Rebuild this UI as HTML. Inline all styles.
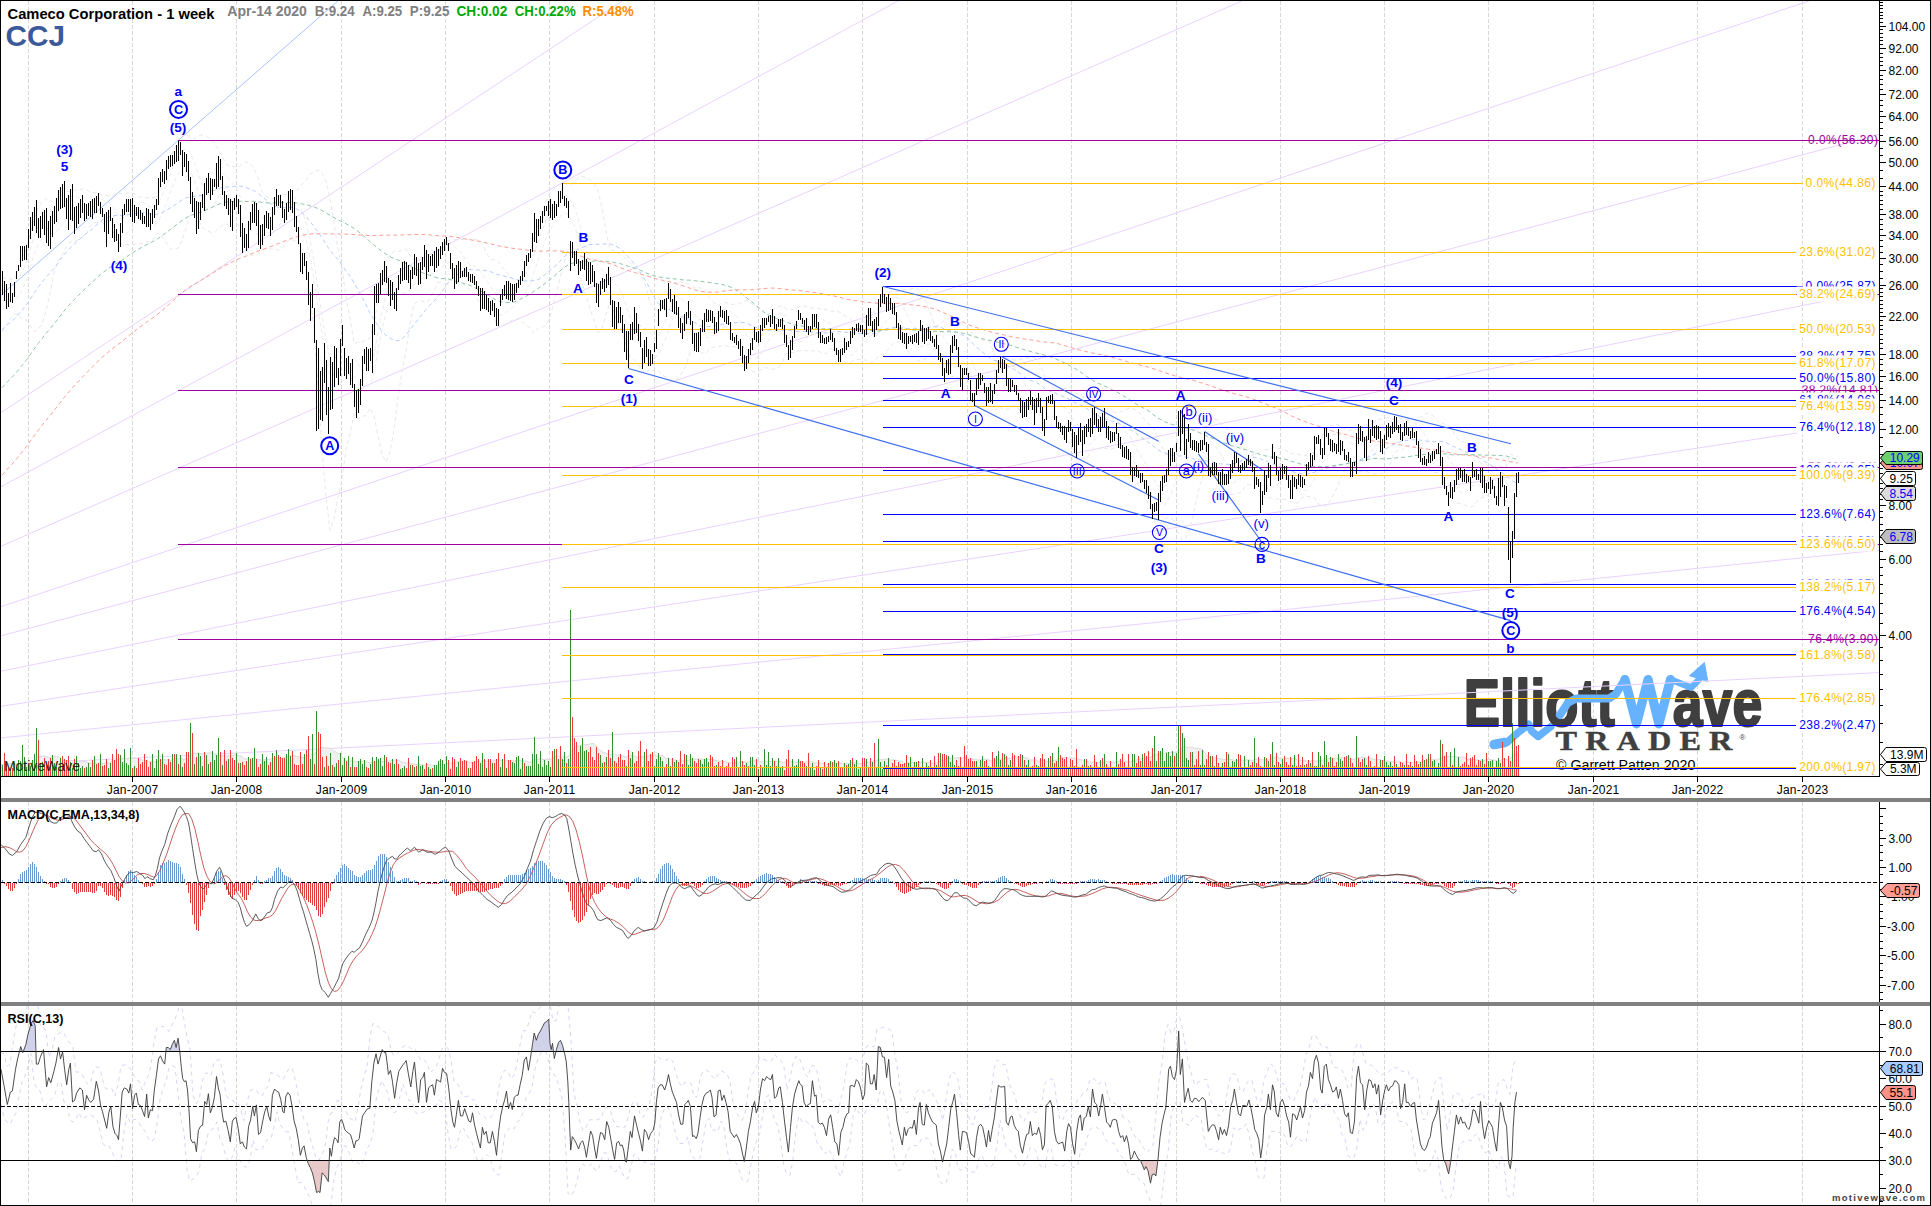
<!DOCTYPE html><html><head><meta charset="utf-8"><title>CCJ</title><style>html,body{margin:0;padding:0;background:#fff}svg{display:block}</style></head><body><svg width="1931" height="1206" viewBox="0 0 1931 1206" font-family="Liberation Sans, sans-serif" font-size="12px"><rect width="1931" height="1206" fill="#fff"/><path d="M28.5 1V776M28.5 802V1002M28.5 1006V1204M132.5 1V776M132.5 802V1002M132.5 1006V1204M236.5 1V776M236.5 802V1002M236.5 1006V1204M341.5 1V776M341.5 802V1002M341.5 1006V1204M445.5 1V776M445.5 802V1002M445.5 1006V1204M549.5 1V776M549.5 802V1002M549.5 1006V1204M654.5 1V776M654.5 802V1002M654.5 1006V1204M758.5 1V776M758.5 802V1002M758.5 1006V1204M862.5 1V776M862.5 802V1002M862.5 1006V1204M967.5 1V776M967.5 802V1002M967.5 1006V1204M1071.5 1V776M1071.5 802V1002M1071.5 1006V1204M1176.5 1V776M1176.5 802V1002M1176.5 1006V1204M1280.5 1V776M1280.5 802V1002M1280.5 1006V1204M1384.5 1V776M1384.5 802V1002M1384.5 1006V1204M1488.5 1V776M1488.5 802V1002M1488.5 1006V1204M1593.5 1V776M1593.5 802V1002M1593.5 1006V1204M1697.5 1V776M1697.5 802V1002M1697.5 1006V1204M1802.5 1V776M1802.5 802V1002M1802.5 1006V1204" stroke="#d8d8d8" stroke-width="1" stroke-dasharray="4 2" fill="none" shape-rendering="crispEdges"/><defs><clipPath id="cm"><rect x="1" y="1" width="1878" height="775"/></clipPath><clipPath id="cmacd"><rect x="1" y="802" width="1878" height="201"/></clipPath><clipPath id="crsi"><rect x="1" y="1006" width="1878" height="199"/></clipPath></defs><path d="M1496.8 744.5 L1507.2 742.3 L1518 732.6 L1528.8 724.3 L1531.6 731.2 L1538.2 736.5 L1550.8 726.6" stroke="#66b2ff" stroke-width="7.5" fill="none" stroke-linejoin="round" stroke-linecap="round"/><path d="M1494 744.5 L1504.7 742.5" stroke="#66b2ff" stroke-width="9.5" fill="none" stroke-linecap="round"/><g font-weight="bold" fill="#3f3f3f" stroke="#3f3f3f" stroke-width="2.2" stroke-linejoin="round"><text x="1463.8" y="726.3" font-size="67px" textLength="151" lengthAdjust="spacingAndGlyphs">Elliott</text><text x="1672.8" y="726.3" font-size="67px" textLength="89.4" lengthAdjust="spacingAndGlyphs">ave</text></g><path d="M1559.9 715 L1567.7 703.1 L1576 698.4 L1609.2 698.4 L1615.8 694.1 L1624.9 679.5" stroke="#66b2ff" stroke-width="8" fill="none" stroke-linejoin="round" stroke-linecap="round"/><path d="M1624.9 679.5 L1636.5 723.9 L1648.1 679.5 L1658.9 723.9 L1670.5 679.5" stroke="#66b2ff" stroke-width="9.2" fill="none" stroke-linejoin="round" stroke-linecap="round"/><path d="M1670.5 679.5 L1691.2 687.6 L1698.6 679.9" stroke="#66b2ff" stroke-width="6.5" fill="none" stroke-linejoin="round" stroke-linecap="round"/><path d="M1689.5 675.7 L1704.4 662.5 L1707.8 681.5 Z" fill="#66b2ff" stroke="#66b2ff" stroke-width="1" stroke-linejoin="round"/><text transform="translate(1555.6,750.4) scale(1.22,1)" font-family="Liberation Serif, serif" font-weight="bold" font-size="26.5px" letter-spacing="6.6" fill="#3f3f3f" stroke="#3f3f3f" stroke-width="0.4">TRADER</text><text x="1739.5" y="739.5" font-size="8px" fill="#3f3f3f">®</text><text x="1556" y="770.3" font-size="13.8px" fill="#000" textLength="139.3" lengthAdjust="spacingAndGlyphs">© Garrett Patten 2020</text><g clip-path="url(#cm)"><path d="M0 413.3L1879 -831.5M0 487.3L1879 -530.2M0 546.7L1879 -279.1M0 607L1879 -22.5M0 636.1L1879 134.4M0 671.4L1879 290M0 706.5L1879 420.5M0 738L1879 550.2M0 764.6L1879 672.6" stroke="#ead2ff" stroke-width="1" fill="none"/><path d="M0 296L339 0" stroke="#a9c2ff" stroke-width="1" fill="none"/><polygon points="0,776 2,764.8 4,763.9 6,763.7 8,763.9 10,764.2 12,764.5 14,764.4 16,764.6 18,764.2 20,763.9 22,762.4 24,761.8 26,762 28,762 30,763.1 32,762.9 34,761.8 36,758.7 38,756.5 40,756.6 42,756.2 44,756 46,756.3 48,757.5 50,757.6 52,756.7 54,756.5 56,756.5 58,757.2 60,757.5 62,759.6 64,761 66,760.7 68,760.2 70,760.5 72,760.7 74,760.5 76,760.4 78,761 80,761.4 82,761.4 84,761.4 86,762 88,762.6 90,763.2 92,763.2 94,763.2 96,763.4 98,763 100,762.6 102,763.3 104,763.5 106,762.8 108,763 110,762.6 112,761.6 114,761.4 116,759.9 118,759.5 120,759.4 122,759.2 124,758.1 126,758.8 128,758.8 130,757.5 132,758.2 134,758 136,758.4 138,758.8 140,759.1 142,760.1 144,760.1 146,760.6 148,760.9 150,762 152,761.3 154,761.5 156,762.4 158,761 160,760.5 162,759.4 164,759.8 166,759.9 168,759.6 170,760.3 172,759.8 174,758.8 176,758.1 178,758.9 180,757.9 182,758.5 184,759.5 186,758.9 188,758.7 190,755.6 192,753.1 194,753.5 196,753.1 198,753 200,753.3 202,754.2 204,753.3 206,753.3 208,753 210,752.9 212,752.8 214,753.5 216,755.9 218,756.3 220,755.3 222,755.9 224,755.7 226,756.1 228,755.6 230,755.4 232,755.7 234,755.3 236,754.6 238,755.5 240,755.7 242,756.3 244,758.4 246,759.1 248,758.5 250,759.2 252,758.9 254,758.1 256,758.8 258,759.5 260,759.8 262,759.9 264,759.8 266,759.3 268,759.5 270,759.3 272,758.7 274,758.7 276,757.9 278,757.7 280,758.4 282,758.4 284,757.7 286,756.9 288,756.6 290,756.2 292,755.7 294,755.7 296,755.9 298,756.9 300,756.5 302,757.6 304,757.5 306,757 308,755.2 310,755.4 312,753.9 314,755 316,751.9 318,750.5 320,748.1 322,747.5 324,747.6 326,748 328,748.1 330,748.1 332,749.2 334,751.6 336,751.9 338,753.9 340,753.1 342,756.8 344,758.8 346,760.9 348,760.8 350,760.8 352,760.9 354,761 356,762 358,761.6 360,761.1 362,761.2 364,761.1 366,762.2 368,762.4 370,762.8 372,762.5 374,762.8 376,762.1 378,762.2 380,761.6 382,761.5 384,761.1 386,760.9 388,760.7 390,761 392,760.5 394,760.2 396,759.9 398,760.4 400,761 402,761.9 404,762.4 406,763.2 408,762.5 410,763.3 412,763.9 414,764.3 416,764.5 418,764.3 420,764.4 422,764.8 424,765.2 426,764.8 428,764.7 430,764.9 432,764.9 434,765.5 436,765.5 438,765.2 440,764.6 442,764.1 444,764.7 446,763.9 448,763.5 450,763.5 452,763 454,762.5 456,762.3 458,761.9 460,761.4 462,761.1 464,761 466,761.2 468,761.8 470,762.1 472,762.5 474,762.6 476,761.6 478,761.7 480,762 482,760.8 484,760.6 486,761.3 488,761.2 490,761.1 492,761.2 494,760.9 496,760.2 498,759.5 500,760 502,760.3 504,759.9 506,760.4 508,761 510,761 512,760.6 514,760.9 516,760.7 518,760.2 520,760.7 522,760.6 524,761.3 526,761.2 528,761.7 530,762.6 532,761.5 534,759.7 536,759.2 538,759.3 540,758.4 542,759.2 544,759.5 546,759.1 548,759.4 550,759.7 552,758.6 554,757.3 556,756 558,756.4 560,757.1 562,757.5 564,756.5 566,757.5 568,756.9 570,753.5 572,749.8 574,748.1 576,746.1 578,746.2 580,746 582,745.2 584,744.5 586,744.9 588,744.4 590,744 592,743.5 594,743.6 596,745.9 598,748.7 600,750.1 602,751.7 604,752.5 606,753.3 608,754.2 610,754.8 612,753.4 614,754 616,755.2 618,755.2 620,754.7 622,755.7 624,756.2 626,757 628,756 630,755.7 632,755.3 634,756.4 636,756.5 638,758 640,756.5 642,756.8 644,756.5 646,756.1 648,756.2 650,755.7 652,754.6 654,755.8 656,755.9 658,755.9 660,755.5 662,755.5 664,756.8 666,758.6 668,757.9 670,759 672,759.7 674,759.8 676,760.2 678,761.1 680,759.9 682,760.2 684,760.3 686,760.2 688,760.5 690,759.5 692,759 694,759.3 696,759 698,759.1 700,759 702,759.3 704,759 706,759.6 708,759.4 710,759.5 712,759.7 714,759.7 716,760.6 718,760.9 720,761.2 722,761 724,761.6 726,762.1 728,762 730,762.7 732,762.7 734,762.5 736,762.6 738,763.3 740,762.2 742,761.9 744,762.1 746,761.8 748,762.3 750,761.5 752,760.8 754,760.9 756,760.2 758,761.1 760,761.5 762,762.3 764,761 766,762 768,761.4 770,761.5 772,761.2 774,760.7 776,761.4 778,761.5 780,761.6 782,762.2 784,762.2 786,761.8 788,760.5 790,761.8 792,761.4 794,762.4 796,762.3 798,762.4 800,762.4 802,762 804,762.4 806,762.4 808,761.4 810,761.2 812,761.5 814,763.1 816,763 818,763 820,763.1 822,763.4 824,763.6 826,764.1 828,764.3 830,764.1 832,763.8 834,764.3 836,763.9 838,763.8 840,763.6 842,763.7 844,764 846,763.8 848,763.4 850,763.3 852,762.6 854,762.7 856,762.6 858,763.1 860,763.8 862,763.4 864,763.2 866,762.6 868,762.5 870,762.1 872,761.9 874,760.3 876,760.9 878,759.4 880,759.3 882,760 884,759.3 886,759.1 888,759.1 890,759.9 892,760.2 894,759.7 896,760.3 898,760.3 900,761.9 902,761.6 904,763.4 906,762.9 908,762.4 910,762.1 912,762.4 914,762.6 916,762.2 918,762 920,762.7 922,762.1 924,762.4 926,762.3 928,762.5 930,762.3 932,763.2 934,762.6 936,763.2 938,762.1 940,761.4 942,760.8 944,760.2 946,759.2 948,759 950,758.6 952,758.1 954,758 956,758 958,757.9 960,758 962,758.2 964,757.6 966,757.8 968,758.1 970,758.4 972,758.9 974,759.3 976,759.3 978,760.2 980,759.9 982,759.6 984,759.1 986,759.4 988,759.3 990,760.9 992,760.6 994,760.6 996,760.4 998,759.7 1000,759.6 1002,758.9 1004,757.9 1006,757.6 1008,758.3 1010,758.2 1012,757.7 1014,756.8 1016,756.9 1018,757.2 1020,756.9 1022,756.8 1024,757.5 1026,757.8 1028,758.4 1030,759.5 1032,760.2 1034,759.6 1036,760 1038,761 1040,761.2 1042,760.2 1044,760.5 1046,761.5 1048,761.7 1050,761.4 1052,760.4 1054,760.6 1056,760.2 1058,758.7 1060,758.6 1062,758 1064,757.5 1066,757.4 1068,758.4 1070,758.4 1072,757.9 1074,758.5 1076,758 1078,759.2 1080,759.6 1082,759.8 1084,760.8 1086,761 1088,761.7 1090,762.1 1092,762.8 1094,761.9 1096,762.1 1098,762.7 1100,762.3 1102,763 1104,761.8 1106,761.6 1108,761.8 1110,762 1112,762.6 1114,762.8 1116,761.8 1118,761.6 1120,761.9 1122,761.3 1124,760.8 1126,761.3 1128,760.9 1130,762 1132,761.2 1134,760.1 1136,760.2 1138,759.4 1140,758.9 1142,759 1144,758.1 1146,757.9 1148,757.7 1150,757.7 1152,756.2 1154,754.8 1156,754.4 1158,754.2 1160,754 1162,752.8 1164,753.2 1166,752.6 1168,752.5 1170,752.7 1172,752.3 1174,752.7 1176,752 1178,750.3 1180,749.6 1182,747.4 1184,746.4 1186,747 1188,747.8 1190,747.1 1192,747.1 1194,748.1 1196,748.3 1198,748.3 1200,749 1202,748.8 1204,751.8 1206,754.4 1208,755.8 1210,757.2 1212,757.1 1214,757.6 1216,757.8 1218,758.6 1220,758.8 1222,759.1 1224,760 1226,759 1228,759.3 1230,759.5 1232,759.6 1234,760.4 1236,760.7 1238,760.5 1240,759.6 1242,760.6 1244,760.1 1246,760.1 1248,759.8 1250,760.1 1252,760.8 1254,759.6 1256,759.3 1258,758.9 1260,759.2 1262,759.8 1264,760 1266,760.3 1268,759.8 1270,759.6 1272,757.6 1274,758 1276,757.1 1278,757.1 1280,759.1 1282,758.8 1284,758.7 1286,758.4 1288,758.3 1290,758.3 1292,758.9 1294,758.4 1296,759.4 1298,760.3 1300,760.3 1302,760.5 1304,760.8 1306,760.8 1308,760.8 1310,761.4 1312,760.6 1314,760.7 1316,761.4 1318,760.4 1320,760.4 1322,760.4 1324,759.4 1326,758.6 1328,759 1330,758.4 1332,757.9 1334,758.4 1336,758.3 1338,758.4 1340,757.9 1342,757.5 1344,757.8 1346,757.8 1348,757 1350,758.3 1352,759 1354,759.4 1356,757.7 1358,757.8 1360,757.4 1362,757.2 1364,757.5 1366,758 1368,757.6 1370,757.9 1372,758.8 1374,759.6 1376,759.3 1378,759.6 1380,759 1382,760.9 1384,760.7 1386,760.7 1388,761.2 1390,761.6 1392,761.7 1394,761.7 1396,762 1398,762 1400,761.7 1402,762.4 1404,762.3 1406,761.8 1408,762.1 1410,762.6 1412,762.9 1414,762.2 1416,762 1418,761.9 1420,762.3 1422,761.6 1424,761 1426,760.7 1428,760 1430,759.2 1432,759.8 1434,759.4 1436,759.9 1438,759.6 1440,758.4 1442,757.2 1444,756.6 1446,755.8 1448,756.7 1450,756.1 1452,756.6 1454,756.1 1456,757.2 1458,756.8 1460,757.3 1462,757 1464,757 1466,758 1468,759.6 1470,759.7 1472,760.1 1474,759.3 1476,760.2 1478,759.8 1480,760.8 1482,760.2 1484,760.8 1486,759.7 1488,759.5 1490,759.4 1492,759.9 1494,760.1 1496,760.4 1498,760.4 1500,761 1502,759.2 1504,759 1506,759.5 1508,759.2 1510,759 1512,756.7 1514,755 1516,753.9 1518,752.7 1518,776" fill="#f0f0f0" stroke="#dcdcdc" stroke-width="1"/><path d="M2.5 776V764.8M10.5 776V768.6M14.5 776V763.3M16.5 776V767.4M18.5 776V760.4M20.5 776V761.1M22.5 776V745.2M24.5 776V757.1M26.5 776V767M28.5 776V764.7M30.5 776V766.4M32.5 776V760M34.5 776V753.8M36.5 776V728M40.5 776V764.4M42.5 776V762.4M52.5 776V754.6M54.5 776V762.7M56.5 776V766.5M60.5 776V757.6M70.5 776V761.6M72.5 776V767.7M76.5 776V756.3M78.5 776V762.8M80.5 776V768.2M82.5 776V766M86.5 776V766.5M88.5 776V762.6M90.5 776V767.2M94.5 776V756M100.5 776V753.7M108.5 776V768.2M110.5 776V762.5M120.5 776V754.5M122.5 776V762M124.5 776V749M126.5 776V762.7M128.5 776V764.8M130.5 776V748M134.5 776V766.4M152.5 776V754.4M154.5 776V767.5M156.5 776V759.2M158.5 776V750.4M162.5 776V753.6M172.5 776V754.2M176.5 776V754M180.5 776V754.5M182.5 776V767.1M190.5 776V723M194.5 776V764.2M198.5 776V753.1M200.5 776V756.3M202.5 776V766M206.5 776V754.5M208.5 776V764.3M212.5 776V750.5M214.5 776V760.4M216.5 776V754.7M218.5 776V738M222.5 776V764.7M228.5 776V759.3M236.5 776V752.5M240.5 776V762.8M248.5 776V756.5M252.5 776V757.9M254.5 776V748.3M262.5 776V753.7M264.5 776V760.9M266.5 776V756.7M272.5 776V752.6M276.5 776V749.9M286.5 776V753.6M288.5 776V749.1M290.5 776V756.2M304.5 776V754.3M310.5 776V759.4M312.5 776V734M316.5 776V711M324.5 776V766.8M330.5 776V753.4M334.5 776V766.6M336.5 776V762.7M340.5 776V753.4M342.5 776V765M344.5 776V757.9M348.5 776V756.3M352.5 776V757.4M358.5 776V760.7M360.5 776V759.3M362.5 776V763.9M364.5 776V759.9M370.5 776V763.6M372.5 776V756.9M376.5 776V757M378.5 776V759.3M380.5 776V757.9M382.5 776V765.9M384.5 776V755.3M392.5 776V759.4M394.5 776V764.3M400.5 776V768.5M402.5 776V768.3M404.5 776V765.8M410.5 776V765.4M414.5 776V767.1M418.5 776V756.1M420.5 776V765.9M422.5 776V765.1M428.5 776V766.5M430.5 776V769.2M434.5 776V765M436.5 776V765.1M438.5 776V761.3M440.5 776V759.1M442.5 776V759.6M444.5 776V764M446.5 776V756M456.5 776V767.4M458.5 776V762.4M468.5 776V767.5M480.5 776V762.5M482.5 776V752.5M486.5 776V768.2M492.5 776V762.6M500.5 776V767.3M502.5 776V759.2M506.5 776V768.4M512.5 776V762.3M514.5 776V763M516.5 776V757.2M518.5 776V756M520.5 776V769M522.5 776V757.8M526.5 776V765.7M528.5 776V765.5M530.5 776V766.3M532.5 776V753.6M534.5 776V737M536.5 776V753.7M538.5 776V764M540.5 776V751.2M542.5 776V767.4M544.5 776V759.5M546.5 776V764.7M548.5 776V761.3M550.5 776V766.8M554.5 776V748.9M558.5 776V758.9M562.5 776V758.5M564.5 776V752M568.5 776V759.3M570.5 776V610M580.5 776V745.9M582.5 776V738.1M584.5 776V750.6M586.5 776V750.4M600.5 776V755.4M602.5 776V763.1M606.5 776V757M612.5 776V732M626.5 776V766M630.5 776V758.4M632.5 776V752.2M642.5 776V766.9M644.5 776V752.4M654.5 776V766M656.5 776V759.3M658.5 776V752.5M660.5 776V757.4M662.5 776V760.6M668.5 776V757.9M670.5 776V766.1M674.5 776V761.7M676.5 776V760.1M686.5 776V755.2M688.5 776V765M690.5 776V754.3M692.5 776V758.1M700.5 776V760.3M702.5 776V764M704.5 776V759.1M706.5 776V757.5M708.5 776V761.7M716.5 776V764.9M736.5 776V756.8M740.5 776V751.1M746.5 776V762.8M750.5 776V757M752.5 776V757M754.5 776V764.9M758.5 776V769M762.5 776V767.2M764.5 776V749.4M766.5 776V764.5M768.5 776V752.1M770.5 776V766M772.5 776V758.3M776.5 776V765.6M778.5 776V758.1M780.5 776V766.7M782.5 776V766.1M792.5 776V758.6M794.5 776V765.5M796.5 776V765M798.5 776V759.2M806.5 776V766.4M810.5 776V767.8M812.5 776V762.7M814.5 776V769.7M820.5 776V766.9M826.5 776V767.2M830.5 776V761M834.5 776V759.8M836.5 776V763.1M844.5 776V762.9M848.5 776V763.7M850.5 776V760M854.5 776V764M856.5 776V759.5M858.5 776V769.3M860.5 776V768.3M866.5 776V759M872.5 776V762.3M876.5 776V767.9M878.5 776V739M880.5 776V761.5M882.5 776V769.4M884.5 776V760.5M888.5 776V758.3M908.5 776V762.7M910.5 776V757.1M914.5 776V761.8M916.5 776V762M920.5 776V768M922.5 776V758.3M926.5 776V762.5M928.5 776V766M936.5 776V765.1M940.5 776V752.9M948.5 776V755.8M950.5 776V761.8M952.5 776V755M954.5 776V764.7M976.5 776V760.9M978.5 776V767.6M980.5 776V760.1M982.5 776V755.7M988.5 776V765.9M990.5 776V766.5M996.5 776V756.1M998.5 776V751.4M1000.5 776V759.7M1004.5 776V754.1M1008.5 776V764.8M1010.5 776V760M1022.5 776V754.9M1026.5 776V764.7M1028.5 776V760M1030.5 776V767.4M1036.5 776V765.4M1038.5 776V766.2M1046.5 776V766.5M1048.5 776V758.2M1052.5 776V752.6M1058.5 776V746.8M1068.5 776V767.7M1084.5 776V759.2M1088.5 776V766.2M1092.5 776V766.8M1100.5 776V759.7M1104.5 776V753.6M1112.5 776V766.9M1114.5 776V767.6M1116.5 776V752.1M1132.5 776V753.8M1134.5 776V753.7M1142.5 776V753.8M1154.5 776V735.5M1156.5 776V761M1160.5 776V751M1162.5 776V748.1M1164.5 776V761M1166.5 776V752.8M1168.5 776V751.9M1170.5 776V755.8M1172.5 776V750.9M1176.5 776V753.2M1178.5 776V725M1182.5 776V733M1184.5 776V738M1186.5 776V758.4M1188.5 776V759.7M1192.5 776V752.1M1200.5 776V765.3M1202.5 776V749.6M1204.5 776V764.9M1210.5 776V756.1M1214.5 776V765.8M1220.5 776V767.6M1222.5 776V763.3M1228.5 776V754.1M1230.5 776V767.4M1232.5 776V760.8M1234.5 776V762.3M1236.5 776V759.2M1242.5 776V767.9M1244.5 776V755.6M1248.5 776V759.9M1254.5 776V738M1264.5 776V756.6M1268.5 776V761.4M1272.5 776V742.3M1274.5 776V764.6M1280.5 776V764.1M1282.5 776V759.3M1292.5 776V765.2M1294.5 776V755.4M1304.5 776V765.4M1310.5 776V762.7M1314.5 776V766.3M1316.5 776V766.3M1318.5 776V752.2M1320.5 776V756.2M1324.5 776V741M1326.5 776V754.7M1330.5 776V757M1338.5 776V753.7M1340.5 776V759M1342.5 776V761.4M1348.5 776V754.7M1354.5 776V766.6M1356.5 776V736M1364.5 776V757.6M1366.5 776V765.3M1372.5 776V767.6M1378.5 776V766.7M1380.5 776V759.9M1384.5 776V755.5M1386.5 776V762M1388.5 776V765.1M1390.5 776V762.3M1392.5 776V766.4M1396.5 776V764.1M1404.5 776V764.8M1412.5 776V766M1420.5 776V762.2M1424.5 776V760.1M1428.5 776V753.9M1432.5 776V761.3M1434.5 776V760.4M1436.5 776V767.5M1438.5 776V762.7M1440.5 776V740M1450.5 776V752.4M1454.5 776V747.6M1456.5 776V767.5M1458.5 776V756.9M1482.5 776V759.3M1488.5 776V760.9M1490.5 776V760.5M1492.5 776V759.8M1496.5 776V761.1M1498.5 776V758.1M1500.5 776V762.6M1512.5 776V723" stroke="#2f922f" stroke-width="1" fill="none" shape-rendering="crispEdges"/><path d="M4.5 776V752.6M6.5 776V761.9M8.5 776V768.4M12.5 776V768.2M38.5 776V740M44.5 776V757.5M46.5 776V765.3M48.5 776V761.3M50.5 776V758.3M58.5 776V768.2M62.5 776V755.9M64.5 776V758.5M66.5 776V760.1M68.5 776V756.3M74.5 776V759M84.5 776V767.6M92.5 776V760.1M96.5 776V764.1M98.5 776V762.9M102.5 776V765.6M104.5 776V764.7M106.5 776V759.2M112.5 776V753.5M114.5 776V760.2M116.5 776V748.5M118.5 776V754.1M132.5 776V768.1M136.5 776V767.6M138.5 776V758.2M140.5 776V763.9M142.5 776V762.1M144.5 776V754.3M146.5 776V760.4M148.5 776V766.5M150.5 776V762.3M160.5 776V759.2M164.5 776V763.5M166.5 776V765M168.5 776V758.9M170.5 776V762.3M174.5 776V753.5M178.5 776V763.9M184.5 776V763.2M186.5 776V751.5M188.5 776V751.7M192.5 776V733M196.5 776V756.9M204.5 776V751.8M210.5 776V761.6M220.5 776V751.5M224.5 776V750M226.5 776V761.1M230.5 776V750.1M232.5 776V757.9M234.5 776V759.5M238.5 776V762.6M242.5 776V762.4M244.5 776V764.7M246.5 776V760.7M250.5 776V759.4M256.5 776V759M258.5 776V766.9M260.5 776V763.8M268.5 776V764.9M270.5 776V762.3M274.5 776V756.4M278.5 776V755.4M280.5 776V757.2M282.5 776V758.3M284.5 776V757.8M292.5 776V750.9M294.5 776V764.3M296.5 776V765.2M298.5 776V765.2M300.5 776V751.7M302.5 776V763.7M306.5 776V750.2M308.5 776V736M314.5 776V763.9M318.5 776V732M320.5 776V734M322.5 776V757.1M326.5 776V756.1M328.5 776V766M332.5 776V765.4M338.5 776V760.1M346.5 776V761.2M350.5 776V766.6M354.5 776V766.5M356.5 776V766.9M366.5 776V766.5M368.5 776V767.5M374.5 776V760.9M386.5 776V757.1M388.5 776V761.9M390.5 776V763.4M396.5 776V759.4M398.5 776V763.7M406.5 776V768.1M408.5 776V757.5M412.5 776V765.3M416.5 776V765.7M424.5 776V769.2M426.5 776V762.8M432.5 776V768M448.5 776V759.5M450.5 776V768.7M452.5 776V757.2M454.5 776V759.3M460.5 776V758.4M462.5 776V761.4M464.5 776V760M466.5 776V761.2M470.5 776V767.8M472.5 776V761.7M474.5 776V760.8M476.5 776V756M478.5 776V758.5M484.5 776V759.3M488.5 776V759.4M490.5 776V759.3M494.5 776V762.8M496.5 776V758.9M498.5 776V752.9M504.5 776V754.4M508.5 776V760.2M510.5 776V760.1M524.5 776V762.6M552.5 776V751M556.5 776V748.9M560.5 776V746.1M566.5 776V763.4M572.5 776V717M574.5 776V738M576.5 776V742M578.5 776V752.2M588.5 776V752.1M590.5 776V747.2M592.5 776V756.5M594.5 776V760.1M596.5 776V746.9M598.5 776V753.4M604.5 776V762.4M608.5 776V749.5M610.5 776V758.2M614.5 776V760.5M616.5 776V762.5M618.5 776V756.6M620.5 776V753.5M622.5 776V759.6M624.5 776V760.4M628.5 776V750.1M634.5 776V762.6M636.5 776V760.5M638.5 776V751M640.5 776V740.8M646.5 776V748.6M648.5 776V761.1M650.5 776V753.9M652.5 776V751.6M664.5 776V767.4M666.5 776V764.3M672.5 776V758.2M678.5 776V762.3M680.5 776V750.7M682.5 776V763.8M684.5 776V753.9M694.5 776V761.4M696.5 776V762.6M698.5 776V759.1M710.5 776V755.2M712.5 776V757.4M714.5 776V765.9M718.5 776V762.1M720.5 776V766M722.5 776V759.9M724.5 776V767.1M726.5 776V766.2M728.5 776V762.9M730.5 776V768.4M732.5 776V757.1M734.5 776V759.4M738.5 776V766.8M742.5 776V760.6M744.5 776V764.5M748.5 776V765.8M756.5 776V759M760.5 776V764.8M774.5 776V760.5M784.5 776V769.9M786.5 776V758.9M788.5 776V750M790.5 776V767.2M800.5 776V760.8M802.5 776V760.5M804.5 776V763M808.5 776V753.3M816.5 776V766.2M818.5 776V759.5M822.5 776V768.9M824.5 776V761.5M828.5 776V762.5M832.5 776V762M838.5 776V761M840.5 776V766.9M842.5 776V768M846.5 776V765.1M852.5 776V757.7M862.5 776V757.7M864.5 776V758.2M868.5 776V766.5M870.5 776V757.9M874.5 776V743M886.5 776V765.1M890.5 776V768.1M892.5 776V763.3M894.5 776V759.5M896.5 776V766.2M898.5 776V762.3M900.5 776V763.6M902.5 776V763.6M904.5 776V762.9M906.5 776V755.1M912.5 776V768.2M918.5 776V761.1M924.5 776V766.9M930.5 776V760.1M932.5 776V766.5M934.5 776V755.6M938.5 776V753.4M942.5 776V753.6M944.5 776V754M946.5 776V755.2M956.5 776V759.9M958.5 776V766.1M960.5 776V756.6M962.5 776V767.4M964.5 776V746.1M966.5 776V754.7M968.5 776V758.5M970.5 776V758M972.5 776V761.3M974.5 776V761.2M984.5 776V760.6M986.5 776V760.4M992.5 776V751.6M994.5 776V757.7M1002.5 776V752.5M1006.5 776V756.1M1012.5 776V753.2M1014.5 776V755.3M1016.5 776V766.9M1018.5 776V755.9M1020.5 776V753.6M1024.5 776V760M1032.5 776V765.5M1034.5 776V757.3M1040.5 776V758M1042.5 776V754.3M1044.5 776V758.9M1050.5 776V755.6M1054.5 776V762.5M1056.5 776V761.2M1060.5 776V755.3M1062.5 776V758.2M1064.5 776V759M1066.5 776V757M1070.5 776V758.6M1072.5 776V760.3M1074.5 776V766.2M1076.5 776V749.2M1078.5 776V768.2M1080.5 776V766.6M1082.5 776V764.8M1086.5 776V758.7M1090.5 776V764.6M1094.5 776V754.9M1096.5 776V762.2M1098.5 776V768.2M1102.5 776V758.3M1106.5 776V764.2M1108.5 776V767.3M1110.5 776V761.4M1118.5 776V764.3M1120.5 776V759M1122.5 776V753.6M1124.5 776V762.1M1126.5 776V766.5M1128.5 776V753.5M1130.5 776V767.1M1136.5 776V762.8M1138.5 776V755.9M1140.5 776V760.6M1144.5 776V753.3M1146.5 776V756.1M1148.5 776V751.4M1150.5 776V761.3M1152.5 776V747.6M1158.5 776V751.3M1174.5 776V756.2M1180.5 776V726M1190.5 776V751.8M1194.5 776V764.8M1196.5 776V759.2M1198.5 776V750.7M1206.5 776V759.4M1208.5 776V752M1212.5 776V756.4M1216.5 776V755M1218.5 776V762.5M1224.5 776V761.9M1226.5 776V752.3M1238.5 776V753.9M1240.5 776V754.6M1246.5 776V767.8M1250.5 776V764.9M1252.5 776V762.3M1256.5 776V763.3M1258.5 776V756.6M1260.5 776V766.1M1262.5 776V766.6M1266.5 776V757.7M1270.5 776V753.5M1276.5 776V753.3M1278.5 776V761.8M1284.5 776V755.7M1286.5 776V762.3M1288.5 776V765.4M1290.5 776V757.2M1296.5 776V765.9M1298.5 776V753.6M1300.5 776V764.8M1302.5 776V756.5M1306.5 776V763.9M1308.5 776V759.5M1312.5 776V752.3M1322.5 776V764.9M1328.5 776V761.7M1332.5 776V758M1334.5 776V765.8M1336.5 776V761.6M1344.5 776V756.7M1346.5 776V755.9M1350.5 776V758M1352.5 776V763.2M1358.5 776V758.3M1360.5 776V761.5M1362.5 776V758.5M1368.5 776V756.1M1370.5 776V760.6M1374.5 776V765.7M1376.5 776V753.6M1382.5 776V760.3M1394.5 776V756.3M1398.5 776V768.1M1400.5 776V761.9M1402.5 776V762.9M1406.5 776V753.6M1408.5 776V764.7M1410.5 776V762M1414.5 776V755.1M1416.5 776V760.5M1418.5 776V764.3M1422.5 776V754.5M1426.5 776V758.7M1430.5 776V753.5M1442.5 776V744M1444.5 776V756.3M1446.5 776V751.8M1448.5 776V766.6M1452.5 776V765.3M1460.5 776V766.1M1462.5 776V763.9M1464.5 776V762.1M1466.5 776V753.1M1468.5 776V765.1M1470.5 776V758M1472.5 776V757.1M1474.5 776V755.3M1476.5 776V764.8M1478.5 776V759.5M1480.5 776V761.1M1484.5 776V764.4M1486.5 776V752.6M1494.5 776V768.2M1502.5 776V741.5M1504.5 776V757.6M1506.5 776V767.2M1508.5 776V755.8M1510.5 776V761.4M1514.5 776V738M1516.5 776V746M1518.5 776V745" stroke="#ee3a3a" stroke-width="1" fill="none" shape-rendering="crispEdges"/><polyline points="2,278.1 6,278.1 10,278.9 14,279.7 18,272.1 22,258.8 26,249.5 30,234.2 34,217.9 38,208.3 42,201.9 46,198.5 50,200.1 54,202.5 58,199.6 62,193.4 66,191.8 70,191.1 74,190 78,190 82,189.1 86,189.2 90,191.9 94,192.6 98,192.2 102,195.1 106,195.5 110,195.9 114,195.2 118,192.5 122,194.1 126,193.2 130,192.6 134,193.6 138,196.5 142,197.8 146,197.6 150,197.9 154,197.5 158,195 162,182.3 166,171.9 170,159.4 174,149.7 178,140.5 182,135.3 186,134.2 190,137.2 194,138.9 198,136 202,134.9 206,135.6 210,138.6 214,142.9 218,149.1 222,155.9 226,164 230,166.6 234,166.2 238,167.3 242,164.1 246,161.8 250,164.1 254,168.1 258,178.2 262,191.6 266,196.2 270,198.6 274,199.2 278,197 282,193.9 286,194.6 290,191.5 294,190.4 298,189.9 302,184.5 306,180.5 310,174 314,171.9 318,170.1 322,173.4 326,181.1 330,198.3 334,223.3 338,249.1 342,268.3 346,296.8 350,317.5 354,343.4 358,342.3 362,342.1 366,339.7 370,338.4 374,324.4 378,299.6 382,279.4 386,262 390,254.6 394,251.4 398,251.7 402,250.2 406,249 410,255 414,260 418,258.4 422,256.2 426,252.5 430,250.4 434,250.8 438,252.1 442,247.6 446,241 450,240.4 454,239.7 458,239.5 462,239.3 466,239.6 470,239.4 474,239.5 478,240 482,242.6 486,251.8 490,259.1 494,260 498,261.4 502,266.2 506,271.5 510,275.8 514,280.3 518,279.7 522,274 526,263.8 530,253.3 534,236.7 538,225.5 542,213.3 546,201.1 550,192.9 554,189.2 558,186.1 562,182.6 566,183.5 570,185.1 574,182 578,178.3 582,176.3 586,177.4 590,179.9 594,183.6 598,190.6 602,208 606,231.1 610,249.2 614,250.9 618,253 622,256 626,258.4 630,262.2 634,268.9 638,271.6 642,277 646,287 650,303.4 654,307.8 658,311.2 662,304.9 666,297.5 670,287.1 674,283.5 678,281.7 682,282.2 686,282.6 690,284.9 694,288 698,286.9 702,288.8 706,290.8 710,298.7 714,302.9 718,305.6 722,303.1 726,302.4 730,304.4 734,304.3 738,304.3 742,301.8 746,300.1 750,302.9 754,305.4 758,307.5 762,312.7 766,315 770,313.1 774,308.8 778,306.8 782,305.4 786,309 790,309.5 794,309.5 798,307.5 802,306 806,306.4 810,307.9 814,308.4 818,308.3 822,309.3 826,309.2 830,311.3 834,311.1 838,311.3 842,314 846,316.6 850,318.3 854,322.6 858,323.8 862,321.5 866,319.2 870,313.3 874,311.7 878,309.1 882,299.6 886,295.1 890,292.4 894,291.4 898,291.4 902,290.7 906,289.5 910,288.9 914,288.4 918,288.9 922,295.6 926,302.6 930,312.1 934,323.2 938,326.1 942,322.4 946,318.9 950,318.9 954,319.4 958,320.7 962,323.5 966,327.1 970,331.6 974,333.9 978,338.4 982,340 986,340.1 990,341.9 994,353.9 998,364.2 1002,359.8 1006,358.9 1010,359.4 1014,360.1 1018,359.9 1022,359.1 1026,357.9 1030,357.7 1034,357.2 1038,361.3 1042,370 1046,379.2 1050,383.2 1054,388.6 1058,390.7 1062,389.4 1066,388.1 1070,390.9 1074,391.2 1078,394.1 1082,396.2 1086,398.2 1090,407.2 1094,414.6 1098,414.2 1102,412.8 1106,411.2 1110,411.8 1114,412.2 1118,412.8 1122,411.3 1126,409.3 1130,408.1 1134,408.9 1138,411.3 1142,415.8 1146,421.9 1150,424.9 1154,428.8 1158,438.4 1162,446.9 1166,454.3 1170,454.8 1174,449.3 1178,434.9 1182,421.2 1186,415.8 1190,411.1 1194,411.9 1198,415.6 1202,418.6 1206,421.7 1210,420.5 1214,418.8 1218,420 1222,425.3 1226,427.3 1230,432.8 1234,436.2 1238,439.4 1242,445.1 1246,455.1 1250,454.4 1254,454.2 1258,453.6 1262,449.9 1266,449.7 1270,449.6 1274,447 1278,448.5 1282,449.1 1286,450.3 1290,453 1294,454 1298,454 1302,455.8 1306,455.4 1310,453.1 1314,452.7 1318,441.5 1322,437.3 1326,429.4 1330,425.8 1334,424.8 1338,424.6 1342,426.8 1346,430.6 1350,430.6 1354,429.2 1358,429.1 1362,426.1 1366,428.4 1370,425.6 1374,421.6 1378,419.4 1382,419.1 1386,418 1390,417.6 1394,419.5 1398,418.7 1402,418.7 1406,419.5 1410,419.7 1414,420.2 1418,419.3 1422,415.7 1426,413.3 1430,413.6 1434,416.8 1438,421.3 1442,422.9 1446,424.8 1450,426.9 1454,433.2 1458,439.2 1462,441.3 1466,443 1470,446 1474,450.2 1478,459.4 1482,464.3 1486,464.5 1490,466.3 1494,466.5 1498,465.2 1502,466.7 1506,467.2 1510,454.1 1514,455.4 1518,456.6" stroke="#e8e8e8" stroke-dasharray="4 3" fill="none"/><polyline points="2,331.9 6,325.4 10,319.4 14,314 18,314.2 22,319.1 26,319.8 30,325.7 34,331.5 38,329.5 42,323.9 46,311.1 50,293.1 54,272.6 58,261.4 62,256.1 66,246.5 70,241.9 74,241.7 78,240 82,237.3 86,234.5 90,226.2 94,222.8 98,222.5 102,222.1 106,226.9 110,228.4 114,233.2 118,241.5 122,244.4 126,244.6 130,244.7 134,244.6 138,243.3 142,243.3 146,241.9 150,241.9 154,238.8 158,232.8 162,236.8 166,242.2 170,248.6 174,249.6 178,248.3 182,240.7 186,228.1 190,214.7 194,210.5 198,218.6 202,226.9 206,230.3 210,232.1 214,232.5 218,229 222,225 226,223.6 230,226.9 234,228.4 238,224.3 242,233.6 246,248 250,254.9 254,256 258,253.4 262,249.6 266,248.7 270,249 274,248.8 278,250.4 282,248.8 286,242.1 290,239.8 294,240 298,242.4 302,254.6 306,270 310,297.8 314,328.1 318,387.6 322,448.4 326,497.2 330,530.1 334,518.5 338,496.8 342,478.8 346,449.8 350,433.8 354,414.2 358,419.1 362,416.4 366,415.4 370,407.8 374,416 378,435.5 382,454.4 386,462.2 390,451.8 394,430.2 398,397.4 402,371.1 406,350.9 410,323.8 414,304.3 418,301.2 422,301 426,302.5 430,298.9 434,290.8 438,282.3 442,282.4 446,284 450,279.8 454,282 458,282.9 462,283.9 466,286.3 470,289.9 474,293.8 478,300.1 482,307.8 486,309.4 490,312.1 494,318.3 498,326.5 502,326.1 506,323.6 510,321.4 514,319 518,319.3 522,321.4 526,325.7 530,327.7 534,333.5 538,328.2 542,327.2 546,325.6 550,317.1 554,301.7 558,285.9 562,270.6 566,254.7 570,247.5 574,255.7 578,268.6 582,282.6 586,295.4 590,308.4 594,320.1 598,332.9 602,328.3 606,314 610,302 614,313.3 618,322.7 622,331.3 626,345.8 630,356.9 634,359.3 638,363.6 642,371.3 646,373.1 650,368.4 654,371.6 658,370.4 662,375.2 666,376.7 670,379.8 674,379.8 678,378.7 682,372.9 686,365.4 690,352.2 694,344.9 698,349.4 702,352.9 706,353.2 710,348.6 714,347.1 718,346.5 722,346.1 726,346 730,346.4 734,346.8 738,346.9 742,354.1 746,366 750,370.9 754,371.8 758,372 762,369.2 766,367.6 770,368.6 774,369.4 778,368.1 782,363.6 786,353.7 790,352.7 794,352.3 798,351 802,350.5 806,350.6 810,351 814,350.8 818,350.9 822,353 826,353.8 830,348.5 834,349.4 838,356.4 842,360.8 846,362.3 850,362.8 854,360.3 858,359.3 862,359.9 866,360.1 870,362.7 874,361.6 878,356.9 882,356.1 886,351.9 890,346.7 894,342.7 898,342.2 902,344.4 906,348.2 910,354 914,357.5 918,361.3 922,360 926,358.8 930,354.3 934,348.6 938,350 942,360.1 946,370.8 950,376.1 954,376.2 958,377.5 962,384.7 966,388.4 970,393.9 974,404 978,406.6 982,408.4 986,413.3 990,418 994,414 998,406.2 1002,408.5 1006,409.1 1010,408.9 1014,405.4 1018,407.7 1022,415.1 1026,420.2 1030,422.1 1034,426.1 1038,428 1042,428 1046,427.3 1050,425.7 1054,423.6 1058,427.6 1062,433.8 1066,440.8 1070,443.1 1074,450 1078,455 1082,458 1086,458.8 1090,453.9 1094,448.3 1098,448.5 1102,448.6 1106,448.2 1110,449.5 1114,448.2 1118,446.2 1122,449.8 1126,456.4 1130,465 1134,476.4 1138,484.6 1142,491.6 1146,497.8 1150,508.4 1154,520.3 1158,524.2 1162,522.2 1166,518.2 1170,517.8 1174,520.9 1178,532.1 1182,540 1186,537.2 1190,528.8 1194,511.5 1198,492.3 1202,478.8 1206,467.3 1210,470 1214,475 1218,482 1222,487 1226,493 1230,494.6 1234,494.3 1238,493.6 1242,491.7 1246,485 1250,484.8 1254,485.8 1258,488.1 1262,496.8 1266,497.8 1270,497.6 1274,498.9 1278,499.1 1282,499.4 1286,499.5 1290,501.5 1294,503 1298,503 1302,497.4 1306,496.3 1310,496.7 1314,497.2 1318,504 1322,504.3 1326,506.6 1330,501.2 1334,493.7 1338,485.6 1342,475.1 1346,466.5 1350,466.3 1354,470.6 1358,471.6 1362,471.8 1366,471.4 1370,472.7 1374,473.8 1378,473.9 1382,473.6 1386,470.7 1390,464.4 1394,453.4 1398,450.4 1402,450.4 1406,445.5 1410,445.4 1414,445.7 1418,449.1 1422,456.1 1426,464.3 1430,469.9 1434,472.6 1438,472.5 1442,476.9 1446,487.6 1450,498.8 1454,503.4 1458,503 1462,504.1 1466,505.5 1470,507 1474,505.5 1478,500.2 1482,497.3 1486,497 1490,493.1 1494,492.6 1498,498.3 1502,498.5 1506,501.4 1510,532 1514,544 1518,543.6" stroke="#e8e8e8" stroke-dasharray="4 3" fill="none"/><polyline points="2,283.7 6,282.1 10,281.9 14,282.1 18,278.4 22,272.1 26,263.8 30,251 34,236.3 38,226.9 42,220.9 46,215.4 50,215.4 54,215.5 58,212 62,206.3 66,201.8 70,197.2 74,195.6 78,197.6 82,199.5 86,201.6 90,201.8 94,200.9 98,198.2 102,199 106,201.7 110,203.5 114,208 118,215.5 122,219.2 126,215.3 130,212.9 134,209.3 138,204.1 142,202 146,204.2 150,206.8 154,207.2 158,204.1 162,195.8 166,186.5 170,175 174,164.4 178,155.6 182,151.3 186,148.9 190,152.5 194,161 198,173.3 202,183.7 206,190.5 210,191.7 214,187.6 218,179.2 222,173.6 226,175.3 230,179.8 234,184.6 238,190.8 242,201.3 246,209.1 250,212.7 254,213.3 258,217.1 262,218.3 266,214.8 270,214 274,213.8 278,209.1 282,203.2 286,201.6 290,197.1 294,196.2 298,202.2 302,212.2 306,221.8 310,240.4 314,261.3 318,289.8 322,314.9 326,339.2 330,360.7 334,376.5 338,372.9 342,362.9 346,361 350,356 354,357.6 358,363.6 362,371.1 366,369.4 370,366.7 374,354.7 378,332.1 382,311.7 386,294.9 390,283.2 394,277.4 398,276.8 402,275.4 406,274.9 410,272.2 414,266.9 418,262.9 422,261.9 426,259.7 430,256.8 434,255.2 438,252.7 442,249.1 446,245.6 450,244 454,246.6 458,249.6 462,254 466,260.1 470,265 474,265.8 478,268.7 482,274 486,279.7 490,285.6 494,291.4 498,297.3 502,296.9 506,294.5 510,291.4 514,288.4 518,282.3 522,278.5 526,273.2 530,265.9 534,254 538,242.6 542,231.1 546,220.2 550,211.1 554,206.4 558,201.6 562,196.3 566,194.8 570,199.1 574,206.9 578,217.8 582,232.5 586,246.3 590,255.1 594,259.5 598,265.8 602,269.8 606,273.5 610,275.5 614,282.9 618,286.8 622,293.4 626,304.9 630,316.9 634,319.2 638,321.8 642,327.6 646,329.1 650,332.3 654,337.9 658,338.1 662,328.6 666,319.8 670,307 674,298.2 678,295.3 682,299.7 686,302.4 690,306.8 694,313.2 698,319.1 702,319.8 706,319.4 710,319.8 714,316.6 718,313.2 722,309.5 726,309.1 730,311.1 734,314.5 738,318 742,325.6 746,334.8 750,340.3 754,340.4 758,339.2 762,334.7 766,326.7 770,320.3 774,316.4 778,314.1 782,313 786,315.9 790,321.8 794,325.6 798,324.5 802,323.5 806,321 810,317.1 814,313.8 818,314.9 822,318.8 826,321.8 830,323.3 834,327.4 838,333 842,336 846,337.1 850,337.9 854,336 858,330.8 862,326 866,322.8 870,317.9 874,316.9 878,315 882,308.5 886,303 890,300.2 894,296.7 898,298.1 902,305.3 906,312.7 910,320.3 914,326.7 918,329.2 922,328.2 926,327.3 930,326.2 934,326.6 938,328.4 942,334.8 946,341.6 950,347.6 954,347.9 958,348.6 962,351.4 966,351.7 970,355.5 974,366.7 978,373.8 982,374.1 986,378.3 990,380.3 994,379.2 998,376.7 1002,373.5 1006,369 1010,367.5 1014,366.2 1018,370.5 1022,379 1026,387 1030,390.1 1034,394.6 1038,396.5 1042,397.5 1046,399.2 1050,398.9 1054,398.3 1058,402.4 1062,405.6 1066,408.7 1070,414.3 1074,421.6 1078,425.1 1082,426.8 1086,426.5 1090,426.6 1094,422.1 1098,418.5 1102,415.5 1106,413.7 1110,415.4 1114,419 1118,421.3 1122,426.2 1126,432 1130,436.6 1134,443.8 1138,451.5 1142,457.7 1146,464.3 1150,471.9 1154,478.9 1158,485.7 1162,487.8 1166,486.1 1170,478.1 1174,467.5 1178,453.2 1182,441 1186,434.3 1190,429.9 1194,427.9 1198,430.3 1202,434.2 1206,434.4 1210,440.1 1214,444.6 1218,449.8 1222,456.3 1226,464 1230,465.8 1234,464.6 1238,462.1 1242,460.1 1246,457.2 1250,454.7 1254,456.4 1258,460.4 1262,466.1 1266,469.8 1270,472.4 1274,468.5 1278,466.3 1282,461.6 1286,459.4 1290,461.7 1294,467.8 1298,470 1302,471.9 1306,472.7 1310,468.1 1314,461.9 1318,453.3 1322,447.2 1326,439.6 1330,435.6 1334,434.1 1338,435 1342,434.3 1346,438.1 1350,442.1 1354,446.1 1358,445.9 1362,443.4 1366,441.7 1370,435.8 1374,428.7 1378,426.4 1382,428.2 1386,426.1 1390,425.8 1394,425 1398,423.7 1402,421.9 1406,420.2 1410,420.7 1414,422.3 1418,425.7 1422,430.3 1426,436.8 1430,441.8 1434,446.3 1438,447.7 1442,448.7 1446,453.3 1450,460.2 1454,467.1 1458,472.6 1462,475 1466,473.1 1470,470.6 1474,467.1 1478,467.1 1482,467.6 1486,469.3 1490,470.1 1494,473.4 1498,477.5 1502,478.7 1506,480.2 1510,491.3 1514,499.4 1518,496.1" stroke="#ececec" stroke-dasharray="4 3" fill="none"/><polyline points="2,301.7 6,300.1 10,299.9 14,300.1 18,296.4 22,290.1 26,281.8 30,269 34,254.3 38,244.9 42,238.9 46,233.4 50,233.4 54,233.5 58,230 62,224.3 66,219.8 70,215.2 74,213.6 78,215.6 82,217.5 86,219.6 90,219.8 94,218.9 98,216.2 102,217 106,219.7 110,221.5 114,226 118,233.5 122,237.2 126,233.3 130,230.9 134,227.3 138,222.1 142,220 146,222.2 150,224.8 154,225.2 158,222.1 162,213.8 166,204.5 170,193 174,182.4 178,173.6 182,169.3 186,166.9 190,170.5 194,179 198,191.3 202,201.7 206,208.5 210,209.7 214,205.6 218,197.2 222,191.6 226,193.3 230,197.8 234,202.6 238,208.8 242,219.3 246,227.1 250,230.7 254,231.3 258,235.1 262,236.3 266,232.8 270,232 274,231.8 278,227.1 282,221.2 286,219.6 290,215.1 294,214.2 298,220.2 302,230.2 306,239.8 310,258.4 314,279.3 318,307.8 322,332.9 326,357.2 330,378.7 334,394.5 338,390.9 342,380.9 346,379 350,374 354,375.6 358,381.6 362,389.1 366,387.4 370,384.7 374,372.7 378,350.1 382,329.7 386,312.9 390,301.2 394,295.4 398,294.8 402,293.4 406,292.9 410,290.2 414,284.9 418,280.9 422,279.9 426,277.7 430,274.8 434,273.2 438,270.7 442,267.1 446,263.6 450,262 454,264.6 458,267.6 462,272 466,278.1 470,283 474,283.8 478,286.7 482,292 486,297.7 490,303.6 494,309.4 498,315.3 502,314.9 506,312.5 510,309.4 514,306.4 518,300.3 522,296.5 526,291.2 530,283.9 534,272 538,260.6 542,249.1 546,238.2 550,229.1 554,224.4 558,219.6 562,214.3 566,212.8 570,217.1 574,224.9 578,235.8 582,250.5 586,264.3 590,273.1 594,277.5 598,283.8 602,287.8 606,291.5 610,293.5 614,300.9 618,304.8 622,311.4 626,322.9 630,334.9 634,337.2 638,339.8 642,345.6 646,347.1 650,350.3 654,355.9 658,356.1 662,346.6 666,337.8 670,325 674,316.2 678,313.3 682,317.7 686,320.4 690,324.8 694,331.2 698,337.1 702,337.8 706,337.4 710,337.8 714,334.6 718,331.2 722,327.5 726,327.1 730,329.1 734,332.5 738,336 742,343.6 746,352.8 750,358.3 754,358.4 758,357.2 762,352.7 766,344.7 770,338.3 774,334.4 778,332.1 782,331 786,333.9 790,339.8 794,343.6 798,342.5 802,341.5 806,339 810,335.1 814,331.8 818,332.9 822,336.8 826,339.8 830,341.3 834,345.4 838,351 842,354 846,355.1 850,355.9 854,354 858,348.8 862,344 866,340.8 870,335.9 874,334.9 878,333 882,326.5 886,321 890,318.2 894,314.7 898,316.1 902,323.3 906,330.7 910,338.3 914,344.7 918,347.2 922,346.2 926,345.3 930,344.2 934,344.6 938,346.4 942,352.8 946,359.6 950,365.6 954,365.9 958,366.6 962,369.4 966,369.7 970,373.5 974,384.7 978,391.8 982,392.1 986,396.3 990,398.3 994,397.2 998,394.7 1002,391.5 1006,387 1010,385.5 1014,384.2 1018,388.5 1022,397 1026,405 1030,408.1 1034,412.6 1038,414.5 1042,415.5 1046,417.2 1050,416.9 1054,416.3 1058,420.4 1062,423.6 1066,426.7 1070,432.3 1074,439.6 1078,443.1 1082,444.8 1086,444.5 1090,444.6 1094,440.1 1098,436.5 1102,433.5 1106,431.7 1110,433.4 1114,437 1118,439.3 1122,444.2 1126,450 1130,454.6 1134,461.8 1138,469.5 1142,475.7 1146,482.3 1150,489.9 1154,496.9 1158,503.7 1162,505.8 1166,504.1 1170,496.1 1174,485.5 1178,471.2 1182,459 1186,452.3 1190,447.9 1194,445.9 1198,448.3 1202,452.2 1206,452.4 1210,458.1 1214,462.6 1218,467.8 1222,474.3 1226,482 1230,483.8 1234,482.6 1238,480.1 1242,478.1 1246,475.2 1250,472.7 1254,474.4 1258,478.4 1262,484.1 1266,487.8 1270,490.4 1274,486.5 1278,484.3 1282,479.6 1286,477.4 1290,479.7 1294,485.8 1298,488 1302,489.9 1306,490.7 1310,486.1 1314,479.9 1318,471.3 1322,465.2 1326,457.6 1330,453.6 1334,452.1 1338,453 1342,452.3 1346,456.1 1350,460.1 1354,464.1 1358,463.9 1362,461.4 1366,459.7 1370,453.8 1374,446.7 1378,444.4 1382,446.2 1386,444.1 1390,443.8 1394,443 1398,441.7 1402,439.9 1406,438.2 1410,438.7 1414,440.3 1418,443.7 1422,448.3 1426,454.8 1430,459.8 1434,464.3 1438,465.7 1442,466.7 1446,471.3 1450,478.2 1454,485.1 1458,490.6 1462,493 1466,491.1 1470,488.6 1474,485.1 1478,485.1 1482,485.6 1486,487.3 1490,488.1 1494,491.4 1498,495.5 1502,496.7 1506,498.2 1510,509.3 1514,517.4 1518,514.1" stroke="#ececec" stroke-dasharray="4 3" fill="none"/><polyline points="2,329.9 6,326 10,322.6 14,319.2 18,314.9 22,310 26,305.2 30,299.5 34,293.2 38,287.5 42,282.2 46,277.2 50,273 54,268.3 58,263 62,257.4 66,252.5 70,248.2 74,244.3 78,240.8 82,237.1 86,233.8 90,230.7 94,227.4 98,223.6 102,220.4 106,218.3 110,216.6 114,215.7 118,215.4 122,215.6 126,215.2 130,214.3 134,213.8 138,213.1 142,212.6 146,212.9 150,213.8 154,214.7 158,214.1 162,212.8 166,210.6 170,208.1 174,205.6 178,202.7 182,200 186,197.9 190,196.9 194,196.4 198,196 202,195.4 206,193.7 210,191.6 214,190.3 218,188.9 222,187.5 226,187 230,186.8 234,186.5 238,185.9 242,186.3 246,187.5 250,189.2 254,190.8 258,193.2 262,196.5 266,199.7 270,203.2 274,205.7 278,207.3 282,207.8 286,207.8 290,207.2 294,207.6 298,209.7 302,212.7 306,216.3 310,221.6 314,226.3 318,232.2 322,237.9 326,244.1 330,250.3 334,255 338,259.6 342,264.9 346,271 350,276.4 354,282.5 358,289.9 362,296.8 366,304.8 370,313.2 374,319.9 378,325.6 382,331.4 386,335.3 390,338.1 394,340.2 398,340.9 402,339.2 406,335 410,329.9 414,324.8 418,319.4 422,314.4 426,309.7 430,305.1 434,301.2 438,296.6 442,291.6 446,285.6 450,280.4 454,277.2 458,274.1 462,271.2 466,270 470,269.5 474,269.7 478,270 482,270.3 486,270.4 490,271.5 494,272.9 498,274.7 502,275.6 506,276.7 510,277.4 514,278.9 518,279.9 522,280.8 526,281 530,281.1 534,280.4 538,279.6 542,277.1 546,273.6 550,270.2 554,267 558,263.4 562,259.1 566,255.2 570,252.5 574,250.7 578,249.2 582,247.7 586,246 590,244.7 594,244.2 598,244.3 602,244.1 606,243.9 610,243.9 614,245.3 618,247.3 622,250 626,254.2 630,258.8 634,263.6 638,268.9 642,275 646,281.3 650,288.9 654,296.8 658,303.4 662,306 666,308.5 670,309.9 674,312 678,314.1 682,316.7 686,318.4 690,319.4 694,321.9 698,325 702,326.3 706,326.4 710,326.5 714,326.1 718,325.1 722,324.3 726,324.1 730,323.6 734,323 738,322.6 742,322.4 746,323.1 750,324.8 754,326.4 758,328.2 762,329.5 766,330.3 770,330.2 774,329.9 778,330.4 782,330.3 786,330.1 790,330.6 794,331.2 798,331.4 802,331.5 806,331.5 810,332.1 814,332.3 818,332.7 822,332.8 826,332.8 830,332.5 834,331.7 838,331.5 842,331.8 846,332.2 850,332.5 854,332.9 858,333.2 862,333.7 866,333.9 870,333.6 874,333.5 878,332.3 882,330 886,328.7 890,328.1 894,327.4 898,327.3 902,327.7 906,328.6 910,328.8 914,328.8 918,328.7 922,328.4 926,327.9 930,327 934,326.7 938,326.8 942,327.9 946,329.5 950,331 954,331.4 958,332.7 962,335 966,336.9 970,340.3 974,344.7 978,348.4 982,351.7 986,355.2 990,357.9 994,360.3 998,361.7 1002,362.9 1006,364.4 1010,366.9 1014,369.2 1018,372 1022,375.1 1026,378.1 1030,380.2 1034,381.7 1038,383.3 1042,386.1 1046,389.6 1050,391.1 1054,392.4 1058,394.6 1062,396 1066,397.7 1070,399.7 1074,402.1 1078,404 1082,405.7 1086,408 1090,410.9 1094,413.6 1098,415.6 1102,417.4 1106,419.1 1110,420.6 1114,421.8 1118,423.1 1122,425.1 1126,427 1130,429.5 1134,431.5 1138,434.5 1142,437.9 1146,440.9 1150,443.7 1154,446.7 1158,449.8 1162,452.1 1166,453.5 1170,454.7 1174,455.5 1178,455.9 1182,456 1186,457.2 1190,457.8 1194,459.1 1198,459.9 1202,460.3 1206,460.8 1210,461.9 1214,462.7 1218,463.6 1222,464 1226,464.3 1230,464.3 1234,463.5 1238,462.3 1242,460.8 1246,459.2 1250,457.7 1254,457.4 1258,457.9 1262,459.6 1266,460.9 1270,463.1 1274,464.4 1278,465.8 1282,467.2 1286,468.4 1290,470.1 1294,472.1 1298,473.4 1302,473.9 1306,474.2 1310,473.5 1314,472.4 1318,470.6 1322,469.7 1326,468.6 1330,467.4 1334,466.5 1338,465.7 1342,464.8 1346,463.8 1350,462.6 1354,461.7 1358,460.2 1362,458.9 1366,458.3 1370,456.3 1374,454.5 1378,452.5 1382,450.7 1386,448.7 1390,446.6 1394,444.2 1398,442.4 1402,441.3 1406,440.6 1410,440.2 1414,439.6 1418,439.9 1422,440.4 1426,441 1430,441.6 1434,441.8 1438,441.5 1442,441.3 1446,442.4 1450,444.8 1454,446.7 1458,448.3 1462,450.1 1466,452.1 1470,454 1474,455.3 1478,457.3 1482,459.4 1486,462.3 1490,464.8 1494,467.3 1498,470.4 1502,472.7 1506,475.4 1510,479.2 1514,482 1518,483" stroke="#b8ceff" stroke-width="1" stroke-dasharray="4 3" fill="none"/><polyline points="2,387.7 6,383.4 10,379.2 14,375.2 18,370.5 22,365.4 26,360.5 30,355 34,349.2 38,343.7 42,338.5 46,333.4 50,328.9 54,324.1 58,318.9 62,313.6 66,308.7 70,304.1 74,299.9 78,295.9 82,291.7 86,287.9 90,284.1 94,280.4 98,276.6 102,273.2 106,270.4 110,267.4 114,264.8 118,262.5 122,260.1 126,257.2 130,254.4 134,251.9 138,249.4 142,247.2 146,245 150,243 154,240.9 158,238.5 162,235.7 166,232.8 170,229.7 174,226.7 178,223.5 182,220.6 186,217.9 190,215.8 194,214.3 198,213.1 202,211.8 206,210 210,208.2 214,206.3 218,204.5 222,203 226,202.1 230,201.7 234,201.5 238,201.2 242,201.3 246,201.5 250,201.5 254,201.3 258,201.6 262,202.3 266,202.7 270,203 274,203 278,202.7 282,202.7 286,202.7 290,202.6 294,202.6 298,203.1 302,203.9 306,204.6 310,205.8 314,206.9 318,208.6 322,210.6 326,212.9 330,215.4 334,217.6 338,219.8 342,221.7 346,223.8 350,225.9 354,228.3 358,231.3 362,234.6 366,237.9 370,241.6 374,245.1 378,248.4 382,251.4 386,254.1 390,256.6 394,258.5 398,260.1 402,261.6 406,263.5 410,265.6 414,267.7 418,270.2 422,272.6 426,274.1 430,275.4 434,276.7 438,278.1 442,278.6 446,278.7 450,279.3 454,280.8 458,282.1 462,282.9 466,284.1 470,285.4 474,287.1 478,289.4 482,291.7 486,293.9 490,296.5 494,299 498,301.1 502,301.9 506,302.5 510,302.4 514,302 518,300.3 522,298.4 526,296.4 530,293.9 534,291.3 538,288.5 542,285.9 546,282.7 550,279.6 554,276.3 558,272.8 562,269.2 566,266.2 570,264 574,262.7 578,262.1 582,261.9 586,261.7 590,261.4 594,261.1 598,261.1 602,261.4 606,261.6 610,261.7 614,262.5 618,263.3 622,264.1 626,265.5 630,266.8 634,267.9 638,269.2 642,270.9 646,272.8 650,274.5 654,275.8 658,276.8 662,277.4 666,278 670,278.4 674,278.8 678,279.3 682,279.8 686,280.1 690,280.2 694,280.7 698,281.1 702,281.6 706,282.1 710,282.6 714,283.1 718,283.8 722,284.4 726,285.4 730,286.8 734,288.9 738,291.3 742,294.1 746,297.4 750,300.6 754,303.7 758,306.9 762,310.5 766,313.7 770,315.9 774,317.4 778,318.9 782,320.2 786,321.8 790,323.4 794,324.8 798,325.4 802,326.1 806,327 810,328.1 814,328.2 818,328.4 822,328.8 826,328.8 830,328.7 834,329 838,329.5 842,329.6 846,329.5 850,329.2 854,328.9 858,328.8 862,329.3 866,329.8 870,330.4 874,330.9 878,331 882,330.3 886,329.9 890,329.7 894,329.1 898,328.7 902,328.8 906,329.2 910,329.7 914,330.1 918,330.3 922,330.7 926,331.1 930,331.2 934,331.3 938,331.4 942,331.6 946,331.7 950,331.9 954,331.9 958,332.2 962,333.1 966,334 970,335.2 974,336.6 978,337.6 982,338.7 986,339.6 990,340.4 994,341.3 998,342.4 1002,343.3 1006,344.2 1010,345.2 1014,346.5 1018,347.7 1022,349 1026,350.2 1030,351.3 1034,352.5 1038,353.4 1042,354.4 1046,355.6 1050,356.7 1054,358.1 1058,359.9 1062,361.7 1066,363.6 1070,365.8 1074,367.9 1078,370.3 1082,373.2 1086,375.9 1090,378.6 1094,381.1 1098,383.1 1102,384.9 1106,386.7 1110,388.6 1114,390.6 1118,392.6 1122,395.1 1126,397.5 1130,400 1134,402.7 1138,405.1 1142,407.3 1146,409.4 1150,411.9 1154,415.1 1158,418.1 1162,420.2 1166,422.3 1170,423.8 1174,425 1178,426.1 1182,427.2 1186,428.2 1190,429.1 1194,430.3 1198,432 1202,433.9 1206,435.6 1210,437.3 1214,439.1 1218,440.7 1222,442.1 1226,443.5 1230,445.1 1234,446.3 1238,447.5 1242,448.7 1246,449.7 1250,451.1 1254,452.5 1258,453.7 1262,455 1266,456 1270,456.9 1274,457.2 1278,457.8 1282,458.5 1286,459.4 1290,460.6 1294,462 1298,463.2 1302,464.5 1306,465.6 1310,466.2 1314,466.6 1318,466.7 1322,466.8 1326,466.5 1330,466.1 1334,465.5 1338,465 1342,464.3 1346,463.8 1350,463.1 1354,462.4 1358,461.2 1362,460.2 1366,459.6 1370,459 1374,458.4 1378,458.4 1382,458.8 1386,458.7 1390,458.6 1394,458.1 1398,457.6 1402,457.4 1406,457.1 1410,456.4 1414,455.7 1418,455.1 1422,454.7 1426,454.4 1430,454.1 1434,454 1438,453.7 1442,453.7 1446,454 1450,454.6 1454,454.9 1458,454.8 1462,454.4 1466,454.3 1470,454.5 1474,454.8 1478,454.9 1482,455 1486,455.2 1490,455.2 1494,455.3 1498,455.5 1502,455.6 1506,455.9 1510,457.2 1514,458.5 1518,459.3" stroke="#90c8a8" stroke-width="1" stroke-dasharray="4 3" fill="none"/><polyline points="2,475.2 6,470.7 10,466.3 14,462 18,457.2 22,452.1 26,447.1 30,441.7 34,436 38,430.6 42,425.4 46,420.3 50,415.6 54,410.7 58,405.5 62,400.3 66,395.3 70,390.6 74,386.1 78,381.9 82,377.5 86,373.4 90,369.3 94,365.3 98,361.2 102,357.4 106,354.1 110,350.6 114,347.5 118,344.5 122,341.5 126,338.1 130,334.7 134,331.6 138,328.4 142,325.5 146,322.6 150,319.8 154,317 158,313.9 162,310.5 166,307.1 170,303.5 174,299.9 178,296.3 182,292.8 186,289.5 190,286.7 194,284.3 198,282.1 202,279.8 206,277.3 210,274.8 214,272.3 218,269.7 222,267.1 226,265 230,263.1 234,261.1 238,259.2 242,257.6 246,256.1 250,254.5 254,252.8 258,251.2 262,249.8 266,248.3 270,246.8 274,245.3 278,243.6 282,242 286,240.5 290,238.9 294,237.5 298,236.3 302,235.4 306,234.6 310,234.1 314,233.6 318,233.7 322,233.7 326,233.8 330,233.9 334,234 338,234 342,234 346,234.1 350,234.3 354,234.5 358,234.9 362,235.1 366,235.3 370,235.6 374,235.6 378,235.5 382,235.3 386,235.1 390,235.1 394,235.1 398,235.1 402,235 406,234.8 410,234.7 414,234.5 418,234.5 422,234.6 426,234.7 430,234.9 434,235.4 438,235.7 442,236 446,236.2 450,236.4 454,236.9 458,237.6 462,238.3 466,239 470,239.7 474,240.4 478,241.1 482,242 486,242.8 490,243.7 494,244.7 498,245.7 502,246.6 506,247.2 510,247.9 514,248.5 518,248.9 522,249.4 526,250 530,250.6 534,250.8 538,251 542,251.1 546,251 550,250.8 554,250.8 558,250.9 562,251.1 566,251.5 570,252.5 574,253.7 578,255.1 582,256.5 586,257.9 590,259 594,259.8 598,260.6 602,261.5 606,262.5 610,263.7 614,265.1 618,266.7 622,268.3 626,269.8 630,271.1 634,272.3 638,273.6 642,274.7 646,275.7 650,276.9 654,278.3 658,279.4 662,280.1 666,281.1 670,281.9 674,282.9 678,284.3 682,285.6 686,286.8 690,288.2 694,289.6 698,290.8 702,291.5 706,292 710,292.2 714,292.3 718,291.9 722,291.3 726,290.8 730,290.4 734,290.1 738,289.9 742,289.9 746,289.9 750,289.8 754,289.5 758,289.1 762,288.7 766,288.4 770,288.1 774,288.1 778,288.4 782,288.8 786,289.3 790,289.9 794,290.2 798,290.5 802,290.9 806,291.5 810,292 814,292.5 818,293 822,293.7 826,294.5 830,295.2 834,296 838,296.9 842,297.9 846,299 850,299.9 854,300.5 858,301 862,301.6 866,302.2 870,302.6 874,303 878,303.3 882,303.3 886,303.3 890,303.3 894,303.3 898,303.4 902,303.7 906,304.2 910,304.7 914,305.1 918,305.6 922,306.1 926,306.9 930,307.7 934,308.9 938,310.3 942,311.9 946,313.8 950,315.6 954,317.3 958,319.1 962,321.4 966,323.6 970,325.3 974,326.8 978,328 982,329.2 986,330.5 990,331.7 994,332.9 998,333.7 1002,334.5 1006,335.4 1010,336.4 1014,337.1 1018,337.8 1022,338.6 1026,339.2 1030,339.7 1034,340.4 1038,341.1 1042,341.6 1046,342.1 1050,342.5 1054,342.9 1058,343.7 1062,344.8 1066,346 1070,347.2 1074,348.5 1078,349.6 1082,350.5 1086,351.5 1090,352.5 1094,353.3 1098,354 1102,354.8 1106,355.7 1110,356.8 1114,357.9 1118,358.9 1122,360.1 1126,361.3 1130,362.5 1134,363.6 1138,364.6 1142,365.6 1146,366.5 1150,367.6 1154,368.9 1158,370.3 1162,371.6 1166,373 1170,374.3 1174,375.6 1178,376.7 1182,377.7 1186,378.7 1190,379.5 1194,380.6 1198,381.8 1202,383.1 1206,384.3 1210,385.6 1214,387.1 1218,388.5 1222,389.8 1226,391.1 1230,392.4 1234,393.6 1238,394.6 1242,395.7 1246,396.8 1250,398 1254,399.4 1258,401 1262,402.6 1266,404.2 1270,405.9 1274,407.3 1278,409 1282,411 1286,413 1290,415.2 1294,417.2 1298,418.9 1302,420.5 1306,422 1310,423.4 1314,424.8 1318,426 1322,427.5 1326,428.8 1330,430.2 1334,431.5 1338,432.7 1342,433.7 1346,434.6 1350,435.8 1354,437.3 1358,438.4 1362,439.1 1366,440 1370,440.6 1374,441 1378,441.5 1382,442.3 1386,442.8 1390,443.3 1394,443.7 1398,444.4 1402,445.3 1406,446 1410,446.6 1414,447.2 1418,447.8 1422,448.3 1426,448.9 1430,449.5 1434,450.1 1438,450.6 1442,451.2 1446,451.8 1450,452.8 1454,453.7 1458,454.3 1462,454.7 1466,455.1 1470,455.7 1474,456 1478,456.4 1482,456.8 1486,457.3 1490,457.9 1494,458.6 1498,459.3 1502,460 1506,460.7 1510,461.7 1514,462.5 1518,463" stroke="#ffa098" stroke-width="1" stroke-dasharray="4 3" fill="none"/></g><text x="1878" y="144" text-anchor="end" fill="#a000a0" textLength="70" lengthAdjust="spacing">0.0%(56.30)</text><path d="M178 140.5H1879" stroke="#a000a0" stroke-width="1" shape-rendering="crispEdges"/><text x="1878" y="298" text-anchor="end" fill="#a000a0" textLength="76.3" lengthAdjust="spacing">23.6%(24.68)</text><path d="M178 294.5H1879" stroke="#a000a0" stroke-width="1" shape-rendering="crispEdges"/><text x="1878" y="394" text-anchor="end" fill="#a000a0" textLength="76.3" lengthAdjust="spacing">38.2%(14.81)</text><path d="M178 390.5H1879" stroke="#a000a0" stroke-width="1" shape-rendering="crispEdges"/><text x="1878" y="471" text-anchor="end" fill="#a000a0" textLength="70" lengthAdjust="spacing">50.0%(9.81)</text><path d="M178 467.5H1879" stroke="#a000a0" stroke-width="1" shape-rendering="crispEdges"/><text x="1878" y="548" text-anchor="end" fill="#a000a0" textLength="70" lengthAdjust="spacing">61.8%(6.50)</text><path d="M178 544.5H1879" stroke="#a000a0" stroke-width="1" shape-rendering="crispEdges"/><text x="1878" y="643" text-anchor="end" fill="#a000a0" textLength="70" lengthAdjust="spacing">76.4%(3.90)</text><path d="M178 639.5H1879" stroke="#a000a0" stroke-width="1" shape-rendering="crispEdges"/><path d="M883 286.5H1803" stroke="#0000ff" stroke-width="1" shape-rendering="crispEdges"/><rect x="1803" y="278.5" width="74.5" height="15" fill="#fff"/><text x="1875.5" y="290" text-anchor="end" fill="#0000ff" textLength="70" lengthAdjust="spacing">0.0%(25.87)</text><path d="M883 356.5H1796" stroke="#0000ff" stroke-width="1" shape-rendering="crispEdges"/><rect x="1796.7" y="348.5" width="80.8" height="15" fill="#fff"/><text x="1875.5" y="360" text-anchor="end" fill="#0000ff" textLength="76.3" lengthAdjust="spacing">38.2%(17.75)</text><path d="M883 378.5H1796" stroke="#0000ff" stroke-width="1" shape-rendering="crispEdges"/><rect x="1796.7" y="370.5" width="80.8" height="15" fill="#fff"/><text x="1875.5" y="382" text-anchor="end" fill="#0000ff" textLength="76.3" lengthAdjust="spacing">50.0%(15.80)</text><path d="M883 400.5H1796" stroke="#0000ff" stroke-width="1" shape-rendering="crispEdges"/><rect x="1796.7" y="392.5" width="80.8" height="15" fill="#fff"/><text x="1875.5" y="404" text-anchor="end" fill="#0000ff" textLength="76.3" lengthAdjust="spacing">61.8%(14.06)</text><path d="M883 427.5H1796" stroke="#0000ff" stroke-width="1" shape-rendering="crispEdges"/><rect x="1796.7" y="419.5" width="80.8" height="15" fill="#fff"/><text x="1875.5" y="431" text-anchor="end" fill="#0000ff" textLength="76.3" lengthAdjust="spacing">76.4%(12.18)</text><path d="M883 470.5H1796" stroke="#0000ff" stroke-width="1" shape-rendering="crispEdges"/><rect x="1796.7" y="462.5" width="80.8" height="15" fill="#fff"/><text x="1875.5" y="474" text-anchor="end" fill="#0000ff" textLength="76.3" lengthAdjust="spacing">100.0%(9.65)</text><path d="M883 514.5H1796" stroke="#0000ff" stroke-width="1" shape-rendering="crispEdges"/><rect x="1796.7" y="506.5" width="80.8" height="15" fill="#fff"/><text x="1875.5" y="518" text-anchor="end" fill="#0000ff" textLength="76.3" lengthAdjust="spacing">123.6%(7.64)</text><path d="M883 541.5H1796" stroke="#0000ff" stroke-width="1" shape-rendering="crispEdges"/><rect x="1796.7" y="533.5" width="80.8" height="15" fill="#fff"/><text x="1875.5" y="545" text-anchor="end" fill="#0000ff" textLength="76.3" lengthAdjust="spacing">138.2%(6.62)</text><path d="M883 584.5H1796" stroke="#0000ff" stroke-width="1" shape-rendering="crispEdges"/><rect x="1796.7" y="576.5" width="80.8" height="15" fill="#fff"/><text x="1875.5" y="588" text-anchor="end" fill="#0000ff" textLength="76.3" lengthAdjust="spacing">161.8%(5.25)</text><path d="M883 611.5H1796" stroke="#0000ff" stroke-width="1" shape-rendering="crispEdges"/><rect x="1796.7" y="603.5" width="80.8" height="15" fill="#fff"/><text x="1875.5" y="615" text-anchor="end" fill="#0000ff" textLength="76.3" lengthAdjust="spacing">176.4%(4.54)</text><path d="M883 654.5H1796" stroke="#0000ff" stroke-width="1" shape-rendering="crispEdges"/><rect x="1796.7" y="646.5" width="80.8" height="15" fill="#fff"/><text x="1875.5" y="658" text-anchor="end" fill="#0000ff" textLength="76.3" lengthAdjust="spacing">200.0%(3.60)</text><path d="M883 725.5H1796" stroke="#0000ff" stroke-width="1" shape-rendering="crispEdges"/><rect x="1796.7" y="717.5" width="80.8" height="15" fill="#fff"/><text x="1875.5" y="729" text-anchor="end" fill="#0000ff" textLength="76.3" lengthAdjust="spacing">238.2%(2.47)</text><path d="M883 768.5H1796" stroke="#0000ff" stroke-width="1" shape-rendering="crispEdges"/><rect x="1796.7" y="760.5" width="80.8" height="15" fill="#fff"/><text x="1875.5" y="772" text-anchor="end" fill="#0000ff" textLength="76.3" lengthAdjust="spacing">261.8%(1.96)</text><path d="M562 183.5H1803" stroke="#ffc000" stroke-width="1" shape-rendering="crispEdges"/><rect x="1803" y="175.5" width="74.5" height="15" fill="#fff"/><text x="1875.5" y="187" text-anchor="end" fill="#ffc000" textLength="70" lengthAdjust="spacing">0.0%(44.86)</text><path d="M562 252.5H1796" stroke="#ffc000" stroke-width="1" shape-rendering="crispEdges"/><rect x="1796.7" y="244.5" width="80.8" height="15" fill="#fff"/><text x="1875.5" y="256" text-anchor="end" fill="#ffc000" textLength="76.3" lengthAdjust="spacing">23.6%(31.02)</text><path d="M562 294.5H1796" stroke="#ffc000" stroke-width="1" shape-rendering="crispEdges"/><rect x="1796.7" y="286.5" width="80.8" height="15" fill="#fff"/><text x="1875.5" y="298" text-anchor="end" fill="#ffc000" textLength="76.3" lengthAdjust="spacing">38.2%(24.69)</text><path d="M562 329.5H1796" stroke="#ffc000" stroke-width="1" shape-rendering="crispEdges"/><rect x="1796.7" y="321.5" width="80.8" height="15" fill="#fff"/><text x="1875.5" y="333" text-anchor="end" fill="#ffc000" textLength="76.3" lengthAdjust="spacing">50.0%(20.53)</text><path d="M562 363.5H1796" stroke="#ffc000" stroke-width="1" shape-rendering="crispEdges"/><rect x="1796.7" y="355.5" width="80.8" height="15" fill="#fff"/><text x="1875.5" y="367" text-anchor="end" fill="#ffc000" textLength="76.3" lengthAdjust="spacing">61.8%(17.07)</text><path d="M562 406.5H1796" stroke="#ffc000" stroke-width="1" shape-rendering="crispEdges"/><rect x="1796.7" y="398.5" width="80.8" height="15" fill="#fff"/><text x="1875.5" y="410" text-anchor="end" fill="#ffc000" textLength="76.3" lengthAdjust="spacing">76.4%(13.59)</text><path d="M562 475.5H1796" stroke="#ffc000" stroke-width="1" shape-rendering="crispEdges"/><rect x="1796.7" y="467.5" width="80.8" height="15" fill="#fff"/><text x="1875.5" y="479" text-anchor="end" fill="#ffc000" textLength="76.3" lengthAdjust="spacing">100.0%(9.39)</text><path d="M562 544.5H1796" stroke="#ffc000" stroke-width="1" shape-rendering="crispEdges"/><rect x="1796.7" y="536.5" width="80.8" height="15" fill="#fff"/><text x="1875.5" y="548" text-anchor="end" fill="#ffc000" textLength="76.3" lengthAdjust="spacing">123.6%(6.50)</text><path d="M562 587.5H1796" stroke="#ffc000" stroke-width="1" shape-rendering="crispEdges"/><rect x="1796.7" y="579.5" width="80.8" height="15" fill="#fff"/><text x="1875.5" y="591" text-anchor="end" fill="#ffc000" textLength="76.3" lengthAdjust="spacing">138.2%(5.17)</text><path d="M562 655.5H1796" stroke="#ffc000" stroke-width="1" shape-rendering="crispEdges"/><rect x="1796.7" y="647.5" width="80.8" height="15" fill="#fff"/><text x="1875.5" y="659" text-anchor="end" fill="#ffc000" textLength="76.3" lengthAdjust="spacing">161.8%(3.58)</text><path d="M562 698.5H1796" stroke="#ffc000" stroke-width="1" shape-rendering="crispEdges"/><rect x="1796.7" y="690.5" width="80.8" height="15" fill="#fff"/><text x="1875.5" y="702" text-anchor="end" fill="#ffc000" textLength="76.3" lengthAdjust="spacing">176.4%(2.85)</text><path d="M562 767.5H1796" stroke="#ffc000" stroke-width="1" shape-rendering="crispEdges"/><rect x="1796.7" y="759.5" width="80.8" height="15" fill="#fff"/><text x="1875.5" y="771" text-anchor="end" fill="#ffc000" textLength="76.3" lengthAdjust="spacing">200.0%(1.97)</text><path d="M883 768.5H1796" stroke="#0000ff" stroke-width="1" shape-rendering="crispEdges"/><path d="M883 654.5H1796" stroke="#0000ff" stroke-width="1" shape-rendering="crispEdges"/><path d="M882.4 286.3L1510.9 443.7M628.5 368.5L1510.8 620.6M1001.2 356.4L1158.5 441.3M974.7 405.4L1158.5 500M1204.6 431.4L1262.5 470M1198.4 453.8L1261 541" stroke="#3d6df0" stroke-width="1.15" fill="none"/><path d="M2.5 271V295M4.5 281V301M6.5 284V309M8.5 293V307M10.5 283V302M12.5 293V303M14.5 282V297M16.5 271V279M18.5 265V271M20.5 246V267M22.5 246V261M24.5 246V260M26.5 245V260M28.5 229V248M30.5 217V239M32.5 212V231M34.5 207V226M36.5 200V233M38.5 218V238M40.5 216V238M42.5 212V229M44.5 210V235M46.5 208V243M48.5 221V246M50.5 216V249M52.5 211V237M54.5 206V224M56.5 198V222M58.5 190V211M60.5 187V209M62.5 184V208M64.5 181V207M66.5 198V219M68.5 195V230M70.5 189V220M72.5 184V221M74.5 207V234M76.5 206V228M78.5 203V224M80.5 199V218M82.5 195V213M84.5 203V221M86.5 204V219M88.5 203V216M90.5 201V217M92.5 199V219M94.5 198V213M96.5 196V213M98.5 193V206M100.5 202V214M102.5 208V217M104.5 214V232M106.5 212V247M108.5 210V234M110.5 207V221M112.5 218V238M114.5 224V242M116.5 229V241M118.5 234V252M120.5 223V247M122.5 209V233M124.5 204V215M126.5 199V212M128.5 199V212M130.5 199V217M132.5 198V222M134.5 205V223M136.5 207V216M138.5 207V219M140.5 210V220M142.5 213V224M144.5 216V224M146.5 208V227M148.5 209V227M150.5 213V230M152.5 209V224M154.5 205V218M156.5 199V210M158.5 178V205M160.5 172V187M162.5 169V182M164.5 171V184M166.5 160V180M168.5 156V169M170.5 155V167M172.5 155V166M174.5 151V164M176.5 145V162M178.5 141V161M180.5 142V155M182.5 150V176M184.5 152V167M186.5 154V172M188.5 161V181M190.5 177V204M192.5 192V212M194.5 198V218M196.5 201V234M198.5 202V229M200.5 202V220M202.5 194V208M204.5 183V211M206.5 178V195M208.5 173V193M210.5 178V200M212.5 179V195M214.5 179V187M216.5 163V189M218.5 156V187M220.5 159V180M222.5 176V195M224.5 191V206M226.5 195V209M228.5 198V215M230.5 199V227M232.5 201V231M234.5 198V210M236.5 195V207M238.5 199V214M240.5 205V237M242.5 223V253M244.5 228V248M246.5 234V251M248.5 221V248M250.5 212V230M252.5 204V223M254.5 202V223M256.5 203V226M258.5 210V245M260.5 225V249M262.5 224V245M264.5 215V236M266.5 211V228M268.5 213V229M270.5 217V236M272.5 207V230M274.5 197V215M276.5 189V206M278.5 195V206M280.5 195V208M282.5 201V218M284.5 209V223M286.5 203V220M288.5 191V212M290.5 189V210M292.5 190V213M294.5 202V227M296.5 216V232M298.5 227V244M300.5 243V272M302.5 253V274M304.5 253V266M306.5 261V280M308.5 272V305M310.5 292V321M312.5 284V308M314.5 308V343M316.5 340V431M318.5 348V429M320.5 371V420M322.5 367V421M324.5 343V383M326.5 360V415M328.5 387V434M330.5 357V410M332.5 362V409M334.5 346V387M336.5 348V378M338.5 368V385M340.5 339V376M342.5 325V346M344.5 348V376M346.5 358V379M348.5 356V374M350.5 363V385M352.5 359V388M354.5 384V407M356.5 390V418M358.5 389V413M360.5 379V405M362.5 356V386M364.5 349V364M366.5 347V371M368.5 349V371M370.5 348V361M372.5 324V373M374.5 286V335M376.5 284V303M378.5 283V303M380.5 273V294M382.5 270V285M384.5 261V282M386.5 266V283M388.5 278V296M390.5 280V306M392.5 282V300M394.5 292V309M396.5 288V311M398.5 275V290M400.5 268V284M402.5 262V281M404.5 261V280M406.5 262V280M408.5 265V283M410.5 270V289M412.5 267V279M414.5 254V275M416.5 257V276M418.5 263V285M420.5 262V284M422.5 257V270M424.5 245V267M426.5 250V279M428.5 254V272M430.5 256V266M432.5 254V266M434.5 251V272M436.5 247V268M438.5 249V266M440.5 246V259M442.5 242V255M444.5 239V251M446.5 237V245M448.5 243V251M450.5 253V269M452.5 263V279M454.5 268V289M456.5 265V284M458.5 261V282M460.5 262V278M462.5 271V277M464.5 268V277M466.5 267V277M468.5 272V281M470.5 274V282M472.5 274V283M474.5 276V285M476.5 281V289M478.5 286V296M480.5 288V311M482.5 288V309M484.5 291V309M486.5 295V310M488.5 298V312M490.5 301V315M492.5 300V311M494.5 303V317M496.5 308V326M498.5 309V326M500.5 294V306M502.5 289V300M504.5 285V296M506.5 281V299M508.5 281V300M510.5 283V301M512.5 284V302M514.5 284V300M516.5 283V293M518.5 280V288M520.5 276V285M522.5 271V281M524.5 261V277M526.5 255V266M528.5 253V262M530.5 249V258M532.5 233V252M534.5 213V242M536.5 219V243M538.5 219V236M540.5 216V229M542.5 211V223M544.5 206V216M546.5 206V211M548.5 201V216M550.5 199V218M552.5 204V220M554.5 201V218M556.5 204V216M558.5 191V207M560.5 191V203M562.5 183V199M564.5 196V206M566.5 198V208M568.5 201V218M570.5 241V271M572.5 242V258M574.5 251V266M576.5 251V264M578.5 259V275M580.5 261V271M582.5 260V269M584.5 253V270M586.5 259V281M588.5 262V285M590.5 262V284M592.5 265V282M594.5 271V287M596.5 283V303M598.5 284V307M600.5 281V295M602.5 278V289M604.5 279V292M606.5 274V288M608.5 267V285M610.5 277V305M612.5 300V327M614.5 301V329M616.5 307V329M618.5 302V323M620.5 307V323M622.5 315V333M624.5 324V352M626.5 331V360M628.5 331V368M630.5 324V340M632.5 322V340M634.5 307V334M636.5 313V333M638.5 324V341M640.5 332V347M642.5 348V369M644.5 340V363M646.5 337V357M648.5 349V366M650.5 350V366M652.5 354V364M654.5 343V352M656.5 330V349M658.5 309V326M660.5 300V311M662.5 300V309M664.5 299V310M666.5 298V317M668.5 283V299M670.5 289V302M672.5 299V312M674.5 295V314M676.5 301V315M678.5 307V328M680.5 318V333M682.5 323V339M684.5 314V331M686.5 312V324M688.5 301V318M690.5 311V325M692.5 321V344M694.5 333V351M696.5 333V352M698.5 332V352M700.5 328V346M702.5 320V332M704.5 313V332M706.5 309V322M708.5 310V322M710.5 310V321M712.5 311V323M714.5 317V334M716.5 322V333M718.5 311V331M720.5 306V317M722.5 310V318M724.5 311V322M726.5 310V324M728.5 316V325M730.5 322V340M732.5 333V341M734.5 337V343M736.5 335V345M738.5 341V349M740.5 339V356M742.5 346V363M744.5 355V371M746.5 356V369M748.5 349V363M750.5 343V355M752.5 338V350M754.5 327V340M756.5 332V342M758.5 331V343M760.5 325V342M762.5 318V331M764.5 318V328M766.5 318V325M768.5 316V322M770.5 315V327M772.5 309V324M774.5 316V329M776.5 324V331M778.5 319V327M780.5 319V327M782.5 318V329M784.5 325V343M786.5 335V347M788.5 345V360M790.5 340V358M792.5 336V350M794.5 326V338M796.5 321V329M798.5 310V320M800.5 313V320M802.5 318V324M804.5 320V330M806.5 318V332M808.5 326V335M810.5 326V332M812.5 314V329M814.5 314V327M816.5 314V328M818.5 322V338M820.5 332V343M822.5 335V343M824.5 338V344M826.5 337V344M828.5 336V342M830.5 329V340M832.5 333V342M834.5 338V351M836.5 348V355M838.5 350V362M840.5 349V362M842.5 348V355M844.5 338V353M846.5 342V350M848.5 341V347M850.5 331V344M852.5 327V338M854.5 328V335M856.5 324V331M858.5 323V332M860.5 325V332M862.5 325V334M864.5 330V337M866.5 315V335M868.5 308V326M870.5 308V326M872.5 321V332M874.5 319V337M876.5 317V330M878.5 299V326M880.5 294V307M882.5 287V303M884.5 294V304M886.5 297V312M888.5 294V311M890.5 298V310M892.5 303V314M894.5 303V315M896.5 312V328M898.5 323V339M900.5 325V340M902.5 332V343M904.5 333V344M906.5 333V349M908.5 336V344M910.5 336V342M912.5 335V344M914.5 334V342M916.5 333V343M918.5 331V345M920.5 320V331M922.5 325V342M924.5 328V344M926.5 328V341M928.5 327V339M930.5 331V341M932.5 336V343M934.5 339V347M936.5 335V349M938.5 345V360M940.5 353V362M942.5 358V376M944.5 368V382M946.5 360V373M948.5 359V375M950.5 345V374M952.5 336V353M954.5 335V346M956.5 339V350M958.5 347V367M960.5 365V387M962.5 368V390M964.5 368V375M966.5 368V375M968.5 373V380M970.5 380V401M972.5 393V402M974.5 393V406M976.5 378V395M978.5 373V389M980.5 373V385M982.5 375V381M984.5 383V393M986.5 387V406M988.5 387V403M990.5 383V402M992.5 390V404M994.5 384V394M996.5 370V384M998.5 360V373M1000.5 357V368M1002.5 359V373M1004.5 360V369M1006.5 364V386M1008.5 378V392M1010.5 379V392M1012.5 380V387M1014.5 385V392M1016.5 385V395M1018.5 393V401M1020.5 398V413M1022.5 401V418M1024.5 402V417M1026.5 399V417M1028.5 397V410M1030.5 391V405M1032.5 397V410M1034.5 399V425M1036.5 398V413M1038.5 393V407M1040.5 398V413M1042.5 407V431M1044.5 419V436M1046.5 397V420M1048.5 396V403M1050.5 395V404M1052.5 394V404M1054.5 401V420M1056.5 416V428M1058.5 422V429M1060.5 423V432M1062.5 426V435M1064.5 426V440M1066.5 427V443M1068.5 420V432M1070.5 422V431M1072.5 429V447M1074.5 432V453M1076.5 435V458M1078.5 428V445M1080.5 423V442M1082.5 430V456M1084.5 426V444M1086.5 424V437M1088.5 419V432M1090.5 418V437M1092.5 408V434M1094.5 407V425M1096.5 413V427M1098.5 419V432M1100.5 417V432M1102.5 413V427M1104.5 408V427M1106.5 421V438M1108.5 426V440M1110.5 431V443M1112.5 432V442M1114.5 432V441M1116.5 423V434M1118.5 433V448M1120.5 437V449M1122.5 445V457M1124.5 447V458M1126.5 446V459M1128.5 449V460M1130.5 452V475M1132.5 467V482M1134.5 468V476M1136.5 465V477M1138.5 470V478M1140.5 473V483M1142.5 473V482M1144.5 480V489M1146.5 480V493M1148.5 486V499M1150.5 492V509M1152.5 504V519M1154.5 503V512M1156.5 502V511M1158.5 493V520M1160.5 481V502M1162.5 476V491M1164.5 475V483M1166.5 469V482M1168.5 450V475M1170.5 448V466M1172.5 448V462M1174.5 452V462M1176.5 443V452M1178.5 411V436M1180.5 410V451M1182.5 410V434M1184.5 414V455M1186.5 439V459M1188.5 424V442M1190.5 433V448M1192.5 440V450M1194.5 440V451M1196.5 441V452M1198.5 443V453M1200.5 440V451M1202.5 440V450M1204.5 432V445M1206.5 442V452M1208.5 444V476M1210.5 467V477M1212.5 463V475M1214.5 462V475M1216.5 463V475M1218.5 472V484M1220.5 472V485M1222.5 469V485M1224.5 474V485M1226.5 474V485M1228.5 471V484M1230.5 464V479M1232.5 460V473M1234.5 452V468M1236.5 453V463M1238.5 458V472M1240.5 465V473M1242.5 463V470M1244.5 461V470M1246.5 459V468M1248.5 455V465M1250.5 459V466M1252.5 461V472M1254.5 467V489M1256.5 477V485M1258.5 479V487M1260.5 482V513M1262.5 491V505M1264.5 470V495M1266.5 475V492M1268.5 463V478M1270.5 465V486M1272.5 444V459M1274.5 452V464M1276.5 456V475M1278.5 471V481M1280.5 468V480M1282.5 464V479M1284.5 466V474M1286.5 466V480M1288.5 475V488M1290.5 480V499M1292.5 475V499M1294.5 477V487M1296.5 479V489M1298.5 474V485M1300.5 475V487M1302.5 477V488M1304.5 479V485M1306.5 464V476M1308.5 462V470M1310.5 453V467M1312.5 455V466M1314.5 436V460M1316.5 437V444M1318.5 435V444M1320.5 439V455M1322.5 448V459M1324.5 428V455M1326.5 428V437M1328.5 433V445M1330.5 439V451M1332.5 440V452M1334.5 443V451M1336.5 444V454M1338.5 429V452M1340.5 440V455M1342.5 441V451M1344.5 449V460M1346.5 455V461M1348.5 452V462M1350.5 458V477M1352.5 462V477M1354.5 462V466M1356.5 433V474M1358.5 424V444M1360.5 426V441M1362.5 431V442M1364.5 437V458M1366.5 436V461M1368.5 419V440M1370.5 429V443M1372.5 420V436M1374.5 426V438M1376.5 425V440M1378.5 426V439M1380.5 431V452M1382.5 439V454M1384.5 435V448M1386.5 425V440M1388.5 423V437M1390.5 426V438M1392.5 422V434M1394.5 416V432M1396.5 417V430M1398.5 425V433M1400.5 424V440M1402.5 432V441M1404.5 423V436M1406.5 421V435M1408.5 427V436M1410.5 431V439M1412.5 428V438M1414.5 432V438M1416.5 431V445M1418.5 441V458M1420.5 449V462M1422.5 458V465M1424.5 456V465M1426.5 459V466M1428.5 452V463M1430.5 455V463M1432.5 451V461M1434.5 451V459M1436.5 449V454M1438.5 443V454M1440.5 446V466M1442.5 457V485M1444.5 477V489M1446.5 486V495M1448.5 492V506M1450.5 482V498M1452.5 487V499M1454.5 480V492M1456.5 469V485M1458.5 468V480M1460.5 468V478M1462.5 470V482M1464.5 469V482M1466.5 474V483M1468.5 476V482M1470.5 477V491M1472.5 462V478M1474.5 470V477M1476.5 469V480M1478.5 474V480M1480.5 468V483M1482.5 468V488M1484.5 476V493M1486.5 483V493M1488.5 482V489M1490.5 477V494M1492.5 480V489M1494.5 486V498M1496.5 496V505M1498.5 478V506M1500.5 472V497M1502.5 476V487M1504.5 485V506M1506.5 486V498M1508.5 507V560M1510.5 542V583M1512.5 531V558M1514.5 493V539M1516.5 473V497M1518.5 472V483" stroke="#000" stroke-width="1" fill="none" shape-rendering="crispEdges"/><text x="64.5" y="153.6" text-anchor="middle" font-weight="bold" font-size="13.6px" fill="#0000ff">(3)</text><text x="64.5" y="171.1" text-anchor="middle" font-weight="bold" font-size="13.6px" fill="#0000ff">5</text><text x="119" y="270.4" text-anchor="middle" font-weight="bold" font-size="13.6px" fill="#0000ff">(4)</text><text x="178.2" y="96.1" text-anchor="middle" font-weight="bold" font-size="13.6px" fill="#0000ff">a</text><circle cx="178.5" cy="109.4" r="8.5" fill="none" stroke="#0000ff" stroke-width="2"/><text x="178.5" y="113.8" text-anchor="middle" font-weight="bold" font-size="12.6px" fill="#0000ff">C</text><text x="178" y="132" text-anchor="middle" font-weight="bold" font-size="13.6px" fill="#0000ff">(5)</text><circle cx="329.7" cy="445.8" r="8.5" fill="none" stroke="#0000ff" stroke-width="2"/><text x="329.7" y="450.2" text-anchor="middle" font-weight="bold" font-size="12.6px" fill="#0000ff">A</text><circle cx="562.8" cy="170" r="8.5" fill="none" stroke="#0000ff" stroke-width="2"/><text x="562.8" y="174.4" text-anchor="middle" font-weight="bold" font-size="12.6px" fill="#0000ff">B</text><text x="583.5" y="242.1" text-anchor="middle" font-weight="bold" font-size="13.6px" fill="#0000ff">B</text><text x="578" y="293.1" text-anchor="middle" font-weight="bold" font-size="13.6px" fill="#0000ff">A</text><text x="629" y="384.1" text-anchor="middle" font-weight="bold" font-size="13.6px" fill="#0000ff">C</text><text x="629" y="403.3" text-anchor="middle" font-weight="bold" font-size="13.6px" fill="#0000ff">(1)</text><text x="882.8" y="276.9" text-anchor="middle" font-weight="bold" font-size="13.6px" fill="#0000ff">(2)</text><text x="955" y="325.6" text-anchor="middle" font-weight="bold" font-size="13.6px" fill="#0000ff">B</text><text x="945.6" y="397.7" text-anchor="middle" font-weight="bold" font-size="13.6px" fill="#0000ff">A</text><circle cx="1001.3" cy="344.3" r="7.0" fill="none" stroke="#0000ff" stroke-width="1.1"/><text x="1001.3" y="348" text-anchor="middle" font-size="10.5px" fill="#0000ff">II</text><circle cx="975.4" cy="419" r="7.0" fill="none" stroke="#0000ff" stroke-width="1.1"/><text x="975.4" y="422.7" text-anchor="middle" font-size="10.5px" fill="#0000ff">I</text><circle cx="1093.6" cy="394" r="7.0" fill="none" stroke="#0000ff" stroke-width="1.1"/><text x="1093.6" y="397.7" text-anchor="middle" font-size="10.5px" fill="#0000ff">IV</text><circle cx="1077.2" cy="471" r="7.0" fill="none" stroke="#0000ff" stroke-width="1.1"/><text x="1077.2" y="474.7" text-anchor="middle" font-size="10.5px" fill="#0000ff">III</text><text x="1180.6" y="399.8" text-anchor="middle" font-weight="bold" font-size="13.6px" fill="#0000ff">A</text><circle cx="1189" cy="412" r="7.0" fill="none" stroke="#0000ff" stroke-width="1.1"/><text x="1189" y="416.2" text-anchor="middle" font-size="12.8px" fill="#0000ff">b</text><text x="1205" y="421.5" text-anchor="middle" font-size="13.2px" fill="#0000ff">(ii)</text><text x="1235" y="442.3" text-anchor="middle" font-size="13.2px" fill="#0000ff">(iv)</text><circle cx="1186.4" cy="471" r="7.0" fill="none" stroke="#0000ff" stroke-width="1.1"/><text x="1186.4" y="475.2" text-anchor="middle" font-size="12.8px" fill="#0000ff">a</text><text x="1198.4" y="470.1" text-anchor="middle" font-size="13.2px" fill="#0000ff">(i)</text><text x="1220.4" y="500.3" text-anchor="middle" font-size="13.2px" fill="#0000ff">(iii)</text><circle cx="1159.4" cy="532.5" r="7.0" fill="none" stroke="#0000ff" stroke-width="1.1"/><text x="1159.4" y="536.2" text-anchor="middle" font-size="10.5px" fill="#0000ff">V</text><text x="1159" y="553.3" text-anchor="middle" font-weight="bold" font-size="13.6px" fill="#0000ff">C</text><text x="1159" y="572.1" text-anchor="middle" font-weight="bold" font-size="13.6px" fill="#0000ff">(3)</text><text x="1261.3" y="528.3" text-anchor="middle" font-size="13.2px" fill="#0000ff">(v)</text><circle cx="1262" cy="544.4" r="7.0" fill="none" stroke="#0000ff" stroke-width="1.1"/><text x="1262" y="548.6" text-anchor="middle" font-size="12.8px" fill="#0000ff">c</text><text x="1261" y="563.1" text-anchor="middle" font-weight="bold" font-size="13.6px" fill="#0000ff">B</text><text x="1394" y="404.6" text-anchor="middle" font-weight="bold" font-size="13.6px" fill="#0000ff">C</text><text x="1394" y="387.1" text-anchor="middle" font-weight="bold" font-size="13.6px" fill="#0000ff">(4)</text><text x="1472" y="452.3" text-anchor="middle" font-weight="bold" font-size="13.6px" fill="#0000ff">B</text><text x="1448.5" y="521.4" text-anchor="middle" font-weight="bold" font-size="13.6px" fill="#0000ff">A</text><text x="1510" y="598.4" text-anchor="middle" font-weight="bold" font-size="13.6px" fill="#0000ff">C</text><text x="1510" y="616.9" text-anchor="middle" font-weight="bold" font-size="13.6px" fill="#0000ff">(5)</text><circle cx="1510.8" cy="630.6" r="8.5" fill="none" stroke="#0000ff" stroke-width="2"/><text x="1510.8" y="635" text-anchor="middle" font-weight="bold" font-size="12.6px" fill="#0000ff">C</text><text x="1510.5" y="653.4" text-anchor="middle" font-weight="bold" font-size="13.6px" fill="#0000ff">b</text><text x="4" y="771" font-size="14px" fill="#222" textLength="76" lengthAdjust="spacingAndGlyphs">MotiveWave</text><path d="M1879.5 1V777" stroke="#000" stroke-width="1" shape-rendering="crispEdges"/><path d="M1880 2.5h3M1880 5.5h3M1880 8.5h3M1880 12.5h3M1880 15.5h3M1880 18.5h3M1880 22.5h3M1880 26.5h6M1880 29.5h3M1880 33.5h3M1880 37.5h3M1880 40.5h3M1880 44.5h3M1880 48.5h6M1880 53.5h3M1880 57.5h3M1880 61.5h3M1880 65.5h3M1880 70.5h6M1880 75.5h3M1880 79.5h3M1880 84.5h3M1880 89.5h3M1880 94.5h6M1880 100.5h3M1880 105.5h3M1880 111.5h3M1880 116.5h6M1880 122.5h3M1880 128.5h3M1880 135.5h3M1880 141.5h6M1880 148.5h3M1880 155.5h3M1880 162.5h6M1880 170.5h3M1880 178.5h3M1880 186.5h6M1880 191.5h3M1880 195.5h3M1880 200.5h3M1880 204.5h3M1880 209.5h3M1880 214.5h6M1880 219.5h3M1880 224.5h3M1880 229.5h3M1880 235.5h6M1880 240.5h3M1880 246.5h3M1880 252.5h3M1880 258.5h6M1880 264.5h3M1880 271.5h3M1880 278.5h3M1880 285.5h6M1880 288.5h3M1880 292.5h3M1880 296.5h3M1880 300.5h3M1880 304.5h3M1880 308.5h3M1880 312.5h3M1880 316.5h6M1880 320.5h3M1880 325.5h3M1880 329.5h3M1880 334.5h3M1880 339.5h3M1880 343.5h3M1880 348.5h3M1880 354.5h6M1880 359.5h3M1880 364.5h3M1880 370.5h3M1880 376.5h6M1880 381.5h3M1880 388.5h3M1880 394.5h3M1880 400.5h6M1880 407.5h3M1880 414.5h3M1880 422.5h3M1880 429.5h6M1880 437.5h3M1880 446.5h3M1880 454.5h3M1880 463.5h6M1880 468.5h3M1880 473.5h3M1880 478.5h3M1880 483.5h3M1880 488.5h3M1880 494.5h3M1880 499.5h3M1880 505.5h6M1880 511.5h3M1880 517.5h3M1880 524.5h3M1880 530.5h3M1880 537.5h3M1880 544.5h3M1880 551.5h3M1880 559.5h6M1880 567.5h3M1880 575.5h3M1880 584.5h3M1880 593.5h3M1880 603.5h3M1880 613.5h3M1880 623.5h3M1880 635.5h6M1880 647.5h3M1880 660.5h3M1880 674.5h3M1880 689.5h3M1880 705.5h3M1880 723.5h3M1880 742.5h3M1880 764.5h3" stroke="#000" stroke-width="1" shape-rendering="crispEdges"/><text x="1888.5" y="31" fill="#000">104.00</text><text x="1888.5" y="53" fill="#000">92.00</text><text x="1888.5" y="75" fill="#000">82.00</text><text x="1888.5" y="99" fill="#000">72.00</text><text x="1888.5" y="121" fill="#000">64.00</text><text x="1888.5" y="146" fill="#000">56.00</text><text x="1888.5" y="167" fill="#000">50.00</text><text x="1888.5" y="191" fill="#000">44.00</text><text x="1888.5" y="219" fill="#000">38.00</text><text x="1888.5" y="240" fill="#000">34.00</text><text x="1888.5" y="263" fill="#000">30.00</text><text x="1888.5" y="290" fill="#000">26.00</text><text x="1888.5" y="321" fill="#000">22.00</text><text x="1888.5" y="359" fill="#000">18.00</text><text x="1888.5" y="381" fill="#000">16.00</text><text x="1888.5" y="405" fill="#000">14.00</text><text x="1888.5" y="434" fill="#000">12.00</text><text x="1888.5" y="468" fill="#000">10.00</text><text x="1888.5" y="510" fill="#000">8.00</text><text x="1888.5" y="564" fill="#000">6.00</text><text x="1888.5" y="640" fill="#000">4.00</text><path d="M1880.5 463L1886 456.5H1920.5Q1922.5 456.5 1922.5 458.5V467.5Q1922.5 469.5 1920.5 469.5H1886Z" fill="#f4958c" stroke="#000" stroke-width="1"/><text x="1904.75" y="467.4" text-anchor="middle" fill="#00f">10.07</text><path d="M1880.5 458L1886 451.5H1920.5Q1922.5 451.5 1922.5 453.5V462.5Q1922.5 464.5 1920.5 464.5H1886Z" fill="#6cd06c" stroke="#000" stroke-width="1"/><text x="1904.75" y="462.4" text-anchor="middle" fill="#00f">10.29</text><path d="M1880.5 478.5L1886 471.5H1913.5Q1915.5 471.5 1915.5 473.5V483.5Q1915.5 485.5 1913.5 485.5H1886Z" fill="#fff" stroke="#000" stroke-width="1"/><text x="1901.25" y="482.9" text-anchor="middle" fill="#000">9.25</text><path d="M1880.5 493.5L1886 486.5H1913.5Q1915.5 486.5 1915.5 488.5V498.5Q1915.5 500.5 1913.5 500.5H1886Z" fill="#dcdcdc" stroke="#000" stroke-width="1"/><text x="1901.25" y="497.9" text-anchor="middle" fill="#00f">8.54</text><path d="M1880.5 536.5L1886 529.5H1913.5Q1915.5 529.5 1915.5 531.5V541.5Q1915.5 543.5 1913.5 543.5H1886Z" fill="#bdbdbd" stroke="#000" stroke-width="1"/><text x="1901.25" y="540.9" text-anchor="middle" fill="#00f">6.78</text><path d="M1880.5 754.5L1886 747.5H1924.5Q1926.5 747.5 1926.5 749.5V759.5Q1926.5 761.5 1924.5 761.5H1886Z" fill="#fff" stroke="#000" stroke-width="1"/><text x="1906.75" y="758.9" text-anchor="middle" fill="#000">13.9M</text><path d="M1880.5 769L1886 762.5H1917.5Q1919.5 762.5 1919.5 764.5V773.5Q1919.5 775.5 1917.5 775.5H1886Z" fill="#fff" stroke="#000" stroke-width="1"/><text x="1903.25" y="773.4" text-anchor="middle" fill="#000">5.3M</text><path d="M0 776.5H1880" stroke="#000" stroke-width="1" shape-rendering="crispEdges"/><text x="132.5" y="794" text-anchor="middle" fill="#000" textLength="51.5" lengthAdjust="spacing">Jan-2007</text><text x="236.5" y="794" text-anchor="middle" fill="#000" textLength="51.5" lengthAdjust="spacing">Jan-2008</text><text x="341.5" y="794" text-anchor="middle" fill="#000" textLength="51.5" lengthAdjust="spacing">Jan-2009</text><text x="445.5" y="794" text-anchor="middle" fill="#000" textLength="51.5" lengthAdjust="spacing">Jan-2010</text><text x="549.5" y="794" text-anchor="middle" fill="#000" textLength="51.5" lengthAdjust="spacing">Jan-2011</text><text x="654.5" y="794" text-anchor="middle" fill="#000" textLength="51.5" lengthAdjust="spacing">Jan-2012</text><text x="758.5" y="794" text-anchor="middle" fill="#000" textLength="51.5" lengthAdjust="spacing">Jan-2013</text><text x="862.5" y="794" text-anchor="middle" fill="#000" textLength="51.5" lengthAdjust="spacing">Jan-2014</text><text x="967.5" y="794" text-anchor="middle" fill="#000" textLength="51.5" lengthAdjust="spacing">Jan-2015</text><text x="1071.5" y="794" text-anchor="middle" fill="#000" textLength="51.5" lengthAdjust="spacing">Jan-2016</text><text x="1176.5" y="794" text-anchor="middle" fill="#000" textLength="51.5" lengthAdjust="spacing">Jan-2017</text><text x="1280.5" y="794" text-anchor="middle" fill="#000" textLength="51.5" lengthAdjust="spacing">Jan-2018</text><text x="1384.5" y="794" text-anchor="middle" fill="#000" textLength="51.5" lengthAdjust="spacing">Jan-2019</text><text x="1488.5" y="794" text-anchor="middle" fill="#000" textLength="51.5" lengthAdjust="spacing">Jan-2020</text><text x="1593.5" y="794" text-anchor="middle" fill="#000" textLength="51.5" lengthAdjust="spacing">Jan-2021</text><text x="1697.5" y="794" text-anchor="middle" fill="#000" textLength="51.5" lengthAdjust="spacing">Jan-2022</text><text x="1802.5" y="794" text-anchor="middle" fill="#000" textLength="51.5" lengthAdjust="spacing">Jan-2023</text><path d="M132.5 777v5M236.5 777v5M341.5 777v5M445.5 777v5M549.5 777v5M654.5 777v5M758.5 777v5M862.5 777v5M967.5 777v5M1071.5 777v5M1176.5 777v5M1280.5 777v5M1384.5 777v5M1488.5 777v5M1593.5 777v5M1697.5 777v5M1802.5 777v5" stroke="#000" stroke-width="1" shape-rendering="crispEdges"/><text x="7.5" y="18.8" font-weight="bold" font-size="14.3px" textLength="207" lengthAdjust="spacingAndGlyphs" fill="#000">Cameco Corporation - 1 week</text><text x="5.5" y="45.8" font-weight="bold" font-size="29.5px" fill="#3c5a99" textLength="59.5" lengthAdjust="spacingAndGlyphs">CCJ</text><text x="227.3" y="16" font-weight="bold" font-size="13.8px" fill="#808080" textLength="79.6" lengthAdjust="spacingAndGlyphs">Apr-14 2020</text><text x="314.7" y="16" font-weight="bold" font-size="13.8px" fill="#808080" textLength="40" lengthAdjust="spacingAndGlyphs">B:9.24</text><text x="362.5" y="16" font-weight="bold" font-size="13.8px" fill="#808080" textLength="39.7" lengthAdjust="spacingAndGlyphs">A:9.25</text><text x="409.8" y="16" font-weight="bold" font-size="13.8px" fill="#808080" textLength="39.6" lengthAdjust="spacingAndGlyphs">P:9.25</text><text x="456.5" y="16" font-weight="bold" font-size="13.8px" fill="#00aa00" textLength="50.8" lengthAdjust="spacingAndGlyphs">CH:0.02</text><text x="514.7" y="16" font-weight="bold" font-size="13.8px" fill="#00aa00" textLength="61" lengthAdjust="spacingAndGlyphs">CH:0.22%</text><text x="582.6" y="16" font-weight="bold" font-size="13.8px" fill="#ff8c00" textLength="51" lengthAdjust="spacingAndGlyphs">R:5.48%</text><g clip-path="url(#cmacd)"><path d="M2.5 882.5V880M18.5 882.5V879M20.5 882.5V874.4M22.5 882.5V871.6M24.5 882.5V870.5M26.5 882.5V870.2M28.5 882.5V866.7M30.5 882.5V864.1M32.5 882.5V862.4M34.5 882.5V863.9M36.5 882.5V867M38.5 882.5V872.2M40.5 882.5V876M42.5 882.5V879.1M44.5 882.5V881.3M60.5 882.5V880.7M62.5 882.5V878.9M64.5 882.5V878.1M66.5 882.5V878.4M68.5 882.5V879.5M124.5 882.5V880.4M126.5 882.5V874.8M128.5 882.5V871.1M130.5 882.5V870.4M132.5 882.5V872M134.5 882.5V874.8M136.5 882.5V876.5M138.5 882.5V879.7M156.5 882.5V879.1M158.5 882.5V872M160.5 882.5V864.6M162.5 882.5V862.8M164.5 882.5V862.9M166.5 882.5V861.5M168.5 882.5V859.7M170.5 882.5V860.6M172.5 882.5V861.9M174.5 882.5V863.2M176.5 882.5V863.2M178.5 882.5V864.3M180.5 882.5V866.9M182.5 882.5V873.7M184.5 882.5V879.4M212.5 882.5V881.3M214.5 882.5V877.3M216.5 882.5V872.4M218.5 882.5V870.6M220.5 882.5V871.3M222.5 882.5V877.7M254.5 882.5V879.9M256.5 882.5V876.3M258.5 882.5V880.3M264.5 882.5V881.3M266.5 882.5V879.5M268.5 882.5V877.8M270.5 882.5V877.9M272.5 882.5V875.8M274.5 882.5V871M276.5 882.5V868M278.5 882.5V867.2M280.5 882.5V868.6M282.5 882.5V872.2M284.5 882.5V874.7M286.5 882.5V876M288.5 882.5V877.3M290.5 882.5V877.8M292.5 882.5V879.6M334.5 882.5V878.9M336.5 882.5V874.9M338.5 882.5V871.9M340.5 882.5V867.9M342.5 882.5V864.7M344.5 882.5V864.3M346.5 882.5V865.6M348.5 882.5V867.6M350.5 882.5V870M352.5 882.5V871.4M354.5 882.5V875.2M356.5 882.5V876.2M358.5 882.5V876.9M360.5 882.5V876.7M362.5 882.5V874.7M364.5 882.5V872.7M366.5 882.5V871M368.5 882.5V870.3M370.5 882.5V869.6M372.5 882.5V868.7M374.5 882.5V865.3M376.5 882.5V860.7M378.5 882.5V855.7M380.5 882.5V853.9M382.5 882.5V853.5M384.5 882.5V854.4M386.5 882.5V857.1M388.5 882.5V862.2M390.5 882.5V867.2M392.5 882.5V871.2M394.5 882.5V877.1M396.5 882.5V880.6M398.5 882.5V880.6M400.5 882.5V879.8M402.5 882.5V879.1M404.5 882.5V878.4M406.5 882.5V877.7M408.5 882.5V878.2M410.5 882.5V881M412.5 882.5V880.9M414.5 882.5V880M416.5 882.5V881.3M440.5 882.5V881.3M442.5 882.5V879.6M444.5 882.5V878.8M446.5 882.5V878.9M448.5 882.5V881.3M504.5 882.5V879.4M506.5 882.5V876.7M508.5 882.5V875.2M510.5 882.5V874.8M512.5 882.5V875.2M514.5 882.5V875.2M516.5 882.5V875.2M518.5 882.5V875.2M520.5 882.5V875.2M522.5 882.5V873.9M524.5 882.5V872.8M526.5 882.5V870.2M528.5 882.5V868.8M530.5 882.5V868.2M532.5 882.5V865.9M534.5 882.5V863.3M536.5 882.5V862.1M538.5 882.5V861.1M540.5 882.5V860.6M542.5 882.5V861.4M544.5 882.5V862.9M546.5 882.5V865.1M548.5 882.5V868.5M550.5 882.5V872.1M552.5 882.5V876M554.5 882.5V877.7M556.5 882.5V878.8M558.5 882.5V878.7M560.5 882.5V879.1M562.5 882.5V879.8M564.5 882.5V881.3M632.5 882.5V881.3M634.5 882.5V879.2M636.5 882.5V877.9M638.5 882.5V877M640.5 882.5V878.7M642.5 882.5V880.6M644.5 882.5V881.3M652.5 882.5V881.3M654.5 882.5V880.5M656.5 882.5V877.5M658.5 882.5V873.6M660.5 882.5V869M662.5 882.5V866.3M664.5 882.5V864.3M666.5 882.5V862.9M668.5 882.5V863.4M670.5 882.5V865.1M672.5 882.5V868.7M674.5 882.5V872.4M676.5 882.5V876.1M678.5 882.5V879.4M704.5 882.5V881.3M706.5 882.5V879.1M708.5 882.5V877M710.5 882.5V876M712.5 882.5V875.8M714.5 882.5V876.3M716.5 882.5V877.6M718.5 882.5V879.3M720.5 882.5V879.9M722.5 882.5V880.5M724.5 882.5V880.7M726.5 882.5V881.3M754.5 882.5V881.1M756.5 882.5V879.1M758.5 882.5V877.4M760.5 882.5V875.9M762.5 882.5V874.6M764.5 882.5V873.7M766.5 882.5V873.3M768.5 882.5V873.7M770.5 882.5V874.4M772.5 882.5V875.4M774.5 882.5V877.1M776.5 882.5V878.6M778.5 882.5V879.8M780.5 882.5V880.9M782.5 882.5V881.3M798.5 882.5V881.3M800.5 882.5V879.4M802.5 882.5V880.4M804.5 882.5V881.3M806.5 882.5V881.3M808.5 882.5V881.3M810.5 882.5V881.3M812.5 882.5V881.3M814.5 882.5V881.3M816.5 882.5V881.3M850.5 882.5V881.1M852.5 882.5V879.7M854.5 882.5V878.3M856.5 882.5V878M858.5 882.5V877.7M860.5 882.5V878M862.5 882.5V878.3M864.5 882.5V878.6M866.5 882.5V878.9M868.5 882.5V878.9M870.5 882.5V878.8M872.5 882.5V879.1M874.5 882.5V879.6M876.5 882.5V880.6M878.5 882.5V879.7M880.5 882.5V878.2M882.5 882.5V877.9M884.5 882.5V877.9M886.5 882.5V878.2M888.5 882.5V879.2M890.5 882.5V880.5M892.5 882.5V881.3M924.5 882.5V881.3M926.5 882.5V881.3M928.5 882.5V881.3M930.5 882.5V881.3M952.5 882.5V881.3M954.5 882.5V878.9M956.5 882.5V878.8M958.5 882.5V879.7M960.5 882.5V881.3M982.5 882.5V881.3M984.5 882.5V881.3M986.5 882.5V881.3M988.5 882.5V881.3M990.5 882.5V881.3M992.5 882.5V881.3M994.5 882.5V881.1M996.5 882.5V879.7M998.5 882.5V878M1000.5 882.5V876.6M1002.5 882.5V876.1M1004.5 882.5V876.2M1006.5 882.5V877.9M1008.5 882.5V879.7M1010.5 882.5V881.3M1046.5 882.5V881.3M1048.5 882.5V880.5M1050.5 882.5V879.3M1052.5 882.5V878.8M1054.5 882.5V880.3M1056.5 882.5V881.3M1080.5 882.5V881.3M1082.5 882.5V881.3M1084.5 882.5V881M1086.5 882.5V880.8M1088.5 882.5V880M1090.5 882.5V879.3M1092.5 882.5V878.7M1094.5 882.5V879.1M1096.5 882.5V879.5M1098.5 882.5V879.4M1100.5 882.5V879.6M1102.5 882.5V879.9M1104.5 882.5V880.2M1106.5 882.5V881.3M1160.5 882.5V881.3M1162.5 882.5V879.9M1164.5 882.5V878.3M1166.5 882.5V877.2M1168.5 882.5V876M1170.5 882.5V874.9M1172.5 882.5V874.4M1174.5 882.5V874.6M1176.5 882.5V875.2M1178.5 882.5V874.8M1180.5 882.5V874.7M1182.5 882.5V874.5M1184.5 882.5V876.1M1186.5 882.5V877.9M1188.5 882.5V879.7M1190.5 882.5V881M1192.5 882.5V881.3M1236.5 882.5V881.3M1238.5 882.5V881.3M1240.5 882.5V881.3M1242.5 882.5V881.3M1252.5 882.5V881.3M1254.5 882.5V881.3M1270.5 882.5V881.3M1272.5 882.5V881.3M1274.5 882.5V881.3M1276.5 882.5V880.9M1278.5 882.5V880.6M1280.5 882.5V880.5M1282.5 882.5V880.5M1284.5 882.5V880.9M1286.5 882.5V881.3M1310.5 882.5V880.7M1312.5 882.5V879.1M1314.5 882.5V877.8M1316.5 882.5V876.5M1318.5 882.5V876.1M1320.5 882.5V876.3M1322.5 882.5V877.4M1324.5 882.5V877.4M1326.5 882.5V877.5M1328.5 882.5V878.1M1330.5 882.5V879.4M1332.5 882.5V881M1360.5 882.5V880.7M1362.5 882.5V880.4M1364.5 882.5V881.1M1366.5 882.5V881.3M1368.5 882.5V880.6M1370.5 882.5V880.3M1372.5 882.5V880.4M1374.5 882.5V880.8M1376.5 882.5V881.1M1378.5 882.5V881.2M1380.5 882.5V881.3M1388.5 882.5V881.3M1390.5 882.5V881.3M1392.5 882.5V881.3M1394.5 882.5V881.3M1396.5 882.5V881.3M1398.5 882.5V881.3M1458.5 882.5V881.3M1460.5 882.5V880.9M1462.5 882.5V880.6M1464.5 882.5V880.4M1466.5 882.5V880.4M1468.5 882.5V880.5M1470.5 882.5V880.5M1472.5 882.5V880.4M1474.5 882.5V880.1M1476.5 882.5V879.9M1478.5 882.5V880.2M1480.5 882.5V880.7M1482.5 882.5V881.3M1484.5 882.5V881.3M1486.5 882.5V881.3M1488.5 882.5V881.3M1490.5 882.5V881.3M1492.5 882.5V881.3M1504.5 882.5V881.3" stroke="#6a9bd0" stroke-width="1" fill="none" shape-rendering="crispEdges"/><path d="M4.5 882.5V883.7M6.5 882.5V886.3M8.5 882.5V888.9M10.5 882.5V890.6M12.5 882.5V890.7M14.5 882.5V887.7M16.5 882.5V883.7M46.5 882.5V883.7M48.5 882.5V884.3M50.5 882.5V886.9M52.5 882.5V887.9M54.5 882.5V887.8M56.5 882.5V886.6M58.5 882.5V884.2M72.5 882.5V888.8M74.5 882.5V892.2M76.5 882.5V893.7M78.5 882.5V893.4M80.5 882.5V891.7M82.5 882.5V891.6M84.5 882.5V892.4M86.5 882.5V892.4M88.5 882.5V892.4M90.5 882.5V892.4M92.5 882.5V892.7M94.5 882.5V892.6M96.5 882.5V890.9M98.5 882.5V886.3M100.5 882.5V886.3M102.5 882.5V888.3M104.5 882.5V892.2M106.5 882.5V894.5M108.5 882.5V895.5M110.5 882.5V895.4M112.5 882.5V896.1M114.5 882.5V897.4M116.5 882.5V900M118.5 882.5V901.4M120.5 882.5V896.9M122.5 882.5V887.5M142.5 882.5V884.4M144.5 882.5V887.3M146.5 882.5V887.4M148.5 882.5V886M150.5 882.5V886.5M152.5 882.5V886.2M154.5 882.5V884.3M186.5 882.5V885.4M188.5 882.5V892.7M190.5 882.5V903M192.5 882.5V914.6M194.5 882.5V923.7M196.5 882.5V929.7M198.5 882.5V930.8M200.5 882.5V916.1M202.5 882.5V910.4M204.5 882.5V902.4M206.5 882.5V894.5M208.5 882.5V887.9M210.5 882.5V884.3M224.5 882.5V884.7M226.5 882.5V890.2M228.5 882.5V894.8M230.5 882.5V897.4M232.5 882.5V898M234.5 882.5V894.7M236.5 882.5V892.3M238.5 882.5V890.9M240.5 882.5V892.9M242.5 882.5V897.3M244.5 882.5V899.7M246.5 882.5V899.6M248.5 882.5V895.2M250.5 882.5V890.3M252.5 882.5V885.2M260.5 882.5V883.7M262.5 882.5V883.7M296.5 882.5V885.4M298.5 882.5V889M300.5 882.5V892.7M302.5 882.5V895.5M304.5 882.5V897.6M306.5 882.5V900M308.5 882.5V901.8M310.5 882.5V903.4M312.5 882.5V904.5M314.5 882.5V906.3M316.5 882.5V909.7M318.5 882.5V915.7M320.5 882.5V917.3M322.5 882.5V913.8M324.5 882.5V907.3M326.5 882.5V901.8M328.5 882.5V898M330.5 882.5V891M332.5 882.5V884.1M418.5 882.5V884.5M420.5 882.5V884.2M426.5 882.5V883.7M428.5 882.5V883.7M430.5 882.5V883.7M432.5 882.5V883.7M434.5 882.5V884.3M436.5 882.5V884.2M438.5 882.5V883.7M450.5 882.5V885.8M452.5 882.5V890.8M454.5 882.5V894.2M456.5 882.5V895.5M458.5 882.5V895.1M460.5 882.5V894.3M462.5 882.5V893.3M464.5 882.5V892.3M466.5 882.5V891.3M468.5 882.5V890.9M470.5 882.5V890.5M472.5 882.5V890.5M474.5 882.5V890.7M476.5 882.5V891.4M478.5 882.5V892.2M480.5 882.5V892.3M482.5 882.5V892M484.5 882.5V891.5M486.5 882.5V891M488.5 882.5V890.3M490.5 882.5V889.3M492.5 882.5V888.6M494.5 882.5V888.4M496.5 882.5V888.2M498.5 882.5V888.1M500.5 882.5V885.7M502.5 882.5V883.7M566.5 882.5V884.7M568.5 882.5V891.6M570.5 882.5V901.4M572.5 882.5V910.3M574.5 882.5V917M576.5 882.5V921.2M578.5 882.5V922.5M580.5 882.5V922.2M582.5 882.5V920.2M584.5 882.5V916.4M586.5 882.5V911.7M588.5 882.5V904.9M590.5 882.5V898.9M592.5 882.5V894.9M594.5 882.5V893.3M596.5 882.5V894.3M598.5 882.5V894.3M600.5 882.5V892.2M602.5 882.5V889.6M604.5 882.5V886.7M606.5 882.5V884M610.5 882.5V883.7M612.5 882.5V885.3M614.5 882.5V886.9M616.5 882.5V887.9M618.5 882.5V887.8M620.5 882.5V887.4M622.5 882.5V886.8M624.5 882.5V887.5M626.5 882.5V888.8M628.5 882.5V889.1M630.5 882.5V885.7M682.5 882.5V885.5M684.5 882.5V886.3M686.5 882.5V885.9M688.5 882.5V884.5M690.5 882.5V883.7M692.5 882.5V884.1M694.5 882.5V886.1M696.5 882.5V887.5M698.5 882.5V888.2M700.5 882.5V887.1M702.5 882.5V884.6M730.5 882.5V883.9M732.5 882.5V885.1M734.5 882.5V885.9M736.5 882.5V886.7M738.5 882.5V887.3M740.5 882.5V887.6M742.5 882.5V887.8M744.5 882.5V888M746.5 882.5V888M748.5 882.5V886.8M750.5 882.5V885.7M752.5 882.5V883.7M784.5 882.5V883.7M786.5 882.5V886.2M788.5 882.5V887.9M790.5 882.5V887.9M792.5 882.5V886.3M794.5 882.5V884.2M818.5 882.5V883.7M820.5 882.5V884.1M822.5 882.5V885.2M824.5 882.5V886.2M826.5 882.5V886.4M828.5 882.5V885.9M830.5 882.5V885.4M832.5 882.5V884.9M834.5 882.5V884.8M836.5 882.5V885.3M838.5 882.5V885.6M840.5 882.5V885.5M842.5 882.5V885.1M844.5 882.5V884.2M846.5 882.5V883.7M894.5 882.5V884.4M896.5 882.5V887M898.5 882.5V889.6M900.5 882.5V891.9M902.5 882.5V893M904.5 882.5V893.6M906.5 882.5V893.1M908.5 882.5V892.2M910.5 882.5V890.6M912.5 882.5V889M914.5 882.5V887.8M916.5 882.5V886.6M918.5 882.5V885.1M920.5 882.5V883.7M936.5 882.5V883.7M938.5 882.5V884.7M940.5 882.5V886.5M942.5 882.5V888.1M944.5 882.5V888.8M946.5 882.5V888.7M948.5 882.5V887.7M950.5 882.5V884.7M962.5 882.5V883.9M964.5 882.5V885M966.5 882.5V885.2M968.5 882.5V885.7M970.5 882.5V886.7M972.5 882.5V887.7M974.5 882.5V887.9M976.5 882.5V887.5M978.5 882.5V885M980.5 882.5V883.7M1014.5 882.5V883.7M1016.5 882.5V884.2M1018.5 882.5V885.3M1020.5 882.5V886.3M1022.5 882.5V886.6M1024.5 882.5V886.5M1026.5 882.5V886.1M1028.5 882.5V885.4M1030.5 882.5V884.7M1032.5 882.5V884M1034.5 882.5V883.7M1036.5 882.5V883.7M1042.5 882.5V883.7M1058.5 882.5V883.7M1060.5 882.5V883.7M1062.5 882.5V884M1064.5 882.5V884M1066.5 882.5V883.7M1068.5 882.5V883.7M1070.5 882.5V883.7M1072.5 882.5V883.7M1074.5 882.5V883.7M1076.5 882.5V883.7M1112.5 882.5V883.7M1114.5 882.5V883.7M1116.5 882.5V883.7M1118.5 882.5V883.7M1120.5 882.5V883.8M1122.5 882.5V883.9M1124.5 882.5V884.1M1126.5 882.5V884.3M1128.5 882.5V884.8M1130.5 882.5V884.9M1132.5 882.5V884.6M1134.5 882.5V884.6M1136.5 882.5V884.6M1138.5 882.5V884.9M1140.5 882.5V884.7M1142.5 882.5V884.5M1144.5 882.5V884.3M1146.5 882.5V884.4M1148.5 882.5V884.6M1150.5 882.5V884.5M1152.5 882.5V884.4M1154.5 882.5V884.2M1156.5 882.5V883.7M1200.5 882.5V883.7M1202.5 882.5V884M1204.5 882.5V883.8M1206.5 882.5V884.7M1208.5 882.5V885.7M1210.5 882.5V886.2M1212.5 882.5V886.7M1214.5 882.5V886.8M1216.5 882.5V886.8M1218.5 882.5V886.8M1220.5 882.5V886.8M1222.5 882.5V886.7M1224.5 882.5V886.5M1226.5 882.5V886.2M1228.5 882.5V885.7M1230.5 882.5V884.8M1232.5 882.5V883.7M1256.5 882.5V883.7M1258.5 882.5V883.8M1260.5 882.5V885.1M1262.5 882.5V886.4M1264.5 882.5V885.3M1266.5 882.5V884M1268.5 882.5V883.7M1290.5 882.5V883.7M1292.5 882.5V884.1M1294.5 882.5V883.9M1296.5 882.5V883.7M1298.5 882.5V883.7M1302.5 882.5V883.7M1304.5 882.5V883.7M1306.5 882.5V883.7M1336.5 882.5V884M1338.5 882.5V884.7M1340.5 882.5V885.5M1342.5 882.5V886M1344.5 882.5V886.2M1346.5 882.5V886.8M1348.5 882.5V887M1350.5 882.5V887.1M1352.5 882.5V887.3M1354.5 882.5V886.8M1356.5 882.5V884.9M1404.5 882.5V883.7M1406.5 882.5V883.7M1408.5 882.5V883.7M1410.5 882.5V883.9M1412.5 882.5V883.9M1414.5 882.5V884M1416.5 882.5V884.2M1418.5 882.5V884.2M1420.5 882.5V884.8M1422.5 882.5V885.3M1424.5 882.5V886.2M1426.5 882.5V886.4M1428.5 882.5V886.4M1430.5 882.5V885.5M1432.5 882.5V884.5M1434.5 882.5V883.8M1436.5 882.5V883.7M1438.5 882.5V883.7M1442.5 882.5V884.1M1444.5 882.5V885.9M1446.5 882.5V887.2M1448.5 882.5V887.9M1450.5 882.5V888.2M1452.5 882.5V887.7M1454.5 882.5V885.6M1496.5 882.5V883.7M1498.5 882.5V883.7M1500.5 882.5V883.7M1508.5 882.5V883.7M1510.5 882.5V886.2M1512.5 882.5V888M1514.5 882.5V887.4M1516.5 882.5V884.3M1518.5 882.5V883.7" stroke="#e03c3c" stroke-width="1" fill="none" shape-rendering="crispEdges"/><path d="M1 882.5H1879" stroke="#000" stroke-width="1" stroke-dasharray="4 2" shape-rendering="crispEdges"/><polyline points="1,847.6 5.2,846.6 9.3,847.6 13.5,849.7 16.6,851.8 19.7,852.2 22.8,850.8 25.9,846.6 29,840.4 32.1,833.1 35.2,825.9 38.3,819.7 41.4,816.6 44.5,814.9 47.6,815.5 50.8,817.6 53.9,819.1 57,820.1 60.1,820.1 63.2,819.1 66.3,817.6 69.4,816.6 72.5,817 75.6,819.7 78.7,823.8 81.8,828 84.9,832.1 88,836.3 91.1,840.4 94.3,843.5 97.4,846.6 100.5,849.3 103.6,851.8 106.7,854.9 109.8,859 112.9,864.2 116,870.4 119.1,876.6 122.2,880.8 125.3,882.9 128.4,882.9 131.5,880.8 134.6,877.7 137.8,874.6 140.9,873.5 144,873.5 147.1,874.2 150.2,875.6 153.3,877.1 155.4,876.6 157.4,874.6 160.5,869.4 163.6,862.1 166.8,853.9 169.9,844.5 173,835.2 176.1,826.9 179.2,819.7 182.3,814.9 185.4,813.5 188.5,813.5 191.6,818.6 194.7,828 197.8,841.4 200.9,855.9 204,868.4 207.1,876.6 210.3,881.8 213.4,883.9 216.5,882.9 219.6,879.8 222.7,876.6 225.8,875.6 228.9,877.7 232,882.9 235.1,889.1 238.2,894.3 241.3,898.4 244.4,904.6 247.5,911.9 250.6,917 253.8,920.1 256.9,920.6 260,920.1 263.1,919.1 266.2,917.7 269.3,917 272.4,915 275.5,910.8 278.6,904.6 281.7,898.4 284.8,893.2 287.9,888 291,884.9 294.1,883.9 297.3,886 300.4,891.1 303.5,897.4 306.6,904.6 309.7,912.9 312.8,922.2 315.9,932.6 319,945 322.1,958.5 325.2,971.9 328.3,982.3 331.4,988.9 334.5,991.6 337.6,990.6 340.8,986.4 343.9,980.2 347,973 350.1,965.7 353.2,960.5 356.3,956.4 359.4,953.3 362.5,950.2 365.6,946 368.7,940.9 371.8,934.6 374.9,927.4 378,918.1 381.1,906.7 384.3,894.3 387.4,881.8 390.5,871.5 393.6,864.2 396.7,860.1 399.8,858 400,857.6 404.1,854.9 408.3,852.8 412.4,850.8 416.6,849.3 420.7,849.7 424.9,850.3 429,851.2 433.1,851.8 437.3,852.2 441.4,852.2 445.6,851.4 449.7,851 452.8,851.4 455.9,854.3 459,858 462.1,862.1 466.3,868.4 470.4,872.9 474.6,876.6 478.7,881.2 482.9,886 487,891.1 491.1,895.7 495.3,899.4 499.4,902.5 502.5,903.6 505.6,903.6 509.8,901.5 513.9,897.4 518.1,893.2 522.2,889.1 526.4,883.9 530.5,875.6 534.6,866.3 538.8,855.9 542.9,844.5 547.1,833.1 551.2,824.9 555.4,820.3 559.5,817.6 563.6,815.5 566.8,814.9 569.9,817 573,821.8 576.1,830 579.2,841.4 582.3,854.9 585.4,870.4 588.5,884.9 591.6,895.3 594.7,902.5 597.8,907.7 600.9,911.9 604,915 607.1,917.7 610.3,919.1 613.4,920.1 616.5,921.8 619.6,923.9 622.7,926.4 625.8,929.5 628.9,932.6 632,934.6 635.1,934.2 638.2,933 642.4,931.5 646.5,930.5 650.6,929.5 653.8,929.7 656.9,928.4 660,925.3 663.1,920.1 666.2,912.9 669.3,904.6 672.4,896.3 675.5,890.1 678.6,886 681.7,884.5 684.8,884.5 687.9,884.9 691,886 694.1,887.4 697.3,889.5 700.4,891.6 703.5,893.2 706.6,893.6 709.7,892.8 712.8,891.1 715.9,889.1 719,887 722.1,884.9 725.2,883.9 728.3,883.3 731.4,883.9 734.5,885.3 737.6,887.4 740.8,890.1 743.9,892.8 747,895.3 750.1,897.4 753.2,898.4 756.3,898.6 759.4,898.4 762.5,896.3 765.6,893.2 768.7,889.5 771.8,886 774.9,882.9 778,880.4 781.1,878.7 784.3,878.3 787.4,879.1 790.5,881.2 793.6,882.9 796.7,883.3 799.8,882.9 800,883.5 804.1,881.4 808.3,880.4 812.4,879.4 816.6,878.3 820.7,878.9 824.9,880.4 829,882.5 833.1,884.5 837.3,886.6 841.4,889.3 845.6,890.8 849.7,891 853.9,889.7 858,887.2 862.1,884.5 866.3,881.8 870.4,879.4 874.6,877.3 878.7,874.2 882.9,870.7 887,867.3 891.1,864.9 895.3,864.4 899.4,865.9 903.6,870 907.7,875.2 911.9,881 916,885.2 920.1,887.6 924.3,888.7 928.4,888.7 932.6,888.7 936.7,889.3 940.9,890.8 945,893.4 949.1,895.9 953.3,897 957.4,896.3 961.6,895.5 965.7,895.5 969.9,897 974,899.7 978.1,902.1 982.3,903.2 986.4,903.8 990.6,903.2 994.7,902.1 998.9,899.7 1003,895.9 1007.1,892.2 1011.3,889.7 1015.4,889.3 1019.6,890.1 1023.7,891.8 1027.9,893.4 1032,894.9 1036.1,895.9 1040.3,896.3 1044.4,896.3 1048.6,895.9 1052.7,894.3 1056.9,893.4 1061,893.4 1065.1,894.3 1069.3,895.5 1073.4,896.3 1077.6,896.6 1081.7,896.3 1085.9,895.9 1090,894.3 1094.1,892.8 1098.3,890.8 1102.4,888.9 1106.6,887.6 1110.7,887.2 1114.9,887.6 1119,888.1 1123.1,889.3 1127.3,890.1 1131.4,891.8 1135.6,893.4 1139.7,894.9 1143.9,896.3 1148,897.6 1152.1,898.8 1156.3,900.1 1160.4,900.5 1164.6,900.1 1168.7,898 1172.9,894.9 1177,890.8 1181.1,885.6 1185.3,880.4 1189.4,877.3 1193.6,876.3 1197.7,876.9 1199.8,877.3 1200,876.3 1204.1,876.9 1208.3,878.3 1212.4,879.8 1216.6,881.8 1220.7,883.9 1224.9,885.6 1229,886.8 1233.1,887.2 1237.3,886.8 1241.4,886 1245.6,885.2 1249.7,884.5 1253.9,884.3 1258,884.7 1262.1,885.6 1266.3,886.4 1270.4,886.4 1274.6,886 1278.7,885.2 1282.9,884.3 1287,883.5 1291.1,883.5 1295.3,883.7 1299.4,883.9 1303.6,883.9 1307.7,883.5 1311.9,882.5 1316,881 1320.1,879.4 1324.3,877.3 1328.4,875.2 1332.6,873.6 1336.7,872.7 1340.9,873.1 1345,874.2 1349.1,875.6 1353.3,877.3 1357.4,878.3 1361.6,878.3 1365.7,877.7 1369.9,876.9 1374,876.3 1378.1,875.6 1382.3,875.6 1386.4,875.6 1390.6,875.2 1394.7,874.8 1398.9,874.8 1403,874.8 1407.1,875.2 1411.3,875.6 1415.4,876.5 1419.6,878.3 1423.7,880.4 1427.9,883.1 1432,884.7 1436.1,885.6 1440.3,886 1444.4,887.2 1448.6,889.3 1452.7,891.4 1456.9,892.2 1461,892.2 1465.1,891.8 1469.3,891 1473.4,890.1 1477.6,889.3 1481.7,888.5 1485.9,888.1 1490,888.1 1494.1,888.1 1498.3,888.5 1502.4,888.3 1506.6,888.3 1510.7,888.9 1513.8,889.7 1516.5,890.1" stroke="#c0504d" stroke-width="0.9" fill="none"/><polyline points="1,844.5 5.2,848.7 9.3,853.9 12.4,855.5 16.6,851.8 20.7,844.5 25.9,837.3 29,826.9 32.1,817.6 35.2,812.4 38.3,812.4 41.4,813.5 44.5,814.5 47.6,816.6 50.8,821.8 53.9,823.2 57,822.8 60.1,818.6 63.2,815.5 66.3,814.5 69.4,814.9 71.5,820.7 74.6,826.9 77.7,831.1 80.8,833.1 83.9,838.3 87,842.5 90.1,846.6 93.2,850.8 96.3,851.8 98.4,849.7 101.5,853.9 104.6,861.1 107.7,866.3 110.8,870.4 113.9,877.7 117,887 119.1,891.1 121.2,886 124.3,879.8 127.4,874.6 130.5,872.1 133.6,872.5 136.7,871.5 139.8,873.5 142.9,875.6 145,878.7 147.1,876.6 150.2,878.7 153.3,879.8 155.4,875.6 157.4,868.4 159.5,858 161.6,851.8 164.7,844.5 167.8,833.1 170.9,824.9 174,817.6 177.1,809.3 180.2,806.2 183.3,810.4 186.4,816.6 188.5,822.8 190.6,835.2 192.6,848.7 194.7,862.1 196.8,874.6 198.9,882.9 200.9,887 203,889.1 205.1,887 207.1,883.9 209.2,882.9 211.3,883.9 214.4,877.7 216.5,871.5 219.6,867.3 221.6,871.5 223.7,877.7 225.8,882.9 227.9,889.1 229.9,894.3 232,898.4 235.1,899.4 238.2,902.5 240.3,907.7 242.4,916 244.4,922.2 246.5,926.4 249.6,924.3 252.7,920.1 255.8,913.9 257.9,918.1 260,920.6 262,920.1 265.1,916 267.2,912.9 270.3,911.9 272.4,907.7 274.5,899.4 277.6,891.1 280.7,887 282.8,888 285.9,884.9 289,881.8 291,880.8 293.1,882.9 295.2,886 297.3,891.1 299.3,898.4 301.4,905.6 303.5,911.9 305.5,919.1 307.6,926.4 309.7,933.6 311.8,940.9 313.8,949.1 315.9,959.5 318,974 320,984.4 322.1,989.5 325.2,992.6 328.3,997.2 330.4,993.7 333.5,988.5 336.6,982.3 338.7,978.1 340.8,969.9 342.8,963.6 345.9,958.5 349,954.3 352.1,951.2 354.2,952.3 356.3,950.2 359.4,948.1 362.5,941.9 365.6,934.6 368.7,928.4 371.8,921.2 373.9,912.9 376,902.5 378,891.1 380.1,881.8 382.2,873.5 384.3,866.3 386.3,861.1 389.4,858 392.5,856.3 394.6,859 396.7,859 399.8,854.9 400,854.9 404.1,850.8 407.3,848.1 410.4,850.8 414.5,847.2 418.6,852.2 422.8,849.7 426.9,852.2 431.1,852.2 435.2,854.3 439.4,851.8 442.5,848.7 445.6,847.2 448.7,850.8 451.8,859 454.9,866.3 458,869.4 462.1,872.9 466.3,877.1 470.4,880.8 474.6,884.9 478.7,891.1 482.9,895.3 487,899.4 491.1,901.9 495.3,905.2 498.4,907.3 501.5,904.6 504.6,899.4 507.7,895.3 511.9,892.2 516,888 520.1,883.9 524.3,876.6 527.4,868.4 530.5,861.1 533.6,849.7 536.7,840.4 539.8,831.1 542.9,823.8 546,818.6 549.1,816.6 552.3,817.6 555.4,816.6 558.5,814.5 561.6,813.5 564.7,814.9 566.8,818.6 568.8,829 570.9,841.4 573,853.9 575,864.2 577.1,873.5 579.2,881.8 581.3,889.1 583.3,895.3 585.4,901.5 587.5,904.6 590.6,906.7 593.7,910.8 595.8,916 597.8,919.7 600.9,920.6 604,919.1 607.1,917.7 610.3,920.1 613.4,924.3 616.5,927.4 619.6,928.8 622.7,930.5 625.8,935.7 627.9,938.4 631,935.7 634.1,930.9 638.2,927.4 641.3,929.5 644.4,930.9 647.5,930.1 650.6,929.5 653.8,928 656.9,922.2 660,911.9 663.1,902.5 666.2,893.2 669.3,886 672.4,883.3 675.5,882.9 678.6,883.9 681.7,887.4 684.8,888.7 687.9,887 691,886.6 694.1,891.1 697.3,895.3 699.3,896.3 702.4,894.3 705.5,890.7 708.6,887 711.8,884.9 714.9,883.9 718,884.5 721.1,883.3 724.2,882.4 727.3,882.9 730.4,885.3 733.5,888 736.6,891.1 739.7,894.3 742.8,897.4 745.9,900.1 750.1,900.5 753.2,897.8 756.3,894.9 759.4,892.2 762.5,888 765.6,883.9 768.7,880.8 771.8,878.7 774.9,878.3 778,877.7 781.1,877.7 784.3,879.8 787.4,884.5 790.5,886.6 793.6,884.9 796.7,882.9 799.8,881.8 800,880.4 804.1,880.4 808.3,879.8 812.4,878.3 816.6,877.7 820.7,881 824.9,884.5 829,885.6 833.1,886.6 837.3,889.7 841.4,892.2 845.6,891.8 849.7,889.7 853.9,885.6 858,882.5 862.1,880.4 866.3,878.3 870.4,875.6 873.5,874.8 876.6,874.2 879.8,869 882.9,865.9 886,863.8 889.1,863.2 892.2,864.4 895.3,868 898.4,873.1 901.5,878.3 904.6,882.5 907.7,885.2 911.9,887.6 916,889.3 920.1,888.7 924.3,888.1 928.4,888.1 932.6,888.5 935.7,889.3 938.8,892.8 941.9,897 945,900.1 948.1,900.5 951.2,897 954.3,892.8 957.4,892.8 960.5,895.9 963.6,898 966.8,898.4 969.9,901.1 973,904.6 976.1,905.9 979.2,903.8 982.3,902.1 985.4,902.6 988.5,903.2 991.6,902.6 994.7,900.5 997.8,895.9 1000.9,891.4 1004,888.7 1007.1,888.7 1010.3,889.3 1013.4,889.7 1016.5,891.4 1019.6,893.9 1022.7,895.5 1025.8,896.3 1029.9,896.3 1034.1,896.3 1038.2,896.3 1042.4,897 1045.5,896.3 1048.6,893.4 1051.7,890.8 1054.8,892.2 1057.9,893.9 1061,894.9 1064.1,895.5 1067.2,895.9 1070.3,896.3 1073.4,897 1076.5,897 1079.6,895.9 1082.8,894.9 1085.9,894.3 1089,891.8 1092.1,889.7 1095.2,889.3 1098.3,887.6 1101.4,886.6 1104.5,886 1107.6,887.2 1110.7,887.6 1113.8,888.1 1116.9,888.1 1120,889.7 1123.1,890.8 1126.3,891.8 1129.4,893.4 1132.5,894.3 1135.6,895.5 1138.7,897 1141.8,897.6 1144.9,898.4 1148,899.7 1151.1,900.5 1154.2,901.1 1157.3,900.5 1160.4,899 1163.5,896.3 1166.6,893.4 1169.8,889.7 1172.9,886.6 1176,884.5 1179.1,880.4 1182.2,876.3 1185.3,875.2 1188.4,875.6 1191.5,875.6 1194.6,876.3 1197.7,876.9 1199.8,877.3 1200,877.3 1204.1,877.7 1208.3,880.4 1212.4,882.5 1216.6,884.5 1220.7,886.6 1224.9,888.1 1229,888.7 1233.1,887.2 1237.3,886 1241.4,885.6 1245.6,885.2 1249.7,884.5 1253.9,883.9 1258,885.6 1262.1,888.1 1266.3,887.2 1270.4,886 1274.6,885.2 1278.7,883.9 1282.9,883.1 1287,883.1 1291.1,884.5 1295.3,884.5 1299.4,883.9 1303.6,884.5 1307.7,883.5 1311.9,880.4 1316,877.3 1319.1,875.6 1322.2,875.2 1325.3,873.6 1328.4,872.5 1331.5,872.7 1334.6,873.6 1337.8,874.2 1340.9,875.2 1344,876.3 1347.1,877.7 1350.2,878.9 1353.3,880.4 1356.4,879.4 1359.5,877.3 1362.6,876.9 1365.7,877.3 1368.8,875.6 1371.9,875.2 1375,875.2 1378.1,874.8 1381.3,875.6 1384.4,875.6 1388.5,875.2 1392.6,874.8 1396.8,874.2 1400.9,874.8 1405.1,875.2 1409.2,876.3 1413.4,876.9 1417.5,878.3 1421.6,881 1424.8,883.5 1427.9,885.6 1432,886 1436.1,886 1440.3,886 1443.4,888.7 1446.5,891.4 1449.6,893.4 1452.7,894.5 1455.8,892.2 1458.9,891.4 1463.1,890.8 1467.2,890.1 1471.4,889.3 1475.5,888.1 1479.6,887.6 1483.8,888.1 1487.9,887.6 1492.1,887.6 1496.2,888.7 1500.4,888.7 1504.5,887.6 1507.6,888.7 1510.7,891.8 1513.2,893.4 1516.5,890.8" stroke="#4a4a4a" stroke-width="0.9" fill="none"/></g><text x="7.5" y="819" font-weight="bold" font-size="13px" textLength="132" lengthAdjust="spacingAndGlyphs" fill="#000">MACD(C,EMA,13,34,8)</text><path d="M1879.5 802V1003" stroke="#000" stroke-width="1" shape-rendering="crispEdges"/><path d="M1880 808.5h6M1880 816.5h3M1880 823.5h3M1880 830.5h3M1880 838.5h6M1880 845.5h3M1880 852.5h3M1880 860.5h3M1880 867.5h6M1880 874.5h3M1880 882.5h3M1880 889.5h3M1880 896.5h6M1880 904.5h3M1880 911.5h3M1880 918.5h3M1880 926.5h6M1880 933.5h3M1880 941.5h3M1880 948.5h3M1880 955.5h6M1880 963.5h3M1880 970.5h3M1880 977.5h3M1880 985.5h6M1880 992.5h3M1880 999.5h3" stroke="#000" stroke-width="1" shape-rendering="crispEdges"/><text x="1888.5" y="843" fill="#000">3.00</text><text x="1888.5" y="872" fill="#000">1.00</text><text x="1887" y="901" fill="#000">-1.00</text><text x="1887" y="931" fill="#000">-3.00</text><text x="1887" y="960" fill="#000">-5.00</text><text x="1887" y="990" fill="#000">-7.00</text><path d="M1880.5 890.5L1887 883.5H1917.5Q1919.5 883.5 1919.5 885.5V895.5Q1919.5 897.5 1917.5 897.5H1887Z" fill="#ff9c94" stroke="#000" stroke-width="1"/><text x="1903.75" y="894.9" text-anchor="middle" fill="#000">-0.57</text><g clip-path="url(#crsi)"><polygon points="20.0,1051.5 20,1049.4 21,1047.4 22,1050.4 22.0,1051.5" fill="#d0d2ea"/><polygon points="24.0,1051.5 24,1049.5 25,1046.8 26,1043.9 27,1038.9 28,1034 29,1030.6 30,1027.3 31,1024 32,1022.3 33,1020.8 34,1022.7 35,1025.2 35.0,1051.5" fill="#d0d2ea"/><polygon points="58.0,1051.5 58,1051.1 59,1049.8 59.0,1051.5" fill="#d0d2ea"/><polygon points="166.0,1051.5 166,1050.9 167,1047.5 168,1047.5 169,1048.3 170,1049.3 171,1047.8 172,1045.3 173,1043.1 174,1041.1 175,1042.8 176,1047.2 177,1043.4 178,1038.9 179,1045.2 179.0,1051.5" fill="#d0d2ea"/><polygon points="382.0,1051.5 382,1050.3 383,1050.8 383.0,1051.5" fill="#d0d2ea"/><polygon points="532.0,1051.5 532,1047.4 533,1040.7 534,1034.5 535,1035.7 536,1039.2 537,1038.2 538,1035.2 539,1033.1 540,1031.6 541,1029.9 542,1027.9 543,1025.9 544,1023.9 545,1022.5 546,1022 547,1021.2 548,1020 549,1024.4 550,1043.5 551,1048.5 552,1045.7 553,1047.8 553.0,1051.5" fill="#d0d2ea"/><polygon points="556.0,1051.5 556,1051.3 557,1047.5 558,1044 559,1041.8 560,1040.8 561,1041.4 562,1043.9 563,1047 564,1051 564.0,1051.5" fill="#d0d2ea"/><polygon points="879.0,1051.5 879,1046.9 880,1047.4 881,1050.4 881.0,1051.5" fill="#d0d2ea"/><polygon points="1178.0,1051.5 1178,1043.2 1179,1039.8 1179.0,1051.5" fill="#d0d2ea"/><polygon points="308.0,1160.5 308,1162.8 309,1165.1 310,1167.1 311,1169.4 312,1171.9 313,1175.4 314,1179.4 315,1184.2 316,1189.7 317,1192.3 318,1191.8 319,1191.8 320,1192.5 321,1183.4 322,1173.9 323,1173.7 324,1174.7 325,1176.2 326,1177.7 327,1179.3 328,1181 329,1166 329.0,1160.5" fill="#e8c8c8"/><polygon points="1141.0,1160.5 1141,1161.6 1142,1164.1 1143,1166.6 1144,1169.1 1145,1168.4 1146,1166.8 1147,1168.8 1148,1170.8 1149,1175.8 1150,1180.8 1151,1180.7 1152,1175.7 1153,1174.5 1154,1174 1155,1174.9 1156,1175.1 1157,1167.6 1157.0,1160.5" fill="#e8c8c8"/><polygon points="1445.0,1160.5 1445,1162.2 1446,1164.7 1447,1168.3 1448,1171.8 1449,1171.6 1450,1166.1 1450.0,1160.5" fill="#e8c8c8"/><polygon points="1509.0,1160.5 1509,1163.8 1510,1167.6 1511,1163.5 1511.0,1160.5" fill="#e8c8c8"/><polyline points="1,1052.1 4,1053.9 7,1066.4 10,1064.4 13,1043.4 16,1026.3 19,1018.3 22,1018.4 25,1011.2 28,1004.6 31,1001.9 34,999.6 37,998.1 40,1024.8 43,1025.4 46,1031.8 49,1057.2 52,1050.2 55,1036.1 58,1033.9 61,1032.1 64,1033 67,1039.6 70,1043.1 73,1047.3 76,1071.9 79,1072.1 82,1074.3 85,1080.2 88,1084.8 91,1081.5 94,1068.1 97,1066.8 100,1068.3 103,1081.7 106,1089.1 109,1088.3 112,1088.9 115,1096.1 118,1084.9 121,1066 124,1064.8 127,1065 130,1068.5 133,1073.8 136,1079.7 139,1081 142,1089.9 145,1082.8 148,1076.3 151,1066.1 154,1042 157,1027.6 160,1027.4 163,1026 166,1028.7 169,1031.4 172,1024.9 175,1019.6 178,1010.2 181,1002.3 184,1019.8 187,1036.4 190,1049 193,1094.5 196,1103.5 199,1100.7 202,1082 205,1073.5 208,1073 211,1075.6 214,1062.4 217,1060.1 220,1059.7 223,1074 226,1095 229,1099.7 232,1100.4 235,1102 238,1102.4 241,1111 244,1120.7 247,1103.2 250,1091.1 253,1089.1 256,1089.3 259,1094.3 262,1096 265,1089.6 268,1086.2 271,1072.5 274,1073.7 277,1074.9 280,1076.9 283,1079.4 286,1073.4 289,1068.5 292,1067.9 295,1078.7 298,1093.7 301,1109.4 304,1119.3 307,1122.8 310,1137.7 313,1147.5 316,1158 319,1160.3 322,1153.9 325,1147.7 328,1122.4 331,1112.9 334,1112.3 337,1100.6 340,1101.5 343,1106.1 346,1110.9 349,1118.1 352,1119.3 355,1122 358,1107.7 361,1088.4 364,1076.8 367,1067 370,1036.6 373,1023.3 376,1025.4 379,1027.3 382,1030.5 385,1032 388,1034.8 391,1050.2 394,1056 397,1053.7 400,1050.5 403,1046.7 406,1045.2 409,1046.9 412,1049.4 415,1048.5 418,1054.8 421,1060.7 424,1059.6 427,1063.2 430,1072.9 433,1070.1 436,1067.1 439,1058.5 442,1049 445,1046.2 448,1048.5 451,1059.2 454,1081.4 457,1082.9 460,1088.4 463,1096.8 466,1096.3 469,1096.2 472,1099.7 475,1100.1 478,1111.5 481,1116 484,1116.3 487,1119.2 490,1118.1 493,1114.2 496,1104.9 499,1086.2 502,1074.3 505,1070 508,1071.6 511,1079 514,1075 517,1063.9 520,1045 523,1030.8 526,1030.8 529,1022 532,1011.3 535,1013 538,1010 541,1006.5 544,1005.1 547,1004 550,1003.8 553,1020.8 556,1021 559,1006.1 562,998.6 565,997 568,1005.7 571,1039.5 574,1093.2 577,1105.5 580,1122.3 583,1130.6 586,1127.6 589,1120.1 592,1119.6 595,1120.9 598,1119.3 601,1118.9 604,1109.3 607,1107.5 610,1109.3 613,1119.7 616,1126.4 619,1126.9 622,1128.1 625,1127 628,1117.5 631,1106 634,1101.5 637,1102.2 640,1114 643,1117.5 646,1111.8 649,1106.4 652,1090.8 655,1063.1 658,1057 661,1059.3 664,1060.4 667,1059.9 670,1057.8 673,1061.8 676,1073.9 679,1082.5 682,1086.9 685,1082.1 688,1082.9 691,1083.3 694,1096.7 697,1097.2 700,1078.3 703,1071.4 706,1069.9 709,1071.8 712,1076.1 715,1079.3 718,1074.4 721,1070.7 724,1072.2 727,1073.6 730,1081.6 733,1102 736,1112.3 739,1116.8 742,1120.6 745,1113.4 748,1092.6 751,1075 754,1072 757,1065.3 760,1056.7 763,1059.1 766,1060.3 769,1061.4 772,1060.2 775,1054.4 778,1059 781,1060 784,1067.3 787,1090.2 790,1078.3 793,1063.6 796,1056.4 799,1057.2 802,1064.3 805,1074 808,1077.2 811,1066.1 814,1065.4 817,1071.4 820,1087.3 823,1102.5 826,1099.6 829,1099.7 832,1101.2 835,1107.1 838,1113.2 841,1097.9 844,1086.3 847,1063.6 850,1057.8 853,1059.6 856,1059.7 859,1062.7 862,1063.7 865,1049.4 868,1045.1 871,1045.8 874,1047 877,1029.3 880,1028.8 883,1027.2 886,1029.2 889,1029 892,1031.1 895,1054.8 898,1072.3 901,1099.9 904,1111 907,1112.8 910,1110.1 913,1106.8 916,1093.3 919,1089.3 922,1090.1 925,1094.1 928,1090.5 931,1089.7 934,1097.2 937,1101.6 940,1110.4 943,1120.5 946,1099.8 949,1079.3 952,1071.7 955,1073.6 958,1079.4 961,1102.6 964,1108.2 967,1112.5 970,1119.7 973,1125.1 976,1111.5 979,1109.7 982,1108.7 985,1107.4 988,1110.1 991,1093.5 994,1069.5 997,1059.8 1000,1062.2 1003,1064.4 1006,1064.8 1009,1083.6 1012,1090.3 1015,1095 1018,1110.4 1021,1117.4 1024,1121.3 1027,1114.1 1030,1111.7 1033,1111.4 1036,1112.5 1039,1109.6 1042,1101.9 1045,1083.1 1048,1079.5 1051,1078.7 1054,1080.3 1057,1103.6 1060,1120.4 1063,1119.7 1066,1111.1 1069,1109.1 1072,1109.2 1075,1106.6 1078,1098.7 1081,1096.3 1084,1091.6 1087,1090.5 1090,1079 1093,1078.2 1096,1080.9 1099,1084.2 1102,1081.6 1105,1082.1 1108,1095.9 1111,1103.2 1114,1102.9 1117,1105 1120,1107 1123,1117.2 1126,1118.9 1129,1121 1132,1131.5 1135,1136.7 1138,1137.5 1141,1144 1144,1148.3 1147,1152.7 1150,1149.4 1153,1145.3 1156,1113.4 1159,1080.6 1162,1063.9 1165,1034.8 1168,1024.4 1171,1033.1 1174,1030.6 1177,1017.4 1180,1018.1 1183,1031.8 1186,1050.8 1189,1065.4 1192,1075.8 1195,1085.1 1198,1082.5 1201,1080.7 1204,1079.7 1207,1079.4 1210,1098.1 1213,1106.9 1216,1110.3 1219,1116.2 1222,1112.6 1225,1106.9 1228,1087.2 1231,1074.9 1234,1073.6 1237,1075.7 1240,1090.3 1243,1091.9 1246,1084.4 1249,1080.2 1252,1080.3 1255,1092 1258,1106.6 1261,1099.9 1264,1079.4 1267,1072.4 1270,1063.7 1273,1065.7 1276,1073.2 1279,1083.6 1282,1083.3 1285,1084.5 1288,1094.8 1291,1100.7 1294,1100.3 1297,1092.5 1300,1086.6 1303,1073.1 1306,1054.8 1309,1048.2 1312,1036.2 1315,1035 1318,1039.8 1321,1045.4 1324,1047.6 1327,1046.8 1330,1054 1333,1066.6 1336,1067.8 1339,1067.8 1342,1070 1345,1076.3 1348,1088.4 1351,1088.2 1354,1053.7 1357,1043.7 1360,1043.5 1363,1053.8 1366,1063.9 1369,1064.6 1372,1065.5 1375,1069.1 1378,1071.9 1381,1075.2 1384,1073.5 1387,1073.3 1390,1070.6 1393,1067.3 1396,1068 1399,1067.5 1402,1071.6 1405,1071.2 1408,1071.1 1411,1079.1 1414,1076.9 1417,1078.4 1420,1100 1423,1119.5 1426,1119.1 1429,1107.1 1432,1095.7 1435,1082.4 1438,1077.9 1441,1077.8 1444,1105.6 1447,1130.6 1450,1115.9 1453,1095.9 1456,1092.5 1459,1094.2 1462,1099.6 1465,1108.1 1468,1109.5 1471,1098.2 1474,1096.8 1477,1095.2 1480,1094.3 1483,1092.8 1486,1104.2 1489,1104.5 1492,1104.4 1495,1106.7 1498,1084 1501,1080.9 1504,1079.5 1507,1087.9 1510,1094.3 1513,1065.5 1516,1060.2" stroke="#d6d6f4" stroke-dasharray="4 4" fill="none"/><polyline points="1,1104.3 4,1118.1 7,1121.9 10,1124.2 13,1118.2 16,1113.1 19,1096.4 22,1081.9 25,1075.5 28,1066.7 31,1053.4 34,1082.2 37,1088.9 40,1090.8 43,1102.8 46,1105.7 49,1101.4 52,1098.4 55,1094.7 58,1082.7 61,1082.2 64,1102.2 67,1104.3 70,1120.2 73,1122.1 76,1118.8 79,1112.5 82,1119.6 85,1117.4 88,1116.3 91,1115 94,1117.2 97,1119.4 100,1130.8 103,1143.5 106,1147.1 109,1145.7 112,1151.7 115,1158.6 118,1161.3 121,1159.7 124,1131.3 127,1114.4 130,1122.6 133,1119.7 136,1119.4 139,1123.1 142,1127.8 145,1131.2 148,1137.9 151,1141.8 154,1139.3 157,1124.1 160,1099.9 163,1088.8 166,1081.9 169,1067.6 172,1065.6 175,1067.4 178,1092.5 181,1119.2 184,1132.4 187,1169.8 190,1181.5 193,1179 196,1176.5 199,1171.4 202,1152.8 205,1148.7 208,1133.9 211,1129.9 214,1127.9 217,1121.9 220,1139.4 223,1145.3 226,1157.3 229,1161.5 232,1157.7 235,1147.8 238,1157.9 241,1162.4 244,1166.7 247,1166.9 250,1159.7 253,1140 256,1149.7 259,1148.9 262,1149.3 265,1142.8 268,1138.9 271,1138.3 274,1127.5 277,1111.8 280,1124.9 283,1127.8 286,1131.8 289,1132.1 292,1149.8 295,1166.6 298,1183.1 301,1182.2 304,1186.4 307,1192.1 310,1197.6 313,1208.5 316,1209.9 319,1209.3 322,1212.4 325,1205.3 328,1207.7 331,1204 334,1179.2 337,1167 340,1161.2 343,1145.3 346,1146.1 349,1152.3 352,1161.3 355,1163.2 358,1162.7 361,1165.2 364,1159 367,1148.6 370,1144.2 373,1134 376,1100.3 379,1088 382,1080.4 385,1087.3 388,1093.4 391,1109.3 394,1112.8 397,1111 400,1095.9 403,1083.9 406,1092.9 409,1100.7 412,1100.6 415,1111.6 418,1114.4 421,1113 424,1111.8 427,1111.8 430,1109.3 433,1105.4 436,1105.6 439,1100 442,1102 445,1107.6 448,1133.2 451,1149.1 454,1149.3 457,1145.5 460,1131.2 463,1127.2 466,1134 469,1138.2 472,1142.4 475,1154.5 478,1161.7 481,1160.4 484,1156.7 487,1154.6 490,1157.7 493,1169 496,1174.5 499,1174.9 502,1152.9 505,1133.9 508,1129.4 511,1126.7 514,1128.8 517,1122.2 520,1119.8 523,1112.8 526,1097.8 529,1093.1 532,1088.3 535,1068.6 538,1059 541,1053.1 544,1045.8 547,1055.4 550,1067.2 553,1073 556,1077.1 559,1086.2 562,1097.8 565,1135.2 568,1193.1 571,1196.2 574,1191 577,1181.4 580,1166.9 583,1163.9 586,1166.2 589,1166.3 592,1163.7 595,1170 598,1170.5 601,1161.1 604,1152.6 607,1153.4 610,1165.1 613,1171.1 616,1171.9 619,1165.8 622,1172.4 625,1178.8 628,1178.3 631,1166.2 634,1154.3 637,1155.1 640,1162 643,1161.8 646,1162.4 649,1162.8 652,1165 655,1159.8 658,1146.3 661,1117.3 664,1109.8 667,1106 670,1112.4 673,1121.7 676,1135.8 679,1143.3 682,1143.6 685,1142.6 688,1136.9 691,1154.5 694,1158.2 697,1159.8 700,1158 703,1140.8 706,1122 709,1118.4 712,1130.8 715,1129.6 718,1131.6 721,1121 724,1127.8 727,1150.3 730,1160.8 733,1162.6 736,1162.6 739,1169.5 742,1179.7 745,1182.2 748,1180.6 751,1164.6 754,1148.9 757,1139.5 760,1132.9 763,1112.8 766,1097.1 769,1094.8 772,1111.6 775,1121 778,1126.5 781,1143.8 784,1166.8 787,1174.4 790,1175.3 793,1159 796,1130 799,1115.9 802,1121.7 805,1120.1 808,1123.3 811,1123.8 814,1129.2 817,1143 820,1144.4 823,1152.9 826,1153.2 829,1149.4 832,1155.4 835,1165.1 838,1171.7 841,1176.8 844,1162.3 847,1152.2 850,1142 853,1116.2 856,1107.3 859,1113 862,1112.8 865,1113.1 868,1107.6 871,1104.5 874,1108.6 877,1105.8 880,1091.2 883,1090.2 886,1101.9 889,1123.9 892,1140.2 895,1161.2 898,1170.5 901,1169.6 904,1162.6 907,1151.6 910,1147.2 913,1145.2 916,1146 919,1143.7 922,1137.9 925,1138.1 928,1138.3 931,1144.2 934,1153.9 937,1171.5 940,1181.7 943,1184.2 946,1183.4 949,1171.5 952,1149.4 955,1150.8 958,1168.5 961,1170.2 964,1166.8 967,1168.5 970,1171.2 973,1172.1 976,1172 979,1158 982,1155.1 985,1163.7 988,1167.2 991,1166.7 994,1162.6 997,1144.9 1000,1119.7 1003,1132.6 1006,1146.4 1009,1149.3 1012,1152.5 1015,1154.7 1018,1163.9 1021,1166.5 1024,1165.3 1027,1158.1 1030,1147.9 1033,1148.1 1036,1151.1 1039,1163.5 1042,1168 1045,1168.6 1048,1149.5 1051,1147.4 1054,1163.8 1057,1165.4 1060,1165.6 1063,1166.2 1066,1162.4 1069,1159.9 1072,1166.8 1075,1167.8 1078,1164.1 1081,1148.8 1084,1149.9 1087,1138.3 1090,1129.8 1093,1127 1096,1127.1 1099,1128.9 1102,1130.8 1105,1138.8 1108,1142 1111,1143.1 1114,1143.2 1117,1149.7 1120,1154.9 1123,1158 1126,1165.7 1129,1175.2 1132,1174.5 1135,1174.4 1138,1177.4 1141,1182.4 1144,1183.3 1147,1193.1 1150,1200.1 1153,1207.3 1156,1210.7 1159,1216.5 1162,1195.1 1165,1169.7 1168,1152.7 1171,1117.1 1174,1105.6 1177,1100.7 1180,1100.6 1183,1123 1186,1123.7 1189,1125.3 1192,1119.7 1195,1115.1 1198,1116.8 1201,1118.2 1204,1136.7 1207,1149.6 1210,1149.2 1213,1148.9 1216,1151.8 1219,1149.5 1222,1153 1225,1153.5 1228,1153.7 1231,1146.6 1234,1127.7 1237,1131.3 1240,1128.5 1243,1128.5 1246,1123.9 1249,1134.1 1252,1150.5 1255,1159.4 1258,1176.6 1261,1179.6 1264,1177.8 1267,1149.7 1270,1132.1 1273,1131.3 1276,1131.1 1279,1132.7 1282,1130.4 1285,1136.6 1288,1146.5 1291,1146.3 1294,1142.2 1297,1136.2 1300,1139.9 1303,1141.3 1306,1142.2 1309,1123.9 1312,1106.1 1315,1097.3 1318,1104.8 1321,1108.5 1324,1109.5 1327,1102 1330,1107.2 1333,1109 1336,1116.1 1339,1120 1342,1134.4 1345,1138.5 1348,1155.6 1351,1157.9 1354,1157.7 1357,1147.2 1360,1119.3 1363,1130.2 1366,1123.8 1369,1112.6 1372,1103.2 1375,1105.6 1378,1123.2 1381,1125.1 1384,1122.6 1387,1107.2 1390,1104 1393,1101.8 1396,1104.2 1399,1121.1 1402,1121.6 1405,1121.4 1408,1126 1411,1129.4 1414,1148.9 1417,1166.3 1420,1172.2 1423,1171.4 1426,1170.5 1429,1167.3 1432,1160.5 1435,1150.4 1438,1159.1 1441,1185.7 1444,1195.5 1447,1199.3 1450,1198.4 1453,1190.6 1456,1167.4 1459,1147.1 1462,1142.3 1465,1140.9 1468,1139.9 1471,1140.7 1474,1136 1477,1133.9 1480,1141 1483,1151.2 1486,1152.8 1489,1149.4 1492,1159.9 1495,1164.7 1498,1168.9 1501,1156.6 1504,1161.8 1507,1194.9 1510,1197.3 1513,1197.1 1516,1166.2" stroke="#d6d6f4" stroke-dasharray="4 4" fill="none"/><path d="M1 1051.5H1879M1 1160.5H1879" stroke="#000" stroke-width="1" shape-rendering="crispEdges"/><path d="M1 1106.5H1879" stroke="#000" stroke-width="1" stroke-dasharray="4 2" shape-rendering="crispEdges"/><polyline points="1,1069.3 4.1,1085.9 7.3,1104.5 10.4,1092.1 12.4,1091 15.5,1069.3 17.6,1058.9 20.7,1046.5 22.8,1052.7 25.9,1044.4 28,1034.1 31.1,1023.7 33.1,1020.6 35.2,1025.8 36.3,1064.1 38.3,1064.1 40.4,1056.9 43.5,1049.6 46.6,1086.9 48.7,1077.6 50.8,1082.8 53.9,1071.4 55.9,1063.1 58.6,1047.5 60.5,1058.9 62.6,1051.7 64.6,1069.3 66.7,1084.8 68.8,1069.3 70.4,1063.1 72.5,1102 74.6,1100.4 76.6,1093.1 79.8,1087.9 82.4,1090 84.5,1109.7 86.6,1095.2 88.7,1099.9 90.7,1102.4 93.6,1099.3 96.3,1081.3 98.4,1090 100.5,1104.9 102.5,1111.8 104.6,1120 106.7,1128.3 108.8,1112.8 110.8,1106.2 112.9,1126.3 115,1133.5 117,1135.6 118.5,1139.7 120.1,1119 122.2,1092.1 124.3,1087.9 126.8,1089 128.8,1093.1 130.5,1083.8 132.6,1108.6 134.6,1095.2 136.3,1093.1 138.4,1104.5 140.4,1105.5 142.5,1110.7 144.6,1116.5 146.7,1094.1 148.3,1118 150.4,1109.7 152.5,1110.7 154.3,1090 156.4,1075.5 158.5,1058.9 160.5,1055.8 162.6,1061 164.7,1064.1 166.3,1047.5 168.2,1047.5 170.3,1049.6 172.3,1044.4 174.4,1040.3 176.1,1047.5 178.1,1038.2 179.8,1051.7 181.3,1067.2 182.7,1078.6 184.4,1081.7 186,1080.7 187.5,1090 188.9,1108.6 190.6,1138.7 192.6,1142.8 194.7,1141.8 196.4,1151.7 198.4,1130.4 200.5,1126.3 202.6,1125.2 204.7,1101.4 206.7,1104.5 208.4,1093.7 210.3,1112.8 212.3,1107.6 214.4,1097.3 216.5,1076.5 218.5,1089 220,1094.1 222.1,1112.8 223.7,1122.1 225.8,1121.1 227.9,1129.4 230.3,1141.8 232.4,1121.1 234.5,1118 236.1,1117.6 238.2,1128.3 240.3,1143.9 242.4,1141.8 244.4,1147 246.5,1149 248.6,1126.3 250.6,1120 252.7,1106.6 254.4,1115.9 256.4,1104.9 258.5,1134.5 260.6,1132.5 262.7,1121.1 264.7,1111.8 266.8,1106.6 268.9,1116.9 270.5,1121.1 272.4,1095.2 274.5,1089 276.5,1091 278.6,1092.1 280.7,1099.3 282.8,1111.8 284.2,1112.8 285.9,1096.2 287.9,1092.5 290,1095.2 292.1,1106.6 294.1,1121.1 296.2,1128.3 298.3,1139.7 300.4,1155.3 302.4,1148 304.1,1145.9 306.2,1157.3 308.2,1163.5 310.3,1167.7 312.4,1172.9 314.4,1181.1 316.5,1192.5 318.6,1191.5 320,1192.5 322.1,1172.9 324.2,1174.9 326.3,1178 328.3,1181.6 329.8,1148 331.4,1156.3 333.1,1143.9 334.5,1137.6 336.6,1139.7 338.1,1142.8 339.7,1122.1 341.4,1119.4 343,1123.1 344.7,1129.4 346.3,1131.4 348.4,1133.1 350.5,1134.5 352.1,1139.7 354.2,1148 355.9,1140.8 357.5,1140.8 359.2,1138.7 360.8,1127.3 362.5,1115.9 364.6,1112.8 367.1,1109.1 369.8,1108.2 371.8,1081.7 373.9,1063.1 376,1053.8 378,1064.1 380.1,1056.9 382.2,1049.6 384.3,1052.7 385.7,1052.3 387.4,1065.1 388.4,1074.5 390.5,1070.3 392.5,1081.7 394.6,1098.3 396.7,1082.8 398.8,1071.4 400,1069.3 403.1,1064.7 406.2,1060.6 408.3,1073.4 410.8,1086.9 412.8,1071.4 414.5,1062 416.6,1085.9 418.6,1102.8 420.7,1079.6 422.8,1077.6 424.4,1072.4 426.5,1102.4 428.6,1087.9 430.7,1085.9 432.7,1084.8 434.4,1095.2 436.5,1079.6 438.5,1080.7 440.6,1082.1 442.5,1068.3 444.5,1072.4 446.6,1073.4 448.7,1087.9 450.8,1108.6 452.8,1122.1 454.5,1127.3 456.3,1114.9 458.4,1100.4 460.5,1115.9 462.6,1115.9 464.6,1108.6 466.7,1114.9 468.8,1121.1 470.8,1122.1 472.5,1112.8 474.6,1125.2 476.6,1133.5 478.7,1141.8 480.4,1148 482.4,1127.3 484.1,1134.5 486.2,1131.4 488.2,1142.8 490.3,1142.8 492.4,1131.4 494.5,1141.8 496.5,1155.3 498.6,1131.4 500.7,1115.9 502.7,1106.6 504.8,1099.3 506.5,1091 508.5,1108.6 510.6,1102.4 512.3,1109.7 514.3,1097.3 516.4,1095.2 518.1,1095.2 520.1,1084.8 522.2,1075.5 524.3,1060 526.4,1056.9 528.4,1070.3 530.5,1057.9 532.6,1043.4 534.2,1033 536.3,1040.3 538.4,1034.1 540.4,1031 542.5,1026.8 544.6,1022.7 546.7,1021.6 548.7,1019.2 550,1043.4 551.2,1049.6 552.5,1043.4 554.3,1058.5 556.4,1049.6 558.5,1042.4 560.5,1040.3 562.6,1045.5 564.7,1053.8 566.3,1062 567.8,1081.7 568.8,1102.4 569.9,1131.4 570.7,1150.1 572.3,1136.6 574.4,1139.7 576.5,1143.9 578.6,1149 580.6,1142.8 582.7,1140.8 584.8,1148 586.4,1157.3 588.5,1143.9 590.6,1131 592.6,1135.6 594.7,1149 596.4,1158.4 598.4,1143.9 600.5,1132.5 602.6,1133.5 604.7,1139.7 606.7,1121.5 608.8,1127.3 610.9,1139.7 612.9,1151.1 614.6,1159.4 616.7,1142.8 618.7,1141.4 620.4,1145.9 622.1,1144.9 623.7,1150.1 625.4,1161.5 626.4,1162.1 628.5,1145.9 630.3,1131.4 632,1137.6 634.5,1115.9 636.6,1125.2 638.6,1133.5 640.7,1141.8 642.4,1151.1 644.4,1129.4 646.5,1132.5 648.6,1139.7 650.6,1133.5 653.1,1130.4 654.8,1123.1 656.4,1102.4 658.1,1087.9 660.2,1084.8 662.2,1084.8 664.7,1090 666.8,1082.8 668.5,1074.5 670.3,1083.8 672.4,1092.1 674.5,1097.3 676.5,1102.4 678.6,1114.9 680.7,1124.2 682.8,1124.2 684.8,1104.5 686.9,1102.4 688.3,1100.4 690.4,1106.6 692.5,1136.6 694.1,1135.6 696.2,1138.7 697.9,1133.5 699.9,1119 702,1104.5 704.1,1096.2 706.2,1093.1 708.2,1092.1 710.3,1090 712,1097.3 714,1116.9 716.1,1114.9 718.2,1091 720.2,1090 721.9,1100.4 724,1095.2 726,1102.4 728.1,1111.8 730.2,1131.4 732.3,1134.5 734.3,1137.6 736.4,1134.5 738.5,1138.7 740.5,1143.9 742.6,1154.2 744.3,1161.5 746.3,1148 748.4,1131.4 750.5,1121.1 752.6,1107.6 754.6,1101.4 756.3,1112.8 758.4,1106.6 760.4,1090 762.5,1078.6 764.6,1080.7 766.6,1076.5 768.7,1078.6 770.8,1079.6 772.4,1074.5 774.5,1098.3 776.6,1096.2 778.7,1087.9 780.3,1086.9 782.4,1102.4 784.5,1121.1 786.5,1137.6 788.4,1152.1 790.5,1127.3 792.5,1106.6 794.6,1094.1 796.7,1086.9 798.8,1080.7 800,1083.8 802.1,1085.9 804.1,1102.4 806.2,1106.6 808.3,1104.5 810.4,1103.5 812.4,1080.7 814.5,1096.2 816.2,1095.2 818.2,1122.1 820.3,1124.2 822.4,1123.1 824.4,1127.3 826.5,1135.6 828.6,1119 830.7,1114.9 832.7,1127.3 834.8,1141.8 836.9,1143.9 838.7,1155.3 840.8,1132.5 842.9,1127.3 845,1118 847,1113.8 848.7,1112.8 850.1,1085.9 852.2,1085.4 854.3,1086.9 856.3,1079.6 858.4,1081.7 860.5,1087.9 862.6,1099.9 864.6,1094.1 866.3,1063.1 868.4,1065.1 870.4,1083.8 872.5,1083.8 874.2,1074.5 876.2,1090 878.3,1046.5 880.4,1047.5 882.4,1056.9 884.5,1057.3 886.6,1077.6 888.7,1059.3 890.7,1085.9 892.8,1092.1 894.9,1100.4 896.9,1121.1 899,1131.4 901.1,1139.7 902.3,1144.9 904.4,1127.3 906.1,1135.6 908.1,1129.4 910.2,1127.3 912.3,1128.3 914.3,1120 916.4,1134.5 918.5,1107.6 920.1,1102.4 922.2,1124.2 924.3,1125.2 926.4,1104.5 928.4,1112.8 930.5,1118 932.6,1122.1 934.6,1123.6 936.3,1125.2 938.4,1143.9 940.4,1151.1 942.5,1162.1 944.6,1153.2 946.7,1143.9 948.7,1127.3 950.8,1108.6 952.9,1101.4 954.5,1094.1 956.6,1112.8 958.7,1135.6 960.3,1150.1 962.4,1131.4 964.5,1131.8 966.5,1132.5 968.6,1141.8 970.7,1153.8 972.8,1155.3 974.4,1157.3 976.5,1137.6 978.6,1126.3 980.6,1124.2 982.7,1127.3 984.8,1137.6 986.4,1147 988.5,1130.4 990.2,1141.8 992.2,1129.4 994.3,1118 996.4,1100.4 998.4,1085.4 1000.5,1086.9 1002.6,1086.9 1004.7,1086.3 1006.3,1122.1 1008.4,1125.2 1010.5,1116.9 1012.1,1115.9 1014.2,1125.2 1016.3,1129.4 1018.3,1131.4 1020.4,1145.9 1022.5,1153.2 1024.5,1142.8 1026.6,1134.5 1028.7,1133.5 1030.3,1121.5 1032.4,1135.6 1034.5,1133.1 1036.6,1134.5 1038.6,1127.3 1040.7,1135.6 1042.4,1149.7 1044.4,1144.9 1046.1,1105.5 1048.2,1103.5 1050.2,1100.4 1052.3,1106.6 1054.4,1131.4 1056.4,1140.8 1058.5,1143.9 1060.6,1142.8 1062.7,1142.2 1064.7,1151.1 1066.8,1131.4 1068.5,1123.6 1070.5,1127.3 1072.6,1143.9 1074.7,1154.2 1076.7,1131.4 1078.8,1118 1080.5,1114.9 1082.1,1130.4 1084.2,1118 1086.3,1116.5 1088.3,1106.6 1090.4,1116.9 1092.5,1089 1094.6,1102.4 1096.6,1104.5 1098.7,1115.9 1100.8,1104.5 1102.4,1094.1 1104.5,1107.6 1106.6,1122.1 1108.6,1124.2 1110.3,1127.3 1112.4,1120 1114.4,1119.4 1116.5,1120 1118.6,1131.4 1120.7,1137.6 1122.7,1135.6 1124.4,1141.8 1126.5,1135.6 1128.5,1143.9 1130.6,1159.4 1132.3,1157.3 1134.3,1151.1 1136.4,1155.3 1138.5,1159.4 1140.5,1160.4 1142.6,1165.6 1144.3,1169.8 1145.9,1166.6 1148,1170.8 1150.5,1183.2 1152.1,1174.9 1154.2,1173.9 1155.9,1176 1157.9,1160.4 1160,1137.6 1162.1,1123.1 1164.2,1113.8 1165.8,1107.6 1167.5,1085.9 1168.7,1069.3 1170.4,1066.2 1172.4,1076.5 1174.5,1079.6 1176.6,1069.3 1178.7,1031 1180.3,1074.5 1182.4,1058.9 1184.5,1102.4 1186.5,1094.1 1188.2,1088.3 1190.3,1100.4 1192.3,1102.4 1194.4,1098.3 1196.5,1098.7 1198.5,1101.4 1200,1100.4 1202.5,1097.3 1205.2,1100.4 1206.6,1114.9 1208.3,1131.4 1210.4,1127.3 1212.4,1124.8 1214.5,1125.2 1216.6,1131.4 1218.6,1139.7 1220.3,1127.3 1222.4,1134.5 1224.4,1129.4 1226.5,1135.6 1228.6,1125.2 1230.7,1106.6 1232.7,1100.4 1234.4,1089 1236.5,1102.4 1238.5,1113.8 1240.6,1115.9 1242.7,1105.5 1244.7,1105.5 1246.8,1106.6 1248.9,1099.9 1251,1108.6 1253,1119 1254.7,1129.4 1256.8,1133.5 1258.8,1139.7 1260.7,1157.9 1262.6,1143.9 1264.6,1114.9 1266.7,1107.6 1268.4,1094.1 1270.4,1109.7 1272.5,1084.8 1274.2,1091 1276.2,1112.8 1278.3,1116.9 1280.4,1102.4 1282.4,1099.3 1284.5,1105.5 1286.6,1115.9 1288.7,1122.1 1290.5,1137.2 1292.6,1113.8 1294.7,1114.9 1296.7,1120 1298.8,1112.8 1300.5,1106.6 1302.5,1118 1304.6,1110.7 1306.5,1092.1 1308.5,1085.9 1310.4,1072.4 1312.5,1078.6 1314.3,1061 1316.4,1055.2 1318.5,1063.1 1320.6,1089 1322.2,1093.1 1324.3,1066.2 1326.4,1064.1 1328.4,1079.6 1330.5,1084.8 1332.6,1092.1 1334.6,1091 1336.3,1086.9 1338.4,1098.3 1340.4,1089 1342.5,1100.4 1344.6,1113.8 1346.7,1116.9 1348.3,1112.8 1350.4,1132.5 1352.5,1133.5 1354.5,1121.1 1356.6,1077.6 1358.5,1066.2 1360.5,1082.8 1362.6,1084.8 1364.7,1109.7 1366.8,1090 1368.8,1079.6 1370.9,1080.7 1373,1087.9 1375,1083.8 1376.5,1094.1 1378.6,1084.8 1380.6,1114.9 1382.7,1100.4 1384.8,1090 1386.4,1084.8 1388.5,1091 1390.6,1086.9 1392.6,1085.9 1394.7,1080.7 1396.8,1081.7 1398.9,1084.8 1400.5,1108.6 1402.6,1102.4 1404.7,1083.8 1406.3,1102.4 1408.4,1102.4 1410.5,1106.6 1412.5,1103.5 1414.6,1102.4 1416.3,1119 1418.3,1131.4 1420.4,1143.9 1422.5,1149 1424.5,1150.5 1426.6,1147 1428.7,1139.7 1430.3,1136.6 1432.4,1123.1 1434.5,1118 1436.6,1112.8 1438.6,1100.4 1440.3,1123.1 1441.9,1145.9 1443.6,1159.4 1445.7,1163.5 1448.6,1173.9 1450.6,1162.5 1452.3,1148 1454.4,1131.4 1456.4,1114.9 1458.5,1124.2 1460.6,1116.9 1462.7,1123.1 1464.7,1122.1 1466.8,1127.3 1468.9,1129.4 1470.5,1125.2 1473,1109.7 1475.1,1110.7 1476.7,1115.9 1478.8,1123.1 1480.5,1101.4 1482.5,1125.2 1484.6,1138.7 1486.7,1127.3 1488.8,1120.7 1490.8,1124.2 1492.5,1127.3 1494.6,1140.8 1496.6,1151.1 1498.7,1123.1 1500.4,1102.4 1502.4,1107.6 1504.5,1120 1506.6,1126.3 1508.6,1162.5 1510.3,1168.7 1512,1156.3 1513.2,1127.3 1514.9,1102.4 1516.5,1092.1" stroke="#3a3a3a" stroke-width="0.9" fill="none"/></g><text x="7.5" y="1022.7" font-weight="bold" font-size="13px" textLength="56" lengthAdjust="spacingAndGlyphs" fill="#000">RSI(C,13)</text><path d="M1879.5 1006V1205" stroke="#000" stroke-width="1" shape-rendering="crispEdges"/><path d="M1880 1201.5h3M1880 1188.5h6M1880 1174.5h3M1880 1160.5h6M1880 1147.5h3M1880 1133.5h6M1880 1119.5h3M1880 1106.5h6M1880 1092.5h3M1880 1078.5h6M1880 1065.5h3M1880 1051.5h6M1880 1037.5h3M1880 1024.5h6M1880 1010.5h3" stroke="#000" stroke-width="1" shape-rendering="crispEdges"/><text x="1888.5" y="1029" fill="#000">80.0</text><text x="1888.5" y="1056" fill="#000">70.0</text><text x="1888.5" y="1083" fill="#000">60.0</text><text x="1888.5" y="1111" fill="#000">50.0</text><text x="1888.5" y="1138" fill="#000">40.0</text><text x="1888.5" y="1165" fill="#000">30.0</text><text x="1888.5" y="1193" fill="#000">20.0</text><path d="M1880.5 1068.5L1886 1061.5H1920.5Q1922.5 1061.5 1922.5 1063.5V1073.5Q1922.5 1075.5 1920.5 1075.5H1886Z" fill="#a8ccff" stroke="#000" stroke-width="1"/><text x="1904.75" y="1072.9" text-anchor="middle" fill="#000">68.81</text><path d="M1880.5 1092.5L1886 1085.5H1913.5Q1915.5 1085.5 1915.5 1087.5V1097.5Q1915.5 1099.5 1913.5 1099.5H1886Z" fill="#ff9088" stroke="#000" stroke-width="1"/><text x="1901.25" y="1096.9" text-anchor="middle" fill="#000">55.1</text><text x="1925" y="1201" text-anchor="end" font-weight="bold" font-size="9.5px" fill="#444" textLength="93" lengthAdjust="spacing">motivewave.com</text><rect x="1" y="798" width="1929" height="4" fill="#808080"/><rect x="1" y="1002" width="1929" height="4" fill="#808080"/><path d="M0.5 0V1206M1930.5 0V1206M0 0.5H1931M0 1205.5H1931" stroke="#000" stroke-width="1" shape-rendering="crispEdges"/></svg></body></html>
